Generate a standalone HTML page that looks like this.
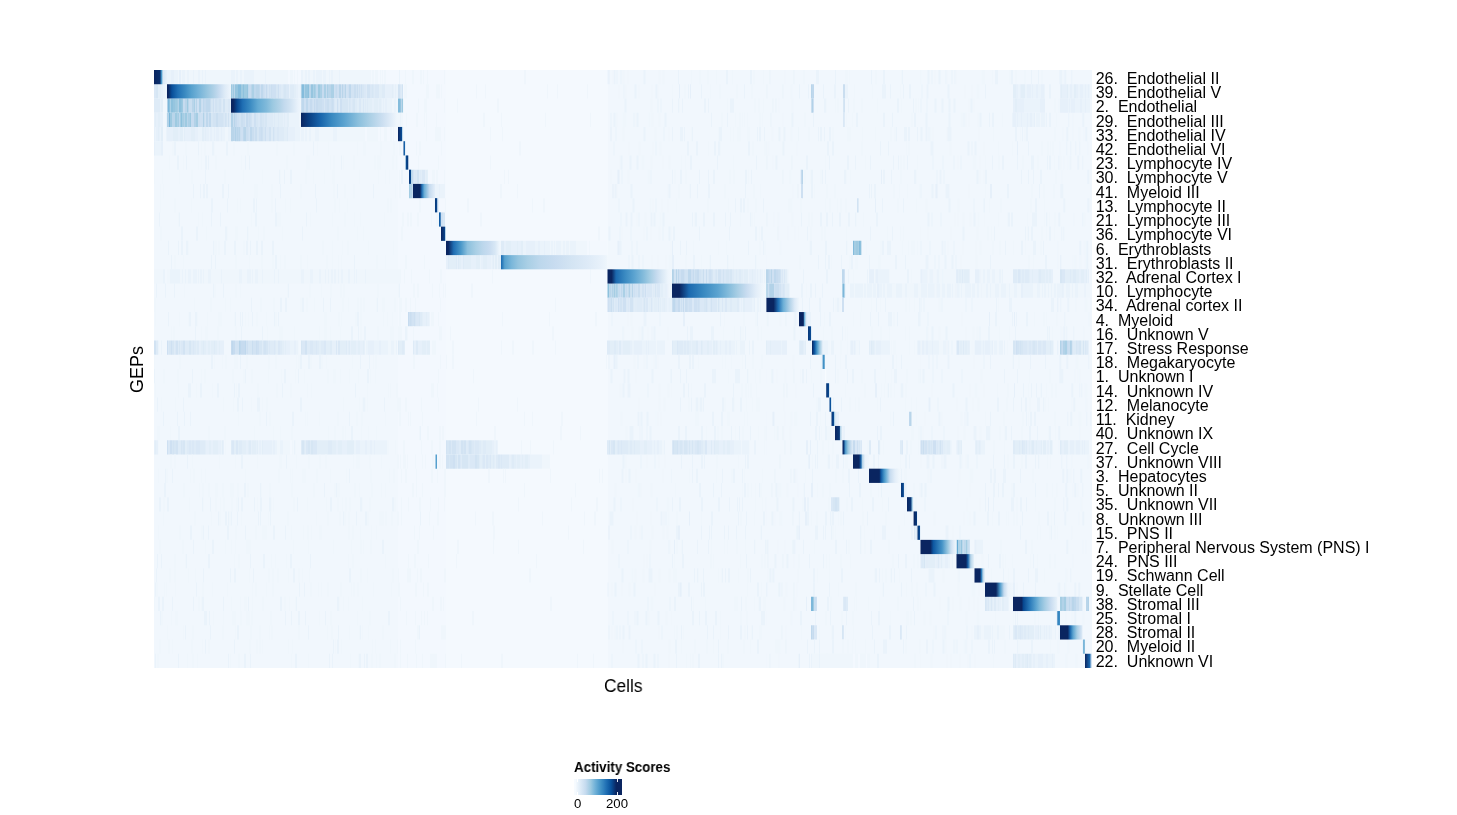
<!DOCTYPE html>
<html><head><meta charset="utf-8"><style>
html,body{margin:0;padding:0;background:#fff;width:1457px;height:815px;overflow:hidden;position:relative}
body{font-family:"Liberation Sans",sans-serif;color:#000}
.t,#labels{will-change:transform}
.l{position:absolute;left:1095.7px;margin-top:2px;white-space:pre;font-size:16px;line-height:14.238px;height:14.238px}
.t{position:absolute;white-space:pre}
</style></head><body>
<svg width="1457" height="815" style="position:absolute;left:0;top:0" shape-rendering="crispEdges"><defs><linearGradient id="g1" x1="0" x2="1" y1="0" y2="0"><stop offset="0.000" stop-color="#0a2560"/><stop offset="0.462" stop-color="#0a306e"/><stop offset="0.577" stop-color="#4a98c9"/><stop offset="0.692" stop-color="#d9e8f5"/><stop offset="1.000" stop-color="#e7f1fa"/></linearGradient><linearGradient id="g2" x1="0" x2="1" y1="0" y2="0"><stop offset="0.000" stop-color="#0a2560"/><stop offset="0.019" stop-color="#0a2560"/><stop offset="0.078" stop-color="#084f9a"/><stop offset="0.172" stop-color="#2171b5"/><stop offset="0.277" stop-color="#3989c1"/><stop offset="0.380" stop-color="#57a1ce"/><stop offset="0.491" stop-color="#73b2d8"/><stop offset="0.620" stop-color="#94c4df"/><stop offset="0.731" stop-color="#b0d1e7"/><stop offset="0.817" stop-color="#c8dcf0"/><stop offset="0.903" stop-color="#deebf7"/><stop offset="0.980" stop-color="#ebf3fb"/><stop offset="1.000" stop-color="#eff6fc"/></linearGradient><linearGradient id="g3" x1="0" x2="1" y1="0" y2="0"><stop offset="0.007" stop-color="#0a2560"/><stop offset="0.031" stop-color="#0a2560"/><stop offset="0.087" stop-color="#084890"/><stop offset="0.166" stop-color="#1f6eb3"/><stop offset="0.267" stop-color="#3989c1"/><stop offset="0.386" stop-color="#64aad3"/><stop offset="0.503" stop-color="#7fb9da"/><stop offset="0.597" stop-color="#9cc9e1"/><stop offset="0.699" stop-color="#b3d3e8"/><stop offset="0.761" stop-color="#c3daee"/><stop offset="0.856" stop-color="#d3e4f3"/><stop offset="0.957" stop-color="#e9f2fb"/><stop offset="1.000" stop-color="#eff6fc"/></linearGradient><linearGradient id="g4" x1="0" x2="1" y1="0" y2="0"><stop offset="0.000" stop-color="#0a2560"/><stop offset="0.079" stop-color="#093e82"/><stop offset="0.198" stop-color="#1764ab"/><stop offset="0.317" stop-color="#3989c1"/><stop offset="0.445" stop-color="#5ba3d0"/><stop offset="0.594" stop-color="#8cc0dd"/><stop offset="0.713" stop-color="#acd0e6"/><stop offset="0.841" stop-color="#ccdff1"/><stop offset="0.940" stop-color="#e3eef9"/><stop offset="0.990" stop-color="#eff6fc"/><stop offset="1.000" stop-color="#eff6fc"/></linearGradient><linearGradient id="g5" x1="0" x2="1" y1="0" y2="0"><stop offset="0.000" stop-color="#0a2560"/><stop offset="0.636" stop-color="#084890"/><stop offset="0.782" stop-color="#b6d4e9"/><stop offset="1.000" stop-color="#edf5fc"/></linearGradient><linearGradient id="g6" x1="0" x2="1" y1="0" y2="0"><stop offset="0.000" stop-color="#084890"/><stop offset="0.611" stop-color="#1764ab"/><stop offset="1.000" stop-color="#b6d4e9"/></linearGradient><linearGradient id="g7" x1="0" x2="1" y1="0" y2="0"><stop offset="0.000" stop-color="#a6cde4"/><stop offset="0.270" stop-color="#084890"/><stop offset="0.730" stop-color="#093778"/><stop offset="0.892" stop-color="#d0e1f2"/><stop offset="1.000" stop-color="#ebf3fb"/></linearGradient><linearGradient id="g8" x1="0" x2="1" y1="0" y2="0"><stop offset="0.000" stop-color="#093778"/><stop offset="0.720" stop-color="#084890"/><stop offset="1.000" stop-color="#94c4df"/></linearGradient><linearGradient id="g9" x1="0" x2="1" y1="0" y2="0"><stop offset="0.000" stop-color="#0a2560"/><stop offset="0.318" stop-color="#0a2560"/><stop offset="0.409" stop-color="#2171b5"/><stop offset="0.514" stop-color="#6baed6"/><stop offset="0.750" stop-color="#c6dbef"/><stop offset="1.000" stop-color="#e3eef9"/></linearGradient><linearGradient id="g10" x1="0" x2="1" y1="0" y2="0"><stop offset="0.000" stop-color="#093778"/><stop offset="0.500" stop-color="#084890"/><stop offset="0.650" stop-color="#d0e1f2"/><stop offset="1.000" stop-color="#edf5fc"/></linearGradient><linearGradient id="g11" x1="0" x2="1" y1="0" y2="0"><stop offset="0.000" stop-color="#0d57a1"/><stop offset="0.650" stop-color="#1764ab"/><stop offset="1.000" stop-color="#d0e1f2"/></linearGradient><linearGradient id="g12" x1="0" x2="1" y1="0" y2="0"><stop offset="0.000" stop-color="#0a2560"/><stop offset="0.700" stop-color="#094186"/><stop offset="0.900" stop-color="#b6d4e9"/><stop offset="1.000" stop-color="#e7f1fa"/></linearGradient><linearGradient id="g13" x1="0" x2="1" y1="0" y2="0"><stop offset="0.004" stop-color="#0a2560"/><stop offset="0.040" stop-color="#0a2560"/><stop offset="0.140" stop-color="#1f6eb3"/><stop offset="0.271" stop-color="#4a98c9"/><stop offset="0.391" stop-color="#8cc0dd"/><stop offset="0.540" stop-color="#a9cfe5"/><stop offset="0.669" stop-color="#bcd7ec"/><stop offset="0.789" stop-color="#c8dcf0"/><stop offset="0.889" stop-color="#d7e7f5"/><stop offset="0.969" stop-color="#edf5fc"/><stop offset="1.000" stop-color="#eff6fc"/></linearGradient><linearGradient id="g14" x1="0" x2="1" y1="0" y2="0"><stop offset="0.000" stop-color="#2171b5"/><stop offset="0.006" stop-color="#2171b5"/><stop offset="0.035" stop-color="#57a1ce"/><stop offset="0.101" stop-color="#7bb7da"/><stop offset="0.160" stop-color="#94c4df"/><stop offset="0.250" stop-color="#a9cfe5"/><stop offset="0.362" stop-color="#bcd7ec"/><stop offset="0.509" stop-color="#c8dcf0"/><stop offset="0.657" stop-color="#d3e4f3"/><stop offset="0.806" stop-color="#ddeaf7"/><stop offset="0.954" stop-color="#e9f2fb"/><stop offset="1.000" stop-color="#eff6fc"/></linearGradient><linearGradient id="g15" x1="0" x2="1" y1="0" y2="0"><stop offset="0.005" stop-color="#0a2560"/><stop offset="0.065" stop-color="#0a2560"/><stop offset="0.132" stop-color="#1b69af"/><stop offset="0.267" stop-color="#3989c1"/><stop offset="0.411" stop-color="#5ba3d0"/><stop offset="0.553" stop-color="#83bbdb"/><stop offset="0.650" stop-color="#a3cce3"/><stop offset="0.764" stop-color="#c6dbef"/><stop offset="0.842" stop-color="#d9e8f5"/><stop offset="0.938" stop-color="#edf5fc"/><stop offset="1.000" stop-color="#f1f7fd"/></linearGradient><linearGradient id="g16" x1="0" x2="1" y1="0" y2="0"><stop offset="0.002" stop-color="#0a2560"/><stop offset="0.078" stop-color="#0a2560"/><stop offset="0.180" stop-color="#1b69af"/><stop offset="0.333" stop-color="#3989c1"/><stop offset="0.485" stop-color="#5ba3d0"/><stop offset="0.587" stop-color="#7fb9da"/><stop offset="0.689" stop-color="#a6cde4"/><stop offset="0.791" stop-color="#c8dcf0"/><stop offset="0.893" stop-color="#e3eef9"/><stop offset="0.964" stop-color="#eff6fc"/><stop offset="1.000" stop-color="#f1f7fd"/></linearGradient><linearGradient id="g17" x1="0" x2="1" y1="0" y2="0"><stop offset="0.006" stop-color="#0a2560"/><stop offset="0.218" stop-color="#0a2560"/><stop offset="0.368" stop-color="#2171b5"/><stop offset="0.515" stop-color="#6baed6"/><stop offset="0.724" stop-color="#b6d4e9"/><stop offset="0.868" stop-color="#ddeaf7"/><stop offset="1.000" stop-color="#eff6fc"/></linearGradient><linearGradient id="g18" x1="0" x2="1" y1="0" y2="0"><stop offset="0.000" stop-color="#0a2560"/><stop offset="0.478" stop-color="#0a2560"/><stop offset="0.611" stop-color="#6baed6"/><stop offset="0.778" stop-color="#d9e8f5"/><stop offset="1.000" stop-color="#edf5fc"/></linearGradient><linearGradient id="g19" x1="0" x2="1" y1="0" y2="0"><stop offset="0.000" stop-color="#093778"/><stop offset="0.625" stop-color="#084890"/><stop offset="0.750" stop-color="#d0e1f2"/><stop offset="1.000" stop-color="#edf5fc"/></linearGradient><linearGradient id="g20" x1="0" x2="1" y1="0" y2="0"><stop offset="0.000" stop-color="#0a2560"/><stop offset="0.236" stop-color="#0d57a1"/><stop offset="0.472" stop-color="#4a98c9"/><stop offset="0.755" stop-color="#a6cde4"/><stop offset="1.000" stop-color="#dfecf7"/></linearGradient><linearGradient id="g21" x1="0" x2="1" y1="0" y2="0"><stop offset="0.000" stop-color="#3989c1"/><stop offset="0.708" stop-color="#4a98c9"/><stop offset="1.000" stop-color="#e3eef9"/></linearGradient><linearGradient id="g22" x1="0" x2="1" y1="0" y2="0"><stop offset="0.000" stop-color="#f7fbff"/><stop offset="1.000" stop-color="#f7fbff"/></linearGradient><linearGradient id="g23" x1="0" x2="1" y1="0" y2="0"><stop offset="0.000" stop-color="#093778"/><stop offset="0.848" stop-color="#084890"/><stop offset="1.000" stop-color="#b6d4e9"/></linearGradient><linearGradient id="g24" x1="0" x2="1" y1="0" y2="0"><stop offset="0.000" stop-color="#084890"/><stop offset="0.750" stop-color="#0d57a1"/><stop offset="1.000" stop-color="#b6d4e9"/></linearGradient><linearGradient id="g25" x1="0" x2="1" y1="0" y2="0"><stop offset="0.000" stop-color="#093778"/><stop offset="0.600" stop-color="#084890"/><stop offset="0.800" stop-color="#94c4df"/><stop offset="1.000" stop-color="#e7f1fa"/></linearGradient><linearGradient id="g26" x1="0" x2="1" y1="0" y2="0"><stop offset="0.000" stop-color="#0a2560"/><stop offset="0.587" stop-color="#093778"/><stop offset="0.733" stop-color="#b6d4e9"/><stop offset="1.000" stop-color="#edf5fc"/></linearGradient><linearGradient id="g27" x1="0" x2="1" y1="0" y2="0"><stop offset="0.000" stop-color="#0a2560"/><stop offset="0.143" stop-color="#093778"/><stop offset="0.238" stop-color="#4493c7"/><stop offset="0.524" stop-color="#9cc9e1"/><stop offset="0.810" stop-color="#ccdff1"/><stop offset="1.000" stop-color="#dfecf7"/></linearGradient><linearGradient id="g28" x1="0" x2="1" y1="0" y2="0"><stop offset="0.000" stop-color="#0a2560"/><stop offset="0.375" stop-color="#0a2560"/><stop offset="0.500" stop-color="#1764ab"/><stop offset="0.594" stop-color="#b6d4e9"/><stop offset="0.750" stop-color="#ebf3fb"/><stop offset="1.000" stop-color="#eff6fc"/></linearGradient><linearGradient id="g29" x1="0" x2="1" y1="0" y2="0"><stop offset="0.000" stop-color="#0a2560"/><stop offset="0.322" stop-color="#0a2560"/><stop offset="0.375" stop-color="#0d57a1"/><stop offset="0.469" stop-color="#4493c7"/><stop offset="0.531" stop-color="#6baed6"/><stop offset="0.656" stop-color="#c6dbef"/><stop offset="0.812" stop-color="#e3eef9"/><stop offset="0.938" stop-color="#eff6fc"/><stop offset="1.000" stop-color="#f1f7fd"/></linearGradient><linearGradient id="g30" x1="0" x2="1" y1="0" y2="0"><stop offset="0.000" stop-color="#093778"/><stop offset="0.400" stop-color="#084890"/><stop offset="0.583" stop-color="#e3eef9"/><stop offset="1.000" stop-color="#eff6fc"/></linearGradient><linearGradient id="g31" x1="0" x2="1" y1="0" y2="0"><stop offset="0.000" stop-color="#0a2560"/><stop offset="0.606" stop-color="#093778"/><stop offset="0.758" stop-color="#94c4df"/><stop offset="1.000" stop-color="#edf5fc"/></linearGradient><linearGradient id="g32" x1="0" x2="1" y1="0" y2="0"><stop offset="0.000" stop-color="#0a2560"/><stop offset="0.769" stop-color="#093778"/><stop offset="1.000" stop-color="#e3eef9"/></linearGradient><linearGradient id="g33" x1="0" x2="1" y1="0" y2="0"><stop offset="0.000" stop-color="#093778"/><stop offset="0.667" stop-color="#084890"/><stop offset="1.000" stop-color="#d9e8f5"/></linearGradient><linearGradient id="g34" x1="0" x2="1" y1="0" y2="0"><stop offset="0.000" stop-color="#0a2560"/><stop offset="0.272" stop-color="#0a2560"/><stop offset="0.356" stop-color="#0d57a1"/><stop offset="0.597" stop-color="#4493c7"/><stop offset="0.764" stop-color="#9cc9e1"/><stop offset="0.847" stop-color="#ccdff1"/><stop offset="0.931" stop-color="#e3eef9"/><stop offset="1.000" stop-color="#eff6fc"/></linearGradient><linearGradient id="g35" x1="0" x2="1" y1="0" y2="0"><stop offset="0.000" stop-color="#0a2560"/><stop offset="0.528" stop-color="#0a2560"/><stop offset="0.639" stop-color="#1764ab"/><stop offset="0.789" stop-color="#b6d4e9"/><stop offset="1.000" stop-color="#edf5fc"/></linearGradient><linearGradient id="g36" x1="0" x2="1" y1="0" y2="0"><stop offset="0.000" stop-color="#0a2560"/><stop offset="0.524" stop-color="#0a2560"/><stop offset="0.667" stop-color="#2e7ebc"/><stop offset="0.810" stop-color="#b6d4e9"/><stop offset="1.000" stop-color="#edf5fc"/></linearGradient><linearGradient id="g37" x1="0" x2="1" y1="0" y2="0"><stop offset="0.000" stop-color="#0a2560"/><stop offset="0.393" stop-color="#0a2560"/><stop offset="0.536" stop-color="#4a98c9"/><stop offset="0.679" stop-color="#c6dbef"/><stop offset="0.821" stop-color="#ebf3fb"/><stop offset="1.000" stop-color="#eff6fc"/></linearGradient><linearGradient id="g38" x1="0" x2="1" y1="0" y2="0"><stop offset="0.000" stop-color="#0a2560"/><stop offset="0.196" stop-color="#0a2560"/><stop offset="0.237" stop-color="#084890"/><stop offset="0.377" stop-color="#2979b9"/><stop offset="0.517" stop-color="#5ba3d0"/><stop offset="0.600" stop-color="#7fb9da"/><stop offset="0.722" stop-color="#a6cde4"/><stop offset="0.851" stop-color="#c8dcf0"/><stop offset="0.962" stop-color="#dfecf7"/><stop offset="1.000" stop-color="#e7f1fa"/></linearGradient><linearGradient id="g39" x1="0" x2="1" y1="0" y2="0"><stop offset="0.000" stop-color="#2e7ebc"/><stop offset="0.815" stop-color="#3b8bc3"/><stop offset="1.000" stop-color="#e3eef9"/></linearGradient><linearGradient id="g40" x1="0" x2="1" y1="0" y2="0"><stop offset="0.000" stop-color="#0a2560"/><stop offset="0.347" stop-color="#0a2560"/><stop offset="0.444" stop-color="#1764ab"/><stop offset="0.578" stop-color="#5ba3d0"/><stop offset="0.756" stop-color="#a6cde4"/><stop offset="0.889" stop-color="#c6dbef"/><stop offset="1.000" stop-color="#dfecf7"/></linearGradient><linearGradient id="g41" x1="0" x2="1" y1="0" y2="0"><stop offset="0.000" stop-color="#e3eef9"/><stop offset="0.200" stop-color="#73b2d8"/><stop offset="0.920" stop-color="#8cc0dd"/><stop offset="1.000" stop-color="#e3eef9"/></linearGradient><linearGradient id="g42" x1="0" x2="1" y1="0" y2="0"><stop offset="0.000" stop-color="#0a2560"/><stop offset="0.662" stop-color="#1764ab"/><stop offset="1.000" stop-color="#e3eef9"/></linearGradient></defs><rect x="154" y="70" width="937.8" height="598" fill="#f4f9fe"/><rect x="154" y="70" width="244" height="598" fill="#f1f7fd"/><rect x="398" y="70" width="48" height="598" fill="#f3f8fe"/><rect x="607.5" y="70" width="484.3" height="598" fill="#f1f7fd"/><g shape-rendering="auto"><g transform="translate(0 70.000) scale(1 14.2381)"><path fill="#eaf3fb" d="M159 0h1v1h-1zM176 0h1v1h-1zM191 0h1v1h-1zM248 0h1v1h-1zM283 0h1v1h-1zM296 0h1v1h-1zM313 0h1v1h-1zM344 0h1v1h-1zM383 0h2v1h-2zM399 0h1v1h-1zM607.5 0h1v1h-1zM613.5 0h2v1h-2zM616.5 0h1v1h-1zM620.5 0h1v1h-1zM643.5 0h2v1h-2zM678 0h1v1h-1zM726 0h2v1h-2zM750 0h2v1h-2zM769.4 0h1v1h-1zM793.4 0h1v1h-1zM816 0h1v1h-1zM817 0h2v1h-2zM835 0h1v1h-1zM871 0h1v1h-1zM883 0h2v1h-2zM902 0h1v1h-1zM927.5 0h2v1h-2zM931.5 0h1v1h-1zM938.5 0h2v1h-2zM945.5 0h1v1h-1zM951.5 0h1v1h-1zM954.5 0h1v1h-1zM995 0h1v1h-1zM996 0h2v1h-2zM1011 0h2v1h-2zM1031 0h1v1h-1zM1038 0h1v1h-1zM1059.3 0h1v1h-1zM1060.3 0h2v1h-2zM1064.3 0h2v1h-2zM1071.3 0h1v1h-1zM167 0h1v1h-1zM168 0h2v1h-2zM170 0h1v1h-1zM174 0h1v1h-1zM175 0h1v1h-1zM176 0h1v1h-1zM177 0h1v1h-1zM182 0h2v1h-2zM184 0h1v1h-1zM187 0h1v1h-1zM188 0h1v1h-1zM193 0h1v1h-1zM196 0h1v1h-1zM198 0h2v1h-2zM202 0h1v1h-1zM205 0h1v1h-1zM231 0h1v1h-1zM232 0h2v1h-2zM234 0h1v1h-1zM236 0h1v1h-1zM237 0h1v1h-1zM240 0h2v1h-2zM244 0h1v1h-1zM245 0h1v1h-1zM246 0h1v1h-1zM247 0h2v1h-2zM249 0h1v1h-1zM250 0h2v1h-2zM252 0h1v1h-1zM253 0h1v1h-1zM265 0h1v1h-1zM301 0h2v1h-2zM305 0h2v1h-2zM308 0h2v1h-2zM312 0h1v1h-1zM313 0h1v1h-1zM314 0h2v1h-2zM316 0h1v1h-1zM317 0h2v1h-2zM319 0h2v1h-2zM321 0h1v1h-1zM322 0h2v1h-2zM324 0h1v1h-1zM325 0h1v1h-1zM329 0h1v1h-1zM331 0h2v1h-2zM339 0h1v1h-1z"/><path fill="#eff6fc" d="M195 0h2v1h-2zM222 0h2v1h-2zM285 0h2v1h-2zM312 0h1v1h-1zM315 0h1v1h-1zM322 0h1v1h-1zM327 0h1v1h-1zM333 0h1v1h-1zM345 0h1v1h-1zM353 0h2v1h-2zM360 0h1v1h-1zM376 0h1v1h-1zM382 0h1v1h-1zM387 0h2v1h-2zM391 0h2v1h-2zM396 0h1v1h-1zM405 0h1v1h-1zM412 0h2v1h-2zM420 0h1v1h-1zM421 0h1v1h-1zM423 0h1v1h-1zM427 0h1v1h-1zM444 0h1v1h-1zM524 0h2v1h-2zM612.5 0h1v1h-1zM622.5 0h2v1h-2zM627.5 0h1v1h-1zM658.5 0h2v1h-2zM662.5 0h2v1h-2zM691 0h1v1h-1zM699 0h2v1h-2zM707 0h2v1h-2zM716 0h1v1h-1zM732 0h1v1h-1zM753 0h1v1h-1zM754 0h1v1h-1zM763 0h1v1h-1zM784.4 0h1v1h-1zM803 0h2v1h-2zM845 0h2v1h-2zM847 0h1v1h-1zM849 0h1v1h-1zM875 0h2v1h-2zM901 0h1v1h-1zM920 0h0.5v1h-0.5zM920.5 0h1v1h-1zM934.5 0h1v1h-1zM946.5 0h1v1h-1zM955.5 0h1v1h-1zM981.5 0h2v1h-2zM983.5 0h1v1h-1zM984.5 0h0.5v1h-0.5zM992 0h1v1h-1zM1009 0h2v1h-2zM1015 0h2v1h-2zM1024 0h2v1h-2zM1041 0h2v1h-2zM1063.3 0h1v1h-1zM178 0h1v1h-1zM181 0h1v1h-1zM185 0h2v1h-2zM189 0h1v1h-1zM190 0h2v1h-2zM192 0h1v1h-1zM194 0h2v1h-2zM197 0h1v1h-1zM200 0h1v1h-1zM201 0h1v1h-1zM203 0h2v1h-2zM206 0h1v1h-1zM207 0h2v1h-2zM209 0h2v1h-2zM211 0h1v1h-1zM212 0h1v1h-1zM213 0h1v1h-1zM214 0h1v1h-1zM215 0h1v1h-1zM216 0h2v1h-2zM218 0h2v1h-2zM220 0h1v1h-1zM221 0h1v1h-1zM222 0h1v1h-1zM223 0h1v1h-1zM224 0h1v1h-1zM225 0h2v1h-2zM227 0h1v1h-1zM228 0h1v1h-1zM229 0h2v1h-2zM235 0h1v1h-1zM238 0h2v1h-2zM242 0h1v1h-1zM243 0h1v1h-1zM254 0h2v1h-2zM256 0h1v1h-1zM257 0h2v1h-2zM259 0h1v1h-1zM260 0h1v1h-1zM261 0h2v1h-2zM263 0h1v1h-1zM264 0h1v1h-1zM266 0h1v1h-1zM267 0h1v1h-1zM268 0h1v1h-1zM269 0h1v1h-1zM270 0h1v1h-1zM271 0h1v1h-1zM272 0h1v1h-1zM273 0h1v1h-1zM274 0h1v1h-1zM275 0h1v1h-1zM276 0h1v1h-1zM277 0h1v1h-1zM278 0h2v1h-2zM280 0h1v1h-1zM281 0h1v1h-1zM282 0h1v1h-1zM283 0h1v1h-1zM284 0h1v1h-1zM285 0h1v1h-1zM286 0h1v1h-1zM287 0h1v1h-1zM290 0h1v1h-1zM291 0h2v1h-2zM294 0h1v1h-1zM297 0h1v1h-1zM303 0h2v1h-2zM307 0h1v1h-1zM310 0h2v1h-2zM326 0h1v1h-1zM327 0h2v1h-2zM330 0h1v1h-1zM333 0h1v1h-1zM334 0h1v1h-1zM335 0h1v1h-1zM336 0h2v1h-2zM338 0h1v1h-1zM340 0h1v1h-1zM341 0h2v1h-2zM343 0h2v1h-2zM345 0h1v1h-1zM346 0h1v1h-1zM347 0h1v1h-1zM348 0h2v1h-2zM350 0h1v1h-1zM351 0h1v1h-1zM352 0h1v1h-1zM353 0h1v1h-1zM354 0h1v1h-1zM355 0h1v1h-1zM356 0h1v1h-1zM357 0h2v1h-2zM359 0h1v1h-1zM360 0h1v1h-1zM361 0h1v1h-1zM362 0h2v1h-2zM364 0h1v1h-1zM365 0h1v1h-1zM366 0h1v1h-1zM367 0h1v1h-1zM368 0h1v1h-1zM369 0h1v1h-1zM370 0h1v1h-1zM372 0h2v1h-2zM375 0h1v1h-1zM376 0h1v1h-1zM377 0h1v1h-1zM380 0h1v1h-1zM382 0h1v1h-1zM384 0h2v1h-2z"/><path fill="#e6f0fa" d="M608.5 0h1v1h-1zM171 0h2v1h-2zM173 0h1v1h-1zM179 0h2v1h-2z"/><path fill="#f3f8fe" d="M288 0h1v1h-1zM289 0h1v1h-1zM293 0h1v1h-1zM295 0h2v1h-2zM298 0h2v1h-2zM300 0h1v1h-1zM371 0h1v1h-1zM374 0h1v1h-1zM378 0h2v1h-2zM381 0h1v1h-1zM383 0h1v1h-1zM386 0h2v1h-2zM388 0h1v1h-1zM389 0h2v1h-2zM391 0h2v1h-2zM393 0h2v1h-2zM395 0h1v1h-1zM396 0h1v1h-1zM397 0h1v1h-1z"/></g><g transform="translate(0 84.238) scale(1 14.2381)"><path fill="#eaf3fb" d="M160 0h2v1h-2zM166 0h2v1h-2zM196 0h2v1h-2zM209 0h2v1h-2zM216 0h2v1h-2zM321 0h2v1h-2zM338 0h2v1h-2zM390 0h1v1h-1zM623.5 0h1v1h-1zM634.5 0h2v1h-2zM655.5 0h2v1h-2zM688 0h1v1h-1zM701 0h1v1h-1zM744 0h1v1h-1zM766.4 0h1v1h-1zM782.4 0h1v1h-1zM799 0h1v1h-1zM808 0h1v1h-1zM823 0h1v1h-1zM834 0h2v1h-2zM845 0h2v1h-2zM847 0h1v1h-1zM882 0h2v1h-2zM884 0h2v1h-2zM890 0h1v1h-1zM903 0h1v1h-1zM909 0h2v1h-2zM921.5 0h1v1h-1zM926.5 0h1v1h-1zM927.5 0h1v1h-1zM947.5 0h2v1h-2zM985 0h1v1h-1zM1041 0h1v1h-1zM1049 0h2v1h-2zM1069.3 0h2v1h-2zM163 0h2v1h-2zM166 0h1v1h-1zM298 0h2v1h-2zM394 0h1v1h-1zM396 0h1v1h-1zM397 0h1v1h-1zM1018 0h2v1h-2zM1025 0h2v1h-2zM1031 0h1v1h-1zM1033 0h1v1h-1zM1034 0h1v1h-1zM1035 0h1v1h-1zM1038 0h1v1h-1zM1039 0h1v1h-1zM1040 0h1v1h-1zM1044 0h1v1h-1zM1068 0h2v1h-2zM1072 0h2v1h-2zM1078 0h1v1h-1zM1079 0h1v1h-1zM1083 0h2v1h-2zM1086 0h2v1h-2zM1089 0h1v1h-1z"/><path fill="#eff6fc" d="M180 0h1v1h-1zM212 0h2v1h-2zM238 0h1v1h-1zM252 0h1v1h-1zM307 0h1v1h-1zM316 0h1v1h-1zM328 0h2v1h-2zM356 0h1v1h-1zM371 0h1v1h-1zM387 0h1v1h-1zM392 0h1v1h-1zM404 0h2v1h-2zM406 0h1v1h-1zM426 0h2v1h-2zM428 0h1v1h-1zM436 0h2v1h-2zM438 0h1v1h-1zM439 0h1v1h-1zM441 0h1v1h-1zM476 0h1v1h-1zM485 0h1v1h-1zM547 0h1v1h-1zM557 0h1v1h-1zM587 0h1v1h-1zM618.5 0h1v1h-1zM624.5 0h2v1h-2zM638.5 0h1v1h-1zM651.5 0h1v1h-1zM657.5 0h1v1h-1zM672 0h1v1h-1zM684 0h2v1h-2zM710 0h1v1h-1zM719 0h2v1h-2zM736 0h2v1h-2zM751 0h2v1h-2zM790.4 0h2v1h-2zM854 0h1v1h-1zM872 0h1v1h-1zM900 0h1v1h-1zM964.5 0h1v1h-1zM971.5 0h1v1h-1zM976.5 0h2v1h-2zM978.5 0h1v1h-1zM1060.3 0h2v1h-2zM1090.3 0h1.5v1h-1.5zM165 0h1v1h-1z"/><path fill="#e6f0fa" d="M679 0h1v1h-1zM690 0h1v1h-1zM161 0h2v1h-2zM289 0h1v1h-1zM296 0h2v1h-2zM300 0h1v1h-1zM385 0h2v1h-2zM387 0h2v1h-2zM389 0h1v1h-1zM390 0h1v1h-1zM391 0h1v1h-1zM393 0h1v1h-1zM395 0h1v1h-1zM1016 0h2v1h-2zM1020 0h1v1h-1zM1027 0h1v1h-1zM1028 0h1v1h-1zM1029 0h1v1h-1zM1030 0h1v1h-1zM1032 0h1v1h-1zM1036 0h2v1h-2zM1041 0h2v1h-2zM1043 0h1v1h-1zM1060 0h1v1h-1zM1062 0h2v1h-2zM1064 0h1v1h-1zM1065 0h1v1h-1zM1066 0h1v1h-1zM1070 0h2v1h-2zM1076 0h1v1h-1zM1077 0h1v1h-1zM1080 0h1v1h-1zM1081 0h2v1h-2zM1085 0h1v1h-1zM1088 0h1v1h-1z"/><path fill="#dae8f6" d="M154 0h2v1h-2zM279 0h1v1h-1zM280 0h1v1h-1zM283 0h1v1h-1zM286 0h1v1h-1zM287 0h2v1h-2zM364 0h2v1h-2zM370 0h2v1h-2zM373 0h1v1h-1zM375 0h1v1h-1zM376 0h1v1h-1zM377 0h1v1h-1zM378 0h1v1h-1zM400 0h1v1h-1z"/><path fill="#d6e6f4" d="M156 0h2v1h-2zM268 0h1v1h-1zM276 0h2v1h-2zM284 0h1v1h-1zM285 0h1v1h-1zM358 0h1v1h-1zM360 0h1v1h-1zM362 0h2v1h-2zM372 0h1v1h-1z"/><path fill="#e2eef8" d="M158 0h1v1h-1zM159 0h1v1h-1zM160 0h1v1h-1zM294 0h1v1h-1zM295 0h1v1h-1zM379 0h1v1h-1zM380 0h2v1h-2zM392 0h1v1h-1zM1013 0h1v1h-1zM1014 0h2v1h-2zM1021 0h1v1h-1zM1022 0h2v1h-2zM1024 0h1v1h-1zM1061 0h1v1h-1zM1067 0h1v1h-1zM1074 0h2v1h-2z"/><path fill="#9ecae1" d="M231 0h1v1h-1zM233 0h1v1h-1zM241 0h2v1h-2zM244 0h2v1h-2zM246 0h1v1h-1zM314 0h1v1h-1zM318 0h2v1h-2z"/><path fill="#b2d2e8" d="M232 0h1v1h-1z"/><path fill="#b9d5ea" d="M234 0h1v1h-1zM251 0h1v1h-1zM256 0h2v1h-2zM258 0h1v1h-1zM309 0h2v1h-2zM328 0h2v1h-2zM330 0h1v1h-1zM339 0h2v1h-2zM342 0h1v1h-1zM345 0h1v1h-1zM811 0h1v1h-1z"/><path fill="#96c5df" d="M235 0h1v1h-1zM236 0h2v1h-2zM247 0h1v1h-1zM305 0h2v1h-2zM307 0h1v1h-1zM311 0h2v1h-2z"/><path fill="#84bcdc" d="M238 0h1v1h-1zM239 0h2v1h-2zM302 0h2v1h-2z"/><path fill="#8dc1dd" d="M243 0h1v1h-1zM308 0h1v1h-1z"/><path fill="#bfd8ed" d="M248 0h1v1h-1zM254 0h2v1h-2zM259 0h1v1h-1zM261 0h1v1h-1zM262 0h1v1h-1zM316 0h2v1h-2zM349 0h2v1h-2zM812 0h2v1h-2z"/><path fill="#c6dbef" d="M249 0h1v1h-1zM250 0h1v1h-1zM266 0h1v1h-1zM322 0h2v1h-2zM326 0h1v1h-1zM336 0h1v1h-1z"/><path fill="#abd0e6" d="M252 0h2v1h-2zM301 0h1v1h-1zM304 0h1v1h-1zM313 0h1v1h-1zM315 0h1v1h-1zM320 0h2v1h-2zM324 0h2v1h-2zM327 0h1v1h-1zM331 0h2v1h-2zM333 0h1v1h-1z"/><path fill="#cee0f2" d="M260 0h1v1h-1zM264 0h1v1h-1zM269 0h1v1h-1zM272 0h2v1h-2zM274 0h2v1h-2zM278 0h1v1h-1zM334 0h1v1h-1zM337 0h2v1h-2zM341 0h1v1h-1zM348 0h1v1h-1zM359 0h1v1h-1zM361 0h1v1h-1z"/><path fill="#cadef0" d="M263 0h1v1h-1zM271 0h1v1h-1zM335 0h1v1h-1zM343 0h2v1h-2zM354 0h2v1h-2zM357 0h1v1h-1zM843 0h2v1h-2z"/><path fill="#d2e3f3" d="M265 0h1v1h-1zM267 0h1v1h-1zM270 0h1v1h-1zM346 0h2v1h-2zM351 0h2v1h-2zM353 0h1v1h-1zM356 0h1v1h-1zM367 0h2v1h-2zM369 0h1v1h-1zM398 0h2v1h-2zM402 0h1v1h-1z"/><path fill="#deebf7" d="M281 0h2v1h-2zM290 0h1v1h-1zM291 0h1v1h-1zM292 0h2v1h-2zM366 0h1v1h-1zM374 0h1v1h-1zM382 0h2v1h-2zM384 0h1v1h-1zM401 0h1v1h-1z"/></g><g transform="translate(0 98.476) scale(1 14.2381)"><path fill="#eff6fc" d="M158 0h1v1h-1zM174 0h1v1h-1zM175 0h2v1h-2zM177 0h1v1h-1zM178 0h2v1h-2zM184 0h1v1h-1zM193 0h2v1h-2zM195 0h2v1h-2zM213 0h1v1h-1zM218 0h2v1h-2zM232 0h1v1h-1zM239 0h1v1h-1zM256 0h2v1h-2zM260 0h1v1h-1zM273 0h2v1h-2zM281 0h2v1h-2zM293 0h1v1h-1zM295 0h2v1h-2zM299 0h2v1h-2zM308 0h1v1h-1zM309 0h2v1h-2zM311 0h2v1h-2zM314 0h1v1h-1zM327 0h2v1h-2zM329 0h2v1h-2zM333 0h1v1h-1zM337 0h2v1h-2zM363 0h1v1h-1zM372 0h1v1h-1zM394 0h1v1h-1zM403 0h1v1h-1zM418 0h1v1h-1zM424 0h2v1h-2zM426 0h1v1h-1zM444 0h1v1h-1zM457 0h1v1h-1zM497 0h2v1h-2zM650.5 0h2v1h-2zM679 0h1v1h-1zM727 0h1v1h-1zM754 0h2v1h-2zM758 0h2v1h-2zM763 0h1v1h-1zM778.4 0h1v1h-1zM791.4 0h2v1h-2zM826 0h1v1h-1zM835 0h1v1h-1zM837 0h2v1h-2zM853 0h2v1h-2zM861 0h2v1h-2zM877 0h1v1h-1zM901 0h1v1h-1zM915 0h2v1h-2zM918 0h1v1h-1zM968.5 0h1v1h-1zM973.5 0h1v1h-1zM1021 0h1v1h-1zM1034 0h1v1h-1zM1054 0h2v1h-2zM1058.3 0h2v1h-2zM1078.3 0h1v1h-1zM1079.3 0h2v1h-2zM1088.3 0h1v1h-1zM392 0h1v1h-1zM393 0h1v1h-1zM396 0h2v1h-2z"/><path fill="#eaf3fb" d="M201 0h1v1h-1zM203 0h1v1h-1zM207 0h2v1h-2zM226 0h1v1h-1zM240 0h2v1h-2zM271 0h1v1h-1zM286 0h1v1h-1zM289 0h1v1h-1zM343 0h2v1h-2zM370 0h1v1h-1zM371 0h1v1h-1zM398 0h1v1h-1zM624.5 0h2v1h-2zM657.5 0h1v1h-1zM660.5 0h1v1h-1zM672 0h1v1h-1zM678 0h1v1h-1zM682 0h1v1h-1zM704 0h2v1h-2zM708 0h1v1h-1zM730 0h2v1h-2zM732 0h2v1h-2zM772.4 0h1v1h-1zM775.4 0h1v1h-1zM824 0h2v1h-2zM848 0h1v1h-1zM897 0h2v1h-2zM913 0h1v1h-1zM920.5 0h1v1h-1zM926.5 0h1v1h-1zM934.5 0h2v1h-2zM941.5 0h2v1h-2zM948.5 0h2v1h-2zM953.5 0h2v1h-2zM970.5 0h2v1h-2zM1064.3 0h2v1h-2zM1072.3 0h1v1h-1zM1073.3 0h1v1h-1zM382 0h1v1h-1zM384 0h1v1h-1zM387 0h2v1h-2zM389 0h2v1h-2zM391 0h1v1h-1zM394 0h2v1h-2zM1024 0h1v1h-1zM1025 0h1v1h-1zM1026 0h1v1h-1zM1027 0h1v1h-1zM1028 0h2v1h-2zM1030 0h1v1h-1zM1031 0h1v1h-1zM1032 0h2v1h-2zM1034 0h1v1h-1zM1035 0h1v1h-1zM1036 0h2v1h-2zM1038 0h2v1h-2zM1068 0h1v1h-1zM1070 0h1v1h-1zM1075 0h1v1h-1zM1076 0h2v1h-2zM1078 0h2v1h-2zM1082 0h1v1h-1zM1083 0h1v1h-1zM1084 0h1v1h-1zM1086 0h1v1h-1zM1087 0h1v1h-1zM1088 0h1v1h-1zM1089 0h1v1h-1z"/><path fill="#e6f0fa" d="M1013 0h1v1h-1zM160 0h1v1h-1zM372 0h1v1h-1zM373 0h1v1h-1zM378 0h1v1h-1zM381 0h1v1h-1zM383 0h1v1h-1zM385 0h1v1h-1zM386 0h1v1h-1zM1013 0h2v1h-2zM1017 0h2v1h-2zM1019 0h1v1h-1zM1020 0h1v1h-1zM1021 0h1v1h-1zM1022 0h1v1h-1zM1023 0h1v1h-1zM1040 0h2v1h-2zM1042 0h2v1h-2zM1044 0h1v1h-1zM1060 0h1v1h-1zM1061 0h1v1h-1zM1062 0h1v1h-1zM1063 0h1v1h-1zM1064 0h1v1h-1zM1065 0h1v1h-1zM1066 0h2v1h-2zM1069 0h1v1h-1zM1071 0h1v1h-1zM1072 0h1v1h-1zM1073 0h1v1h-1zM1074 0h1v1h-1zM1080 0h2v1h-2zM1085 0h1v1h-1z"/><path fill="#deebf7" d="M154 0h2v1h-2zM156 0h2v1h-2zM158 0h2v1h-2zM222 0h1v1h-1zM225 0h2v1h-2zM227 0h1v1h-1zM335 0h2v1h-2zM339 0h1v1h-1zM348 0h1v1h-1zM351 0h1v1h-1zM355 0h2v1h-2zM365 0h1v1h-1zM367 0h1v1h-1z"/><path fill="#e2eef8" d="M161 0h1v1h-1zM162 0h1v1h-1zM230 0h1v1h-1zM357 0h2v1h-2zM361 0h2v1h-2zM364 0h1v1h-1zM366 0h1v1h-1zM368 0h2v1h-2zM370 0h2v1h-2zM374 0h1v1h-1zM375 0h2v1h-2zM377 0h1v1h-1zM379 0h2v1h-2zM1015 0h2v1h-2z"/><path fill="#b2d2e8" d="M167 0h1v1h-1zM178 0h1v1h-1zM199 0h2v1h-2zM812 0h1v1h-1z"/><path fill="#7cb7da" d="M168 0h1v1h-1z"/><path fill="#8dc1dd" d="M169 0h1v1h-1zM171 0h2v1h-2zM179 0h2v1h-2z"/><path fill="#abd0e6" d="M170 0h1v1h-1zM194 0h1v1h-1z"/><path fill="#96c5df" d="M173 0h2v1h-2zM181 0h1v1h-1zM400 0h1v1h-1z"/><path fill="#9ecae1" d="M175 0h1v1h-1zM176 0h1v1h-1zM182 0h1v1h-1zM187 0h1v1h-1zM402 0h1v1h-1z"/><path fill="#a5cde3" d="M177 0h1v1h-1z"/><path fill="#c6dbef" d="M183 0h2v1h-2zM204 0h1v1h-1zM205 0h1v1h-1zM310 0h2v1h-2zM314 0h1v1h-1zM316 0h2v1h-2z"/><path fill="#b9d5ea" d="M185 0h2v1h-2zM188 0h1v1h-1zM192 0h2v1h-2zM196 0h1v1h-1zM401 0h1v1h-1z"/><path fill="#cadef0" d="M189 0h2v1h-2zM191 0h1v1h-1zM195 0h1v1h-1zM201 0h1v1h-1zM210 0h1v1h-1zM301 0h1v1h-1zM318 0h1v1h-1zM319 0h2v1h-2zM321 0h1v1h-1zM327 0h2v1h-2zM332 0h1v1h-1zM811 0h1v1h-1z"/><path fill="#cee0f2" d="M197 0h2v1h-2zM202 0h1v1h-1zM213 0h1v1h-1zM304 0h1v1h-1zM305 0h1v1h-1zM308 0h2v1h-2zM312 0h1v1h-1zM315 0h1v1h-1zM322 0h2v1h-2zM325 0h1v1h-1zM326 0h1v1h-1zM331 0h1v1h-1zM333 0h1v1h-1zM337 0h1v1h-1zM340 0h2v1h-2zM813 0h1v1h-1z"/><path fill="#bfd8ed" d="M203 0h1v1h-1zM206 0h1v1h-1zM207 0h1v1h-1zM208 0h2v1h-2zM302 0h2v1h-2zM306 0h2v1h-2z"/><path fill="#d6e6f4" d="M211 0h2v1h-2zM217 0h2v1h-2zM324 0h1v1h-1zM342 0h2v1h-2zM344 0h1v1h-1zM345 0h1v1h-1zM346 0h1v1h-1zM347 0h1v1h-1zM349 0h1v1h-1zM353 0h2v1h-2zM843 0h1v1h-1z"/><path fill="#dae8f6" d="M214 0h1v1h-1zM221 0h1v1h-1zM228 0h2v1h-2zM334 0h1v1h-1zM338 0h1v1h-1zM350 0h1v1h-1zM352 0h1v1h-1zM359 0h2v1h-2zM363 0h1v1h-1z"/><path fill="#d2e3f3" d="M215 0h2v1h-2zM219 0h2v1h-2zM223 0h2v1h-2zM313 0h1v1h-1zM329 0h2v1h-2zM844 0h1v1h-1z"/><path fill="#84bcdc" d="M398 0h2v1h-2z"/></g><g transform="translate(0 112.714) scale(1 14.2381)"><path fill="#eff6fc" d="M161 0h2v1h-2zM178 0h1v1h-1zM201 0h1v1h-1zM208 0h2v1h-2zM210 0h2v1h-2zM254 0h1v1h-1zM276 0h2v1h-2zM280 0h1v1h-1zM293 0h2v1h-2zM299 0h2v1h-2zM301 0h2v1h-2zM305 0h2v1h-2zM317 0h2v1h-2zM333 0h2v1h-2zM342 0h2v1h-2zM371 0h1v1h-1zM375 0h1v1h-1zM378 0h1v1h-1zM382 0h1v1h-1zM393 0h1v1h-1zM395 0h2v1h-2zM406 0h1v1h-1zM416 0h2v1h-2zM424 0h1v1h-1zM426 0h1v1h-1zM436 0h1v1h-1zM483 0h2v1h-2zM501 0h1v1h-1zM545 0h1v1h-1zM590 0h1v1h-1zM615.5 0h2v1h-2zM622.5 0h1v1h-1zM623.5 0h1v1h-1zM624.5 0h2v1h-2zM634.5 0h1v1h-1zM648.5 0h2v1h-2zM651.5 0h2v1h-2zM658.5 0h2v1h-2zM721 0h2v1h-2zM735 0h1v1h-1zM739 0h2v1h-2zM742 0h1v1h-1zM744 0h1v1h-1zM747 0h1v1h-1zM759 0h2v1h-2zM762 0h1v1h-1zM782.4 0h1v1h-1zM804 0h2v1h-2zM846 0h1v1h-1zM852 0h1v1h-1zM911 0h2v1h-2zM960.5 0h2v1h-2zM962.5 0h1v1h-1zM964.5 0h2v1h-2zM968.5 0h1v1h-1zM977.5 0h2v1h-2zM1002 0h1v1h-1zM1015 0h1v1h-1zM1019 0h1v1h-1zM1038 0h2v1h-2zM1045 0h1v1h-1zM1056 0h1v1h-1zM1072.3 0h1v1h-1zM299 0h1v1h-1zM300 0h1v1h-1zM398 0h2v1h-2zM401 0h1v1h-1zM402 0h1v1h-1zM1035 0h2v1h-2zM1040 0h1v1h-1z"/><path fill="#eaf3fb" d="M166 0h2v1h-2zM175 0h1v1h-1zM216 0h1v1h-1zM271 0h2v1h-2zM307 0h1v1h-1zM370 0h1v1h-1zM386 0h1v1h-1zM610.5 0h1v1h-1zM613.5 0h2v1h-2zM633.5 0h1v1h-1zM636.5 0h2v1h-2zM664.5 0h2v1h-2zM711 0h1v1h-1zM727 0h1v1h-1zM770.4 0h1v1h-1zM791.4 0h2v1h-2zM813 0h1v1h-1zM856 0h2v1h-2zM883 0h2v1h-2zM892 0h1v1h-1zM914 0h2v1h-2zM925.5 0h2v1h-2zM948.5 0h2v1h-2zM963.5 0h1v1h-1zM979.5 0h2v1h-2zM989 0h1v1h-1zM992 0h2v1h-2zM1012 0h1v1h-1zM1017 0h1v1h-1zM1036 0h2v1h-2zM1046 0h1v1h-1zM1049 0h2v1h-2zM1068.3 0h1v1h-1zM1082.3 0h2v1h-2zM289 0h2v1h-2zM291 0h1v1h-1zM292 0h2v1h-2zM294 0h1v1h-1zM295 0h1v1h-1zM296 0h1v1h-1zM297 0h2v1h-2zM400 0h1v1h-1zM1016 0h1v1h-1zM1018 0h1v1h-1zM1019 0h1v1h-1zM1020 0h1v1h-1zM1022 0h2v1h-2zM1024 0h2v1h-2zM1026 0h1v1h-1zM1028 0h2v1h-2zM1032 0h2v1h-2zM1037 0h2v1h-2zM1039 0h1v1h-1zM1041 0h2v1h-2zM1043 0h2v1h-2z"/><path fill="#e6f0fa" d="M154 0h1v1h-1zM156 0h1v1h-1zM157 0h1v1h-1zM160 0h2v1h-2zM162 0h1v1h-1zM283 0h1v1h-1zM285 0h2v1h-2zM1013 0h1v1h-1zM1014 0h2v1h-2zM1017 0h1v1h-1zM1021 0h1v1h-1zM1027 0h1v1h-1zM1030 0h2v1h-2zM1034 0h1v1h-1z"/><path fill="#e2eef8" d="M155 0h1v1h-1zM158 0h2v1h-2zM273 0h1v1h-1zM275 0h1v1h-1zM276 0h2v1h-2zM279 0h2v1h-2zM281 0h1v1h-1zM282 0h1v1h-1zM284 0h1v1h-1zM287 0h2v1h-2z"/><path fill="#b2d2e8" d="M167 0h2v1h-2zM184 0h1v1h-1zM194 0h2v1h-2zM203 0h1v1h-1zM231 0h2v1h-2z"/><path fill="#7cb7da" d="M169 0h1v1h-1z"/><path fill="#9ecae1" d="M170 0h1v1h-1zM171 0h1v1h-1zM175 0h2v1h-2zM185 0h2v1h-2zM190 0h1v1h-1z"/><path fill="#b9d5ea" d="M172 0h2v1h-2zM174 0h1v1h-1zM187 0h1v1h-1zM234 0h1v1h-1z"/><path fill="#abd0e6" d="M177 0h1v1h-1zM188 0h2v1h-2z"/><path fill="#a5cde3" d="M178 0h1v1h-1zM180 0h1v1h-1zM182 0h2v1h-2zM196 0h2v1h-2z"/><path fill="#bfd8ed" d="M179 0h1v1h-1zM206 0h2v1h-2zM209 0h2v1h-2z"/><path fill="#8dc1dd" d="M181 0h1v1h-1z"/><path fill="#c6dbef" d="M191 0h1v1h-1zM192 0h2v1h-2zM235 0h2v1h-2zM246 0h2v1h-2z"/><path fill="#cadef0" d="M198 0h2v1h-2zM204 0h1v1h-1zM216 0h2v1h-2zM233 0h1v1h-1zM241 0h2v1h-2zM249 0h1v1h-1z"/><path fill="#cee0f2" d="M200 0h2v1h-2zM202 0h1v1h-1zM208 0h1v1h-1zM237 0h1v1h-1zM238 0h1v1h-1zM243 0h2v1h-2zM248 0h1v1h-1zM250 0h1v1h-1zM254 0h2v1h-2z"/><path fill="#d2e3f3" d="M205 0h1v1h-1zM213 0h1v1h-1zM214 0h1v1h-1zM215 0h1v1h-1zM218 0h2v1h-2zM220 0h2v1h-2zM222 0h1v1h-1zM225 0h1v1h-1zM228 0h1v1h-1zM239 0h2v1h-2zM251 0h1v1h-1zM260 0h2v1h-2z"/><path fill="#d6e6f4" d="M211 0h2v1h-2zM223 0h1v1h-1zM226 0h1v1h-1zM245 0h1v1h-1zM256 0h1v1h-1zM257 0h1v1h-1zM262 0h2v1h-2zM265 0h2v1h-2z"/><path fill="#dae8f6" d="M224 0h1v1h-1zM252 0h2v1h-2zM258 0h2v1h-2zM264 0h1v1h-1zM843 0h1v1h-1z"/><path fill="#deebf7" d="M227 0h1v1h-1zM229 0h1v1h-1zM230 0h1v1h-1zM267 0h1v1h-1zM268 0h2v1h-2zM270 0h1v1h-1zM271 0h2v1h-2zM274 0h1v1h-1zM278 0h1v1h-1zM844 0h1v1h-1z"/></g><g transform="translate(0 126.952) scale(1 14.2381)"><path fill="#eff6fc" d="M158 0h2v1h-2zM162 0h1v1h-1zM180 0h1v1h-1zM189 0h1v1h-1zM213 0h1v1h-1zM227 0h1v1h-1zM230 0h1v1h-1zM233 0h1v1h-1zM270 0h1v1h-1zM275 0h2v1h-2zM313 0h2v1h-2zM328 0h2v1h-2zM336 0h2v1h-2zM347 0h1v1h-1zM361 0h2v1h-2zM367 0h1v1h-1zM378 0h2v1h-2zM394 0h2v1h-2zM398 0h2v1h-2zM403 0h1v1h-1zM426 0h1v1h-1zM435 0h2v1h-2zM437 0h2v1h-2zM439 0h2v1h-2zM444 0h1v1h-1zM490 0h1v1h-1zM502 0h1v1h-1zM622.5 0h2v1h-2zM654.5 0h2v1h-2zM668.5 0h1v1h-1zM691 0h1v1h-1zM718 0h1v1h-1zM730 0h1v1h-1zM733 0h1v1h-1zM737 0h2v1h-2zM739 0h2v1h-2zM747 0h1v1h-1zM748 0h2v1h-2zM771.4 0h2v1h-2zM790.4 0h2v1h-2zM808 0h2v1h-2zM832 0h2v1h-2zM847 0h2v1h-2zM849 0h1v1h-1zM850 0h1v1h-1zM862 0h1v1h-1zM875 0h1v1h-1zM890 0h2v1h-2zM894 0h2v1h-2zM920 0h0.5v1h-0.5zM929.5 0h2v1h-2zM932.5 0h1v1h-1zM946.5 0h1v1h-1zM978.5 0h1v1h-1zM993 0h1v1h-1zM1020 0h1v1h-1zM1024 0h2v1h-2zM1054 0h2v1h-2zM1062.3 0h1v1h-1zM1072.3 0h1v1h-1zM1078.3 0h2v1h-2zM1083.3 0h1v1h-1zM225 0h2v1h-2zM227 0h1v1h-1zM299 0h2v1h-2zM304 0h1v1h-1zM307 0h1v1h-1zM308 0h1v1h-1zM311 0h1v1h-1zM312 0h1v1h-1zM313 0h1v1h-1zM314 0h1v1h-1zM319 0h1v1h-1zM320 0h1v1h-1zM321 0h2v1h-2zM323 0h1v1h-1zM324 0h1v1h-1zM325 0h2v1h-2zM327 0h2v1h-2zM329 0h2v1h-2zM331 0h2v1h-2zM337 0h1v1h-1zM338 0h1v1h-1zM339 0h1v1h-1zM340 0h2v1h-2zM342 0h2v1h-2zM344 0h1v1h-1zM345 0h2v1h-2zM347 0h1v1h-1zM348 0h1v1h-1zM349 0h1v1h-1zM350 0h1v1h-1zM351 0h1v1h-1zM352 0h1v1h-1zM353 0h2v1h-2zM355 0h2v1h-2zM357 0h1v1h-1zM358 0h2v1h-2zM360 0h1v1h-1zM361 0h1v1h-1zM362 0h1v1h-1zM363 0h1v1h-1zM364 0h1v1h-1zM367 0h2v1h-2zM369 0h1v1h-1zM370 0h1v1h-1zM371 0h1v1h-1zM372 0h2v1h-2zM374 0h1v1h-1zM375 0h1v1h-1zM376 0h2v1h-2zM380 0h1v1h-1zM384 0h2v1h-2zM386 0h1v1h-1zM390 0h2v1h-2zM393 0h1v1h-1z"/><path fill="#eaf3fb" d="M161 0h1v1h-1zM166 0h1v1h-1zM169 0h2v1h-2zM171 0h1v1h-1zM175 0h1v1h-1zM181 0h1v1h-1zM193 0h2v1h-2zM203 0h1v1h-1zM245 0h2v1h-2zM299 0h1v1h-1zM401 0h2v1h-2zM615.5 0h1v1h-1zM643.5 0h2v1h-2zM663.5 0h1v1h-1zM672 0h1v1h-1zM680 0h1v1h-1zM681 0h2v1h-2zM684 0h1v1h-1zM692 0h1v1h-1zM719 0h1v1h-1zM720 0h2v1h-2zM757 0h1v1h-1zM759 0h2v1h-2zM764 0h1v1h-1zM778.4 0h2v1h-2zM783.4 0h2v1h-2zM798.4 0h0.6v1h-0.6zM818 0h1v1h-1zM820 0h2v1h-2zM824 0h1v1h-1zM829 0h2v1h-2zM896 0h1v1h-1zM904 0h1v1h-1zM905 0h2v1h-2zM908 0h2v1h-2zM917 0h1v1h-1zM920.5 0h2v1h-2zM925.5 0h1v1h-1zM926.5 0h1v1h-1zM928.5 0h1v1h-1zM947.5 0h2v1h-2zM949.5 0h1v1h-1zM950.5 0h1v1h-1zM1015 0h2v1h-2zM1022 0h1v1h-1zM1026 0h2v1h-2zM1066.3 0h2v1h-2zM1085.3 0h2v1h-2zM155 0h1v1h-1zM160 0h1v1h-1zM183 0h1v1h-1zM198 0h2v1h-2zM200 0h1v1h-1zM201 0h1v1h-1zM209 0h1v1h-1zM212 0h2v1h-2zM215 0h1v1h-1zM219 0h1v1h-1zM220 0h1v1h-1zM222 0h1v1h-1zM223 0h2v1h-2zM228 0h2v1h-2zM230 0h1v1h-1zM295 0h1v1h-1zM296 0h1v1h-1zM297 0h1v1h-1zM298 0h1v1h-1zM301 0h2v1h-2zM303 0h1v1h-1zM305 0h2v1h-2zM309 0h2v1h-2zM315 0h2v1h-2zM317 0h2v1h-2zM333 0h2v1h-2zM335 0h2v1h-2z"/><path fill="#e6f0fa" d="M610.5 0h1v1h-1zM154 0h1v1h-1zM156 0h2v1h-2zM159 0h1v1h-1zM167 0h1v1h-1zM168 0h1v1h-1zM169 0h2v1h-2zM171 0h1v1h-1zM172 0h1v1h-1zM178 0h2v1h-2zM185 0h2v1h-2zM187 0h2v1h-2zM189 0h2v1h-2zM195 0h1v1h-1zM196 0h1v1h-1zM197 0h1v1h-1zM204 0h1v1h-1zM206 0h1v1h-1zM207 0h2v1h-2zM210 0h2v1h-2zM214 0h1v1h-1zM216 0h1v1h-1zM217 0h2v1h-2zM221 0h1v1h-1zM288 0h2v1h-2zM290 0h2v1h-2zM292 0h1v1h-1zM293 0h2v1h-2z"/><path fill="#e2eef8" d="M158 0h1v1h-1zM161 0h1v1h-1zM162 0h1v1h-1zM173 0h2v1h-2zM175 0h1v1h-1zM176 0h2v1h-2zM180 0h1v1h-1zM181 0h2v1h-2zM184 0h1v1h-1zM191 0h1v1h-1zM192 0h2v1h-2zM194 0h1v1h-1zM202 0h2v1h-2zM205 0h1v1h-1zM284 0h2v1h-2zM286 0h1v1h-1z"/><path fill="#b9d5ea" d="M231 0h1v1h-1zM232 0h2v1h-2zM237 0h1v1h-1zM239 0h1v1h-1zM244 0h2v1h-2z"/><path fill="#bfd8ed" d="M234 0h1v1h-1zM236 0h1v1h-1zM238 0h1v1h-1zM243 0h1v1h-1zM250 0h2v1h-2z"/><path fill="#b2d2e8" d="M235 0h1v1h-1z"/><path fill="#cadef0" d="M240 0h1v1h-1zM246 0h1v1h-1zM247 0h1v1h-1zM252 0h2v1h-2zM255 0h1v1h-1zM256 0h1v1h-1zM261 0h1v1h-1z"/><path fill="#cee0f2" d="M241 0h1v1h-1zM242 0h1v1h-1zM248 0h1v1h-1zM259 0h2v1h-2zM262 0h1v1h-1zM265 0h1v1h-1z"/><path fill="#d2e3f3" d="M249 0h1v1h-1zM254 0h1v1h-1zM269 0h2v1h-2zM273 0h1v1h-1z"/><path fill="#d6e6f4" d="M257 0h2v1h-2zM263 0h2v1h-2z"/><path fill="#dae8f6" d="M266 0h2v1h-2zM268 0h1v1h-1zM274 0h1v1h-1zM277 0h2v1h-2z"/><path fill="#deebf7" d="M271 0h1v1h-1zM272 0h1v1h-1zM275 0h2v1h-2zM279 0h1v1h-1zM280 0h1v1h-1zM281 0h2v1h-2zM283 0h1v1h-1zM287 0h1v1h-1z"/><path fill="#f3f8fe" d="M365 0h1v1h-1zM366 0h1v1h-1zM378 0h2v1h-2zM381 0h1v1h-1zM382 0h2v1h-2zM387 0h1v1h-1zM388 0h1v1h-1zM389 0h1v1h-1zM392 0h1v1h-1zM394 0h1v1h-1zM395 0h1v1h-1zM396 0h1v1h-1zM397 0h1v1h-1z"/></g><g transform="translate(0 141.190) scale(1 14.2381)"><path fill="#eff6fc" d="M157 0h2v1h-2zM159 0h1v1h-1zM172 0h2v1h-2zM185 0h2v1h-2zM201 0h1v1h-1zM204 0h2v1h-2zM214 0h1v1h-1zM233 0h2v1h-2zM247 0h2v1h-2zM276 0h2v1h-2zM293 0h2v1h-2zM317 0h1v1h-1zM328 0h1v1h-1zM357 0h1v1h-1zM363 0h2v1h-2zM365 0h1v1h-1zM380 0h2v1h-2zM393 0h2v1h-2zM399 0h2v1h-2zM416 0h1v1h-1zM419 0h2v1h-2zM441 0h1v1h-1zM519 0h2v1h-2zM628.5 0h1v1h-1zM638.5 0h2v1h-2zM652.5 0h1v1h-1zM659.5 0h2v1h-2zM708 0h1v1h-1zM720 0h1v1h-1zM752 0h2v1h-2zM764 0h2v1h-2zM767.4 0h2v1h-2zM796.4 0h1v1h-1zM861 0h2v1h-2zM906 0h1v1h-1zM908 0h2v1h-2zM949.5 0h2v1h-2zM983.5 0h1v1h-1zM998 0h1v1h-1zM1012 0h1v1h-1zM1041 0h2v1h-2zM1047 0h2v1h-2zM1050 0h1v1h-1zM1052 0h2v1h-2zM1059.3 0h1v1h-1zM1087.3 0h1v1h-1z"/><path fill="#eaf3fb" d="M174 0h2v1h-2zM198 0h1v1h-1zM212 0h2v1h-2zM226 0h2v1h-2zM313 0h1v1h-1zM613.5 0h1v1h-1zM655.5 0h1v1h-1zM687 0h2v1h-2zM696 0h2v1h-2zM714 0h2v1h-2zM718 0h2v1h-2zM748 0h2v1h-2zM766 0h0.4v1h-0.4zM782.4 0h2v1h-2zM827 0h2v1h-2zM832 0h2v1h-2zM880 0h1v1h-1zM888 0h1v1h-1zM930.5 0h1v1h-1zM931.5 0h2v1h-2zM967.5 0h2v1h-2zM971.5 0h1v1h-1zM974.5 0h2v1h-2zM1028 0h1v1h-1zM1066.3 0h1v1h-1zM1070.3 0h1v1h-1zM1075.3 0h1v1h-1zM1079.3 0h1v1h-1zM155 0h2v1h-2zM157 0h2v1h-2zM159 0h1v1h-1zM160 0h1v1h-1z"/><path fill="#e6f0fa" d="M1017 0h1v1h-1zM154 0h1v1h-1zM161 0h2v1h-2z"/></g><g transform="translate(0 155.429) scale(1 14.2381)"><path fill="#eff6fc" d="M169 0h1v1h-1zM183 0h1v1h-1zM198 0h1v1h-1zM201 0h1v1h-1zM215 0h2v1h-2zM241 0h1v1h-1zM286 0h2v1h-2zM306 0h2v1h-2zM308 0h2v1h-2zM330 0h1v1h-1zM333 0h2v1h-2zM343 0h1v1h-1zM353 0h2v1h-2zM374 0h2v1h-2zM377 0h2v1h-2zM379 0h2v1h-2zM392 0h2v1h-2zM396 0h1v1h-1zM418 0h1v1h-1zM438 0h1v1h-1zM490 0h1v1h-1zM619.5 0h1v1h-1zM641.5 0h1v1h-1zM642.5 0h2v1h-2zM650.5 0h2v1h-2zM662.5 0h1v1h-1zM668.5 0h2v1h-2zM681 0h1v1h-1zM685 0h1v1h-1zM733 0h1v1h-1zM772.4 0h1v1h-1zM825 0h1v1h-1zM865 0h1v1h-1zM900 0h2v1h-2zM903 0h2v1h-2zM917 0h1v1h-1zM957.5 0h1v1h-1zM972.5 0h2v1h-2zM974.5 0h2v1h-2zM979.5 0h1v1h-1zM985 0h1v1h-1zM998 0h2v1h-2zM1022 0h2v1h-2zM1037 0h2v1h-2zM1054 0h1v1h-1zM1059.3 0h2v1h-2zM1063.3 0h1v1h-1zM1067.3 0h1v1h-1zM1069.3 0h1v1h-1z"/><path fill="#eaf3fb" d="M177 0h2v1h-2zM186 0h1v1h-1zM205 0h2v1h-2zM208 0h1v1h-1zM245 0h1v1h-1zM249 0h1v1h-1zM341 0h1v1h-1zM620.5 0h2v1h-2zM629.5 0h2v1h-2zM636.5 0h2v1h-2zM690 0h2v1h-2zM717 0h1v1h-1zM756 0h1v1h-1zM766.4 0h1v1h-1zM775.4 0h2v1h-2zM791.4 0h1v1h-1zM806 0h2v1h-2zM829 0h1v1h-1zM847 0h2v1h-2zM855 0h1v1h-1zM870 0h1v1h-1zM893 0h1v1h-1zM898 0h1v1h-1zM907 0h1v1h-1zM932.5 0h1v1h-1zM942.5 0h1v1h-1zM953.5 0h1v1h-1zM960.5 0h1v1h-1zM992 0h1v1h-1zM1002 0h2v1h-2zM1017 0h1v1h-1zM1031 0h2v1h-2zM1033 0h1v1h-1zM1047 0h1v1h-1zM1049 0h2v1h-2zM1058.3 0h1v1h-1zM1070.3 0h1v1h-1zM1077.3 0h2v1h-2zM1082.3 0h1v1h-1z"/></g><g transform="translate(0 169.667) scale(1 14.2381)"><path fill="#eff6fc" d="M154 0h1v1h-1zM162 0h1v1h-1zM179 0h1v1h-1zM191 0h2v1h-2zM224 0h2v1h-2zM243 0h1v1h-1zM262 0h1v1h-1zM280 0h1v1h-1zM305 0h2v1h-2zM313 0h1v1h-1zM324 0h1v1h-1zM332 0h2v1h-2zM334 0h1v1h-1zM359 0h1v1h-1zM378 0h1v1h-1zM385 0h1v1h-1zM389 0h1v1h-1zM399 0h1v1h-1zM413 0h1v1h-1zM414 0h1v1h-1zM420 0h1v1h-1zM421 0h2v1h-2zM427 0h1v1h-1zM432 0h2v1h-2zM434 0h1v1h-1zM436 0h1v1h-1zM437 0h1v1h-1zM444 0h1v1h-1zM504 0h1v1h-1zM508 0h1v1h-1zM610.5 0h1v1h-1zM627.5 0h2v1h-2zM647.5 0h2v1h-2zM649.5 0h1v1h-1zM674 0h2v1h-2zM685 0h2v1h-2zM729 0h2v1h-2zM733 0h2v1h-2zM748 0h1v1h-1zM789.4 0h1v1h-1zM790.4 0h1v1h-1zM804 0h2v1h-2zM810 0h1v1h-1zM820 0h2v1h-2zM846 0h1v1h-1zM850 0h1v1h-1zM900 0h2v1h-2zM916 0h1v1h-1zM979.5 0h1v1h-1zM983.5 0h1v1h-1zM1055 0h2v1h-2zM1061.3 0h1v1h-1z"/><path fill="#eaf3fb" d="M205 0h1v1h-1zM279 0h1v1h-1zM284 0h1v1h-1zM290 0h2v1h-2zM401 0h2v1h-2zM621.5 0h1v1h-1zM650.5 0h1v1h-1zM672 0h1v1h-1zM680 0h2v1h-2zM699 0h1v1h-1zM708 0h1v1h-1zM713 0h2v1h-2zM745 0h2v1h-2zM751 0h1v1h-1zM782.4 0h1v1h-1zM811 0h1v1h-1zM812 0h1v1h-1zM822 0h1v1h-1zM825 0h1v1h-1zM844 0h2v1h-2zM883 0h2v1h-2zM891 0h1v1h-1zM914 0h2v1h-2zM936.5 0h1v1h-1zM939.5 0h1v1h-1zM940.5 0h1v1h-1zM943.5 0h1v1h-1zM976.5 0h2v1h-2zM985 0h2v1h-2zM1021 0h1v1h-1zM1028 0h1v1h-1zM1033 0h1v1h-1zM1040 0h2v1h-2zM1087.3 0h2v1h-2z"/><path fill="#e6f0fa" d="M617.5 0h2v1h-2zM800 0h2v1h-2zM881 0h1v1h-1z"/><path fill="#c6dbef" d="M411.5 0h2v1h-2zM801 0h1v1h-1z"/><path fill="#cee0f2" d="M413.5 0h1v1h-1z"/><path fill="#dae8f6" d="M414.5 0h2v1h-2zM421.5 0h1v1h-1zM422.5 0h1v1h-1zM423.5 0h2v1h-2z"/><path fill="#d2e3f3" d="M416.5 0h2v1h-2zM418.5 0h1v1h-1z"/><path fill="#deebf7" d="M419.5 0h2v1h-2zM427.5 0h0.5v1h-0.5z"/><path fill="#e2eef8" d="M425.5 0h1v1h-1zM426.5 0h1v1h-1z"/><path fill="#b9d5ea" d="M802 0h1v1h-1z"/></g><g transform="translate(0 183.905) scale(1 14.2381)"><path fill="#eff6fc" d="M160 0h1v1h-1zM163 0h1v1h-1zM254 0h2v1h-2zM256 0h2v1h-2zM271 0h2v1h-2zM300 0h2v1h-2zM333 0h2v1h-2zM344 0h2v1h-2zM353 0h2v1h-2zM395 0h1v1h-1zM399 0h1v1h-1zM400 0h1v1h-1zM414 0h1v1h-1zM420 0h1v1h-1zM423 0h1v1h-1zM437 0h1v1h-1zM500 0h2v1h-2zM517 0h1v1h-1zM616.5 0h1v1h-1zM667.5 0h1v1h-1zM678 0h2v1h-2zM689 0h1v1h-1zM724 0h2v1h-2zM753 0h2v1h-2zM760 0h1v1h-1zM792.4 0h1v1h-1zM798.4 0h0.6v1h-0.6zM814 0h1v1h-1zM826 0h2v1h-2zM834 0h2v1h-2zM893 0h2v1h-2zM899 0h1v1h-1zM907 0h1v1h-1zM919 0h1v1h-1zM968.5 0h1v1h-1zM985 0h1v1h-1zM1031 0h2v1h-2zM1043 0h2v1h-2zM1053 0h2v1h-2zM1090.3 0h1v1h-1z"/><path fill="#eaf3fb" d="M193 0h1v1h-1zM200 0h1v1h-1zM203 0h2v1h-2zM206 0h2v1h-2zM222 0h2v1h-2zM228 0h1v1h-1zM280 0h1v1h-1zM315 0h1v1h-1zM337 0h1v1h-1zM373 0h1v1h-1zM614.5 0h1v1h-1zM615.5 0h1v1h-1zM630.5 0h2v1h-2zM668.5 0h2v1h-2zM690 0h1v1h-1zM697 0h1v1h-1zM708 0h2v1h-2zM745 0h1v1h-1zM797.4 0h1v1h-1zM811 0h2v1h-2zM869 0h1v1h-1zM871 0h1v1h-1zM874 0h2v1h-2zM920.5 0h1v1h-1zM931.5 0h2v1h-2zM945.5 0h2v1h-2zM947.5 0h2v1h-2zM1007 0h2v1h-2zM1039 0h1v1h-1zM1060.3 0h2v1h-2zM1062.3 0h1v1h-1zM435 0h2v1h-2zM437 0h2v1h-2zM440 0h2v1h-2zM442 0h2v1h-2zM444 0h1v1h-1z"/><path fill="#e6f0fa" d="M612.5 0h1v1h-1zM935.5 0h2v1h-2zM990 0h2v1h-2zM439 0h1v1h-1z"/><path fill="#a5cde3" d="M409 0h1v1h-1z"/><path fill="#b2d2e8" d="M410 0h2v1h-2z"/><path fill="#c6dbef" d="M412 0h1v1h-1z"/><path fill="#cee0f2" d="M801 0h2v1h-2z"/></g><g transform="translate(0 198.143) scale(1 14.2381)"><path fill="#eff6fc" d="M160 0h1v1h-1zM174 0h2v1h-2zM191 0h1v1h-1zM237 0h1v1h-1zM240 0h1v1h-1zM271 0h2v1h-2zM285 0h1v1h-1zM290 0h1v1h-1zM334 0h2v1h-2zM339 0h1v1h-1zM347 0h1v1h-1zM387 0h1v1h-1zM388 0h1v1h-1zM390 0h2v1h-2zM419 0h2v1h-2zM434 0h2v1h-2zM445 0h1v1h-1zM467 0h2v1h-2zM532 0h1v1h-1zM543 0h2v1h-2zM649.5 0h2v1h-2zM652.5 0h1v1h-1zM661.5 0h1v1h-1zM667.5 0h1v1h-1zM676 0h1v1h-1zM707 0h2v1h-2zM728 0h1v1h-1zM747 0h2v1h-2zM755 0h2v1h-2zM788.4 0h2v1h-2zM790.4 0h2v1h-2zM800 0h2v1h-2zM825 0h1v1h-1zM829 0h2v1h-2zM837 0h1v1h-1zM840 0h2v1h-2zM845 0h2v1h-2zM897 0h2v1h-2zM916 0h1v1h-1zM925.5 0h2v1h-2zM957.5 0h2v1h-2zM989 0h1v1h-1zM1000 0h2v1h-2zM1030 0h2v1h-2zM1044 0h1v1h-1zM1089.3 0h1v1h-1z"/><path fill="#eaf3fb" d="M211 0h2v1h-2zM227 0h1v1h-1zM253 0h2v1h-2zM256 0h1v1h-1zM275 0h1v1h-1zM316 0h1v1h-1zM618.5 0h1v1h-1zM632.5 0h2v1h-2zM655.5 0h1v1h-1zM735 0h1v1h-1zM740 0h2v1h-2zM743 0h2v1h-2zM763 0h1v1h-1zM882 0h1v1h-1zM903 0h1v1h-1zM948.5 0h2v1h-2zM973.5 0h1v1h-1zM983.5 0h1.5v1h-1.5zM1035 0h1v1h-1zM1036 0h1v1h-1zM1063.3 0h2v1h-2zM1087.3 0h2v1h-2z"/><path fill="#e6f0fa" d="M875 0h1v1h-1z"/><path fill="#d2e3f3" d="M857 0h1v1h-1z"/><path fill="#deebf7" d="M858 0h1v1h-1z"/></g><g transform="translate(0 212.381) scale(1 14.2381)"><path fill="#eaf3fb" d="M159 0h1v1h-1zM179 0h1v1h-1zM211 0h1v1h-1zM220 0h1v1h-1zM255 0h2v1h-2zM275 0h2v1h-2zM306 0h1v1h-1zM620.5 0h1v1h-1zM625.5 0h1v1h-1zM626.5 0h1v1h-1zM630.5 0h1v1h-1zM631.5 0h1v1h-1zM638.5 0h1v1h-1zM650.5 0h2v1h-2zM653.5 0h2v1h-2zM662.5 0h2v1h-2zM692 0h1v1h-1zM695 0h2v1h-2zM703 0h2v1h-2zM713 0h2v1h-2zM725 0h1v1h-1zM730 0h1v1h-1zM750 0h1v1h-1zM766.4 0h1v1h-1zM801 0h1v1h-1zM820 0h2v1h-2zM826 0h2v1h-2zM832 0h1v1h-1zM839 0h2v1h-2zM848 0h2v1h-2zM855 0h1v1h-1zM876 0h2v1h-2zM927.5 0h2v1h-2zM931.5 0h1v1h-1zM940.5 0h1v1h-1zM973.5 0h2v1h-2zM1008 0h1v1h-1zM1009 0h1v1h-1zM1011 0h2v1h-2zM1032 0h1v1h-1zM1033 0h2v1h-2zM1035 0h2v1h-2zM1046 0h1v1h-1zM1058.3 0h2v1h-2zM1082.3 0h1v1h-1z"/><path fill="#eff6fc" d="M178 0h1v1h-1zM198 0h1v1h-1zM202 0h1v1h-1zM251 0h1v1h-1zM277 0h2v1h-2zM279 0h2v1h-2zM310 0h1v1h-1zM332 0h1v1h-1zM344 0h2v1h-2zM354 0h1v1h-1zM360 0h1v1h-1zM384 0h1v1h-1zM402 0h2v1h-2zM407 0h2v1h-2zM410 0h2v1h-2zM417 0h2v1h-2zM431 0h1v1h-1zM436 0h2v1h-2zM438 0h2v1h-2zM480 0h2v1h-2zM636.5 0h1v1h-1zM644.5 0h2v1h-2zM659.5 0h1v1h-1zM660.5 0h1v1h-1zM694 0h1v1h-1zM740 0h1v1h-1zM751 0h2v1h-2zM754 0h1v1h-1zM773.4 0h1v1h-1zM777.4 0h2v1h-2zM791.4 0h2v1h-2zM808 0h2v1h-2zM811 0h2v1h-2zM856 0h1v1h-1zM863 0h1v1h-1zM954.5 0h1v1h-1zM957.5 0h1v1h-1zM962.5 0h2v1h-2zM969.5 0h2v1h-2zM977.5 0h1v1h-1zM978.5 0h1v1h-1zM984.5 0h0.5v1h-0.5zM998 0h1v1h-1zM1007 0h1v1h-1zM1027 0h1v1h-1zM1044 0h1v1h-1zM1047 0h1v1h-1zM1049 0h1v1h-1zM1054 0h2v1h-2zM1073.3 0h1v1h-1zM1083.3 0h2v1h-2z"/><path fill="#cee0f2" d="M440.5 0h2v1h-2z"/><path fill="#bfd8ed" d="M442.5 0h1v1h-1z"/><path fill="#d6e6f4" d="M443.5 0h1.5v1h-1.5z"/></g><g transform="translate(0 226.619) scale(1 14.2381)"><path fill="#eff6fc" d="M160 0h2v1h-2zM206 0h1v1h-1zM227 0h1v1h-1zM235 0h2v1h-2zM237 0h1v1h-1zM248 0h1v1h-1zM258 0h1v1h-1zM263 0h2v1h-2zM282 0h1v1h-1zM337 0h2v1h-2zM357 0h1v1h-1zM363 0h1v1h-1zM401 0h2v1h-2zM598 0h2v1h-2zM621.5 0h1v1h-1zM643.5 0h1v1h-1zM650.5 0h1v1h-1zM658.5 0h2v1h-2zM671.5 0h0.5v1h-0.5zM759 0h1v1h-1zM778.4 0h1v1h-1zM787.4 0h1v1h-1zM794.4 0h1v1h-1zM798.4 0h0.6v1h-0.6zM810 0h2v1h-2zM821 0h2v1h-2zM824 0h2v1h-2zM846 0h1v1h-1zM887 0h1v1h-1zM900 0h1v1h-1zM903 0h1v1h-1zM920 0h0.5v1h-0.5zM927.5 0h1v1h-1zM950.5 0h1v1h-1zM976.5 0h2v1h-2zM987 0h2v1h-2zM991 0h1v1h-1zM1027 0h1v1h-1zM1041 0h2v1h-2zM1046 0h1v1h-1zM1054 0h1v1h-1z"/><path fill="#eaf3fb" d="M181 0h2v1h-2zM196 0h2v1h-2zM225 0h2v1h-2zM247 0h1v1h-1zM302 0h1v1h-1zM608.5 0h2v1h-2zM619.5 0h1v1h-1zM630.5 0h1v1h-1zM646.5 0h1v1h-1zM662.5 0h1v1h-1zM668.5 0h2v1h-2zM673 0h2v1h-2zM699 0h1v1h-1zM729 0h1v1h-1zM755 0h2v1h-2zM761 0h2v1h-2zM777.4 0h1v1h-1zM807 0h1v1h-1zM870 0h1v1h-1zM892 0h1v1h-1zM962.5 0h2v1h-2zM994 0h1v1h-1zM1025 0h1v1h-1zM1028 0h1v1h-1zM1031 0h2v1h-2zM1049 0h2v1h-2zM1061.3 0h1v1h-1zM1063.3 0h1v1h-1z"/></g><g transform="translate(0 240.857) scale(1 14.2381)"><path fill="#eaf3fb" d="M168 0h1v1h-1zM178 0h1v1h-1zM181 0h2v1h-2zM186 0h2v1h-2zM213 0h1v1h-1zM224 0h2v1h-2zM234 0h2v1h-2zM246 0h1v1h-1zM247 0h1v1h-1zM250 0h1v1h-1zM256 0h2v1h-2zM261 0h2v1h-2zM272 0h2v1h-2zM619.5 0h2v1h-2zM631.5 0h1v1h-1zM636.5 0h1v1h-1zM680 0h1v1h-1zM686 0h1v1h-1zM748 0h1v1h-1zM763 0h1v1h-1zM810 0h2v1h-2zM825 0h2v1h-2zM846 0h1v1h-1zM857 0h1v1h-1zM882 0h2v1h-2zM887 0h1v1h-1zM888 0h2v1h-2zM890 0h1v1h-1zM920.5 0h1v1h-1zM929.5 0h1v1h-1zM941.5 0h2v1h-2zM944.5 0h1v1h-1zM953.5 0h1v1h-1zM1005 0h1v1h-1zM1021 0h2v1h-2zM1033 0h1v1h-1zM1034 0h2v1h-2zM1043 0h1v1h-1zM1079.3 0h2v1h-2zM1086.3 0h2v1h-2zM523 0h1v1h-1zM524 0h2v1h-2zM535 0h1v1h-1zM536 0h2v1h-2zM540 0h2v1h-2zM542 0h2v1h-2zM545 0h1v1h-1zM546 0h2v1h-2zM548 0h2v1h-2zM551 0h1v1h-1zM552 0h1v1h-1zM554 0h1v1h-1zM556 0h1v1h-1zM557 0h2v1h-2zM559 0h2v1h-2zM563 0h2v1h-2zM566 0h1v1h-1zM567 0h2v1h-2zM570 0h2v1h-2zM572 0h2v1h-2zM574 0h1v1h-1zM575 0h1v1h-1z"/><path fill="#eff6fc" d="M188 0h1v1h-1zM214 0h2v1h-2zM216 0h1v1h-1zM218 0h1v1h-1zM219 0h1v1h-1zM243 0h2v1h-2zM322 0h2v1h-2zM332 0h1v1h-1zM342 0h1v1h-1zM347 0h2v1h-2zM368 0h1v1h-1zM393 0h1v1h-1zM451 0h1v1h-1zM478 0h1v1h-1zM670.5 0h1v1h-1zM693 0h1v1h-1zM718 0h1v1h-1zM726 0h1v1h-1zM759 0h2v1h-2zM764 0h2v1h-2zM779.4 0h2v1h-2zM809 0h1v1h-1zM847 0h1v1h-1zM866 0h1v1h-1zM880 0h1v1h-1zM881 0h1v1h-1zM902 0h1v1h-1zM908 0h1v1h-1zM911 0h2v1h-2zM913 0h2v1h-2zM917 0h1v1h-1zM947.5 0h1v1h-1zM962.5 0h1v1h-1zM975.5 0h1v1h-1zM979.5 0h2v1h-2zM992 0h2v1h-2zM999 0h2v1h-2zM1013 0h1v1h-1zM1025 0h1v1h-1zM1040 0h2v1h-2zM1057.3 0h1v1h-1zM1083.3 0h1v1h-1zM1084.3 0h2v1h-2zM1091.3 0h0.5v1h-0.5zM550 0h1v1h-1zM553 0h1v1h-1zM555 0h1v1h-1zM561 0h2v1h-2zM565 0h1v1h-1zM569 0h1v1h-1zM576 0h1v1h-1zM577 0h1v1h-1zM578 0h2v1h-2zM580 0h2v1h-2zM582 0h2v1h-2zM584 0h1v1h-1zM585 0h2v1h-2zM589 0h1v1h-1z"/><path fill="#e6f0fa" d="M617.5 0h2v1h-2zM672 0h1v1h-1zM504 0h2v1h-2zM511 0h1v1h-1zM512 0h2v1h-2zM514 0h1v1h-1zM515 0h1v1h-1zM516 0h1v1h-1zM518 0h1v1h-1zM519 0h1v1h-1zM520 0h1v1h-1zM526 0h2v1h-2zM528 0h2v1h-2zM530 0h2v1h-2zM532 0h2v1h-2zM534 0h1v1h-1zM538 0h2v1h-2zM544 0h1v1h-1z"/><path fill="#deebf7" d="M501 0h1v1h-1zM502 0h2v1h-2z"/><path fill="#e2eef8" d="M506 0h2v1h-2zM508 0h2v1h-2zM510 0h1v1h-1zM517 0h1v1h-1zM521 0h2v1h-2z"/><path fill="#f3f8fe" d="M587 0h2v1h-2zM590 0h2v1h-2zM592 0h1v1h-1zM593 0h1v1h-1zM594 0h1v1h-1zM595 0h1v1h-1zM596 0h2v1h-2zM598 0h2v1h-2zM600 0h2v1h-2zM602 0h1v1h-1zM603 0h2v1h-2zM605 0h2v1h-2z"/><path fill="#84bcdc" d="M853 0h1v1h-1zM859 0h1v1h-1z"/><path fill="#a5cde3" d="M854 0h2v1h-2zM858 0h1v1h-1z"/><path fill="#9ecae1" d="M856 0h1v1h-1zM857 0h1v1h-1z"/><path fill="#8dc1dd" d="M860 0h1v1h-1z"/><path fill="#b9d5ea" d="M861 0h0.6v1h-0.6z"/></g><g transform="translate(0 255.095) scale(1 14.2381)"><path fill="#eaf3fb" d="M171 0h1v1h-1zM211 0h1v1h-1zM215 0h1v1h-1zM275 0h2v1h-2zM354 0h1v1h-1zM628.5 0h1v1h-1zM631.5 0h2v1h-2zM638.5 0h1v1h-1zM642.5 0h1v1h-1zM693 0h2v1h-2zM710 0h1v1h-1zM727 0h1v1h-1zM755 0h1v1h-1zM818 0h1v1h-1zM825 0h1v1h-1zM828 0h2v1h-2zM841 0h1v1h-1zM851 0h2v1h-2zM869 0h1v1h-1zM895 0h2v1h-2zM905 0h1v1h-1zM925.5 0h1v1h-1zM926.5 0h2v1h-2zM934.5 0h1v1h-1zM938.5 0h1v1h-1zM944.5 0h2v1h-2zM951.5 0h2v1h-2zM955.5 0h1v1h-1zM990 0h1v1h-1zM1045 0h2v1h-2zM1086.3 0h2v1h-2zM480 0h1v1h-1zM491 0h1v1h-1zM494 0h1v1h-1zM497 0h1v1h-1z"/><path fill="#eff6fc" d="M174 0h2v1h-2zM183 0h1v1h-1zM235 0h2v1h-2zM249 0h1v1h-1zM261 0h2v1h-2zM272 0h2v1h-2zM280 0h1v1h-1zM284 0h2v1h-2zM300 0h2v1h-2zM307 0h1v1h-1zM326 0h2v1h-2zM332 0h1v1h-1zM338 0h1v1h-1zM341 0h1v1h-1zM376 0h1v1h-1zM377 0h1v1h-1zM385 0h1v1h-1zM405 0h2v1h-2zM424 0h1v1h-1zM478 0h1v1h-1zM544 0h1v1h-1zM550 0h2v1h-2zM572 0h2v1h-2zM651.5 0h1v1h-1zM657.5 0h1v1h-1zM665.5 0h1v1h-1zM668.5 0h2v1h-2zM670.5 0h1.5v1h-1.5zM685 0h2v1h-2zM701 0h1v1h-1zM709 0h1v1h-1zM728 0h1v1h-1zM733 0h1v1h-1zM756 0h1v1h-1zM766 0h0.4v1h-0.4zM799 0h2v1h-2zM831 0h1v1h-1zM849 0h2v1h-2zM855 0h1v1h-1zM856 0h2v1h-2zM878 0h1v1h-1zM879 0h2v1h-2zM960.5 0h1v1h-1zM975.5 0h2v1h-2zM1028 0h1v1h-1zM1029 0h1v1h-1zM1033 0h1v1h-1zM1057.3 0h1v1h-1zM1072.3 0h1v1h-1zM1074.3 0h2v1h-2zM1079.3 0h2v1h-2zM1084.3 0h1v1h-1zM1085.3 0h1v1h-1z"/><path fill="#e6f0fa" d="M672 0h2v1h-2zM1060.3 0h1v1h-1zM446 0h2v1h-2zM457 0h1v1h-1zM461 0h2v1h-2zM471 0h2v1h-2zM473 0h1v1h-1zM474 0h2v1h-2zM481 0h1v1h-1zM482 0h1v1h-1zM487 0h2v1h-2zM489 0h2v1h-2zM492 0h1v1h-1z"/><path fill="#deebf7" d="M448 0h1v1h-1zM456 0h1v1h-1zM458 0h1v1h-1zM463 0h1v1h-1z"/><path fill="#e2eef8" d="M449 0h1v1h-1zM450 0h1v1h-1zM451 0h1v1h-1zM452 0h2v1h-2zM454 0h1v1h-1zM455 0h1v1h-1zM459 0h2v1h-2zM464 0h2v1h-2zM466 0h1v1h-1zM467 0h2v1h-2zM469 0h2v1h-2zM476 0h2v1h-2zM478 0h2v1h-2zM483 0h2v1h-2zM485 0h2v1h-2zM493 0h1v1h-1zM495 0h1v1h-1zM496 0h1v1h-1zM498 0h2v1h-2zM500 0h1v1h-1z"/></g><g transform="translate(0 269.333) scale(1 14.2381)"><path fill="#eaf3fb" d="M163 0h2v1h-2zM185 0h1v1h-1zM196 0h1v1h-1zM223 0h1v1h-1zM609.5 0h1v1h-1zM624.5 0h1v1h-1zM640.5 0h1v1h-1zM664.5 0h1v1h-1zM676 0h1v1h-1zM685 0h1v1h-1zM686 0h1v1h-1zM691 0h2v1h-2zM695 0h2v1h-2zM703 0h1v1h-1zM724 0h1v1h-1zM731 0h1v1h-1zM738 0h2v1h-2zM768.4 0h1v1h-1zM782.4 0h1v1h-1zM786.4 0h2v1h-2zM803 0h1v1h-1zM826 0h2v1h-2zM848 0h1v1h-1zM867 0h1v1h-1zM907 0h2v1h-2zM941.5 0h1v1h-1zM942.5 0h1v1h-1zM954.5 0h2v1h-2zM1038 0h1v1h-1zM1064.3 0h1v1h-1zM1070.3 0h1v1h-1zM1080.3 0h2v1h-2zM170 0h2v1h-2zM172 0h1v1h-1zM173 0h1v1h-1zM174 0h1v1h-1zM175 0h1v1h-1zM176 0h1v1h-1zM177 0h2v1h-2zM179 0h2v1h-2zM181 0h2v1h-2zM185 0h1v1h-1zM188 0h1v1h-1zM189 0h2v1h-2zM193 0h1v1h-1zM194 0h2v1h-2zM196 0h1v1h-1zM198 0h1v1h-1zM200 0h2v1h-2zM203 0h1v1h-1zM208 0h2v1h-2zM210 0h1v1h-1zM221 0h1v1h-1zM239 0h1v1h-1zM240 0h2v1h-2zM247 0h1v1h-1zM248 0h1v1h-1zM249 0h2v1h-2zM252 0h1v1h-1zM255 0h1v1h-1zM256 0h2v1h-2zM262 0h1v1h-1zM274 0h1v1h-1zM278 0h1v1h-1zM301 0h1v1h-1zM302 0h2v1h-2zM310 0h2v1h-2zM312 0h1v1h-1zM319 0h2v1h-2zM325 0h1v1h-1zM328 0h1v1h-1zM331 0h2v1h-2zM334 0h2v1h-2zM338 0h1v1h-1zM341 0h2v1h-2zM348 0h2v1h-2zM353 0h1v1h-1zM354 0h1v1h-1zM356 0h1v1h-1zM365 0h1v1h-1zM748 0h1v1h-1zM756 0h1v1h-1zM758 0h2v1h-2zM761 0h1v1h-1zM762 0h1v1h-1zM764 0h1v1h-1zM874 0h1v1h-1zM875 0h1v1h-1zM878 0h1v1h-1zM879 0h2v1h-2zM881 0h2v1h-2zM883 0h1v1h-1zM884 0h1v1h-1zM885 0h2v1h-2zM887 0h1v1h-1zM888 0h2v1h-2zM922.5 0h2v1h-2zM924.5 0h2v1h-2zM926.5 0h1v1h-1zM927.5 0h2v1h-2zM929.5 0h1v1h-1zM930.5 0h2v1h-2zM932.5 0h1v1h-1zM936.5 0h1v1h-1zM937.5 0h2v1h-2zM942.5 0h1v1h-1zM979 0h2v1h-2zM981 0h1v1h-1zM983 0h1v1h-1zM984 0h1v1h-1zM987 0h1v1h-1zM988 0h1v1h-1zM989 0h1v1h-1zM990 0h1v1h-1zM991 0h2v1h-2zM993 0h1v1h-1zM994 0h1v1h-1zM999 0h2v1h-2zM1002 0h1v1h-1zM1087 0h1v1h-1z"/><path fill="#eff6fc" d="M180 0h2v1h-2zM219 0h1v1h-1zM230 0h2v1h-2zM266 0h2v1h-2zM315 0h2v1h-2zM326 0h2v1h-2zM352 0h2v1h-2zM360 0h1v1h-1zM398 0h2v1h-2zM400 0h1v1h-1zM404 0h1v1h-1zM411 0h1v1h-1zM429 0h1v1h-1zM440 0h2v1h-2zM492 0h1v1h-1zM590 0h1v1h-1zM627.5 0h1v1h-1zM660.5 0h2v1h-2zM667.5 0h2v1h-2zM714 0h1v1h-1zM735 0h1v1h-1zM745 0h1v1h-1zM766 0h0.4v1h-0.4zM774.4 0h2v1h-2zM776.4 0h2v1h-2zM853 0h1v1h-1zM873 0h2v1h-2zM889 0h1v1h-1zM911 0h1v1h-1zM927.5 0h2v1h-2zM953.5 0h1v1h-1zM965.5 0h1v1h-1zM980.5 0h2v1h-2zM990 0h2v1h-2zM1016 0h2v1h-2zM1036 0h2v1h-2zM1077.3 0h1v1h-1zM1084.3 0h1v1h-1zM154 0h2v1h-2zM156 0h2v1h-2zM158 0h1v1h-1zM159 0h1v1h-1zM160 0h1v1h-1zM161 0h2v1h-2zM167 0h1v1h-1zM168 0h2v1h-2zM183 0h1v1h-1zM184 0h1v1h-1zM186 0h2v1h-2zM191 0h1v1h-1zM192 0h1v1h-1zM197 0h1v1h-1zM199 0h1v1h-1zM202 0h1v1h-1zM204 0h1v1h-1zM205 0h1v1h-1zM206 0h1v1h-1zM207 0h1v1h-1zM211 0h2v1h-2zM213 0h1v1h-1zM214 0h2v1h-2zM216 0h2v1h-2zM218 0h1v1h-1zM219 0h1v1h-1zM220 0h1v1h-1zM222 0h1v1h-1zM223 0h2v1h-2zM225 0h2v1h-2zM227 0h2v1h-2zM229 0h1v1h-1zM230 0h1v1h-1zM231 0h2v1h-2zM233 0h1v1h-1zM234 0h2v1h-2zM236 0h1v1h-1zM237 0h1v1h-1zM238 0h1v1h-1zM242 0h1v1h-1zM243 0h1v1h-1zM244 0h1v1h-1zM245 0h1v1h-1zM246 0h1v1h-1zM251 0h1v1h-1zM253 0h1v1h-1zM254 0h1v1h-1zM258 0h1v1h-1zM259 0h2v1h-2zM261 0h1v1h-1zM263 0h2v1h-2zM265 0h2v1h-2zM267 0h2v1h-2zM269 0h2v1h-2zM271 0h1v1h-1zM272 0h2v1h-2zM275 0h1v1h-1zM276 0h2v1h-2zM279 0h1v1h-1zM280 0h2v1h-2zM282 0h1v1h-1zM283 0h1v1h-1zM284 0h1v1h-1zM285 0h1v1h-1zM286 0h1v1h-1zM287 0h2v1h-2zM289 0h1v1h-1zM290 0h1v1h-1zM291 0h1v1h-1zM292 0h1v1h-1zM293 0h1v1h-1zM294 0h1v1h-1zM295 0h1v1h-1zM296 0h1v1h-1zM297 0h2v1h-2zM299 0h2v1h-2zM304 0h2v1h-2zM306 0h1v1h-1zM307 0h1v1h-1zM308 0h2v1h-2zM313 0h2v1h-2zM315 0h2v1h-2zM317 0h1v1h-1zM318 0h1v1h-1zM321 0h1v1h-1zM322 0h2v1h-2zM324 0h1v1h-1zM326 0h2v1h-2zM329 0h1v1h-1zM330 0h1v1h-1zM333 0h1v1h-1zM336 0h1v1h-1zM337 0h1v1h-1zM339 0h2v1h-2zM343 0h1v1h-1zM344 0h1v1h-1zM345 0h1v1h-1zM346 0h2v1h-2zM350 0h1v1h-1zM351 0h2v1h-2zM355 0h1v1h-1zM357 0h1v1h-1zM358 0h2v1h-2zM360 0h2v1h-2zM362 0h1v1h-1zM363 0h2v1h-2zM366 0h2v1h-2zM368 0h1v1h-1zM369 0h2v1h-2zM371 0h2v1h-2zM373 0h1v1h-1zM374 0h1v1h-1zM375 0h1v1h-1zM376 0h2v1h-2zM378 0h1v1h-1zM379 0h1v1h-1zM380 0h1v1h-1zM381 0h1v1h-1zM382 0h1v1h-1zM383 0h2v1h-2zM385 0h1v1h-1zM386 0h2v1h-2zM388 0h2v1h-2zM390 0h2v1h-2zM392 0h2v1h-2zM394 0h2v1h-2zM396 0h1v1h-1zM397 0h1v1h-1zM763 0h1v1h-1zM765 0h1v1h-1zM933.5 0h1v1h-1zM934.5 0h2v1h-2zM939.5 0h1v1h-1zM940.5 0h2v1h-2zM943.5 0h2v1h-2zM945.5 0h1v1h-1zM946.5 0h2v1h-2zM948.5 0h1v1h-1zM949.5 0h2v1h-2zM951.5 0h2v1h-2zM953.5 0h2v1h-2zM955.5 0h0.5v1h-0.5zM982 0h1v1h-1zM985 0h2v1h-2zM995 0h2v1h-2zM997 0h1v1h-1zM998 0h1v1h-1zM1001 0h1v1h-1z"/><path fill="#b2d2e8" d="M672 0h1v1h-1z"/><path fill="#b9d5ea" d="M673 0h1v1h-1zM676 0h1v1h-1zM766 0h2v1h-2zM771 0h1v1h-1z"/><path fill="#d2e3f3" d="M674 0h2v1h-2zM677 0h1v1h-1zM685 0h1v1h-1zM686 0h2v1h-2zM694 0h1v1h-1zM699 0h2v1h-2zM711 0h1v1h-1zM718 0h2v1h-2zM720 0h1v1h-1zM723 0h1v1h-1zM780 0h1v1h-1z"/><path fill="#bfd8ed" d="M678 0h1v1h-1zM688 0h1v1h-1zM689 0h2v1h-2zM768 0h1v1h-1zM774 0h2v1h-2zM842 0h2v1h-2z"/><path fill="#cee0f2" d="M679 0h1v1h-1zM680 0h1v1h-1zM684 0h1v1h-1zM691 0h1v1h-1zM692 0h1v1h-1zM709 0h2v1h-2zM772 0h2v1h-2zM844 0h1v1h-1z"/><path fill="#c6dbef" d="M681 0h1v1h-1zM682 0h2v1h-2zM693 0h1v1h-1zM697 0h2v1h-2zM769 0h1v1h-1zM776 0h2v1h-2z"/><path fill="#cadef0" d="M695 0h2v1h-2zM703 0h1v1h-1zM706 0h1v1h-1zM770 0h1v1h-1zM778 0h2v1h-2z"/><path fill="#d6e6f4" d="M701 0h2v1h-2zM708 0h1v1h-1zM712 0h1v1h-1zM716 0h1v1h-1zM726 0h1v1h-1zM727 0h2v1h-2zM730 0h2v1h-2zM1060 0h2v1h-2z"/><path fill="#dae8f6" d="M704 0h2v1h-2zM707 0h1v1h-1zM715 0h1v1h-1zM721 0h1v1h-1zM722 0h1v1h-1zM724 0h2v1h-2zM729 0h1v1h-1zM782 0h1v1h-1zM784 0h1v1h-1zM956.5 0h1v1h-1zM1018 0h2v1h-2zM1062 0h2v1h-2zM1064 0h1v1h-1z"/><path fill="#deebf7" d="M713 0h2v1h-2zM717 0h1v1h-1zM732 0h2v1h-2zM736 0h1v1h-1zM739 0h1v1h-1zM740 0h1v1h-1zM781 0h1v1h-1zM957.5 0h1v1h-1zM961.5 0h2v1h-2zM1013 0h2v1h-2zM1015 0h2v1h-2zM1020 0h1v1h-1zM1022 0h1v1h-1zM1023 0h1v1h-1zM1025 0h1v1h-1zM1026 0h2v1h-2zM1028 0h1v1h-1zM1039 0h2v1h-2zM1070 0h1v1h-1zM1073 0h2v1h-2zM1075 0h1v1h-1z"/><path fill="#e2eef8" d="M734 0h1v1h-1zM735 0h1v1h-1zM737 0h1v1h-1zM738 0h1v1h-1zM741 0h2v1h-2zM744 0h1v1h-1zM745 0h2v1h-2zM747 0h1v1h-1zM752 0h1v1h-1zM783 0h1v1h-1zM785 0h1v1h-1zM786 0h1v1h-1zM958.5 0h2v1h-2zM960.5 0h1v1h-1zM963.5 0h1v1h-1zM964.5 0h2v1h-2zM966.5 0h1v1h-1zM967.5 0h1v1h-1zM968.5 0h1v1h-1zM1017 0h1v1h-1zM1021 0h1v1h-1zM1024 0h1v1h-1zM1029 0h1v1h-1zM1032 0h1v1h-1zM1038 0h1v1h-1zM1041 0h2v1h-2zM1043 0h1v1h-1zM1044 0h1v1h-1zM1046 0h2v1h-2zM1049 0h2v1h-2zM1065 0h2v1h-2zM1067 0h1v1h-1zM1068 0h2v1h-2zM1071 0h2v1h-2zM1076 0h1v1h-1zM1077 0h2v1h-2zM1081 0h2v1h-2zM1083 0h1v1h-1zM1086 0h1v1h-1z"/><path fill="#e6f0fa" d="M743 0h1v1h-1zM749 0h2v1h-2zM751 0h1v1h-1zM753 0h2v1h-2zM755 0h1v1h-1zM757 0h1v1h-1zM760 0h1v1h-1zM869 0h2v1h-2zM871 0h2v1h-2zM873 0h1v1h-1zM876 0h2v1h-2zM920.5 0h2v1h-2zM969.5 0h0.5v1h-0.5zM975 0h1v1h-1zM976 0h1v1h-1zM977 0h2v1h-2zM1030 0h1v1h-1zM1031 0h1v1h-1zM1033 0h2v1h-2zM1035 0h2v1h-2zM1037 0h1v1h-1zM1045 0h1v1h-1zM1048 0h1v1h-1zM1051 0h1v1h-1zM1052 0h1v1h-1zM1079 0h2v1h-2zM1084 0h2v1h-2zM1088 0h1v1h-1z"/></g><g transform="translate(0 283.571) scale(1 14.2381)"><path fill="#eaf3fb" d="M156 0h1v1h-1zM165 0h1v1h-1zM174 0h1v1h-1zM213 0h1v1h-1zM223 0h1v1h-1zM288 0h1v1h-1zM399 0h1v1h-1zM616.5 0h2v1h-2zM625.5 0h1v1h-1zM637.5 0h2v1h-2zM657.5 0h1v1h-1zM686 0h1v1h-1zM736 0h1v1h-1zM738 0h1v1h-1zM779.4 0h1v1h-1zM801 0h2v1h-2zM810 0h2v1h-2zM815 0h1v1h-1zM822 0h1v1h-1zM844 0h2v1h-2zM883 0h2v1h-2zM885 0h2v1h-2zM892 0h1v1h-1zM893 0h2v1h-2zM923.5 0h1v1h-1zM937.5 0h1v1h-1zM993 0h2v1h-2zM1004 0h1v1h-1zM1048 0h1v1h-1zM1060.3 0h1v1h-1zM1067.3 0h1v1h-1zM1069.3 0h2v1h-2zM1073.3 0h2v1h-2zM1084.3 0h2v1h-2zM667.5 0h2v1h-2zM669.5 0h2v1h-2zM671.5 0h0.5v1h-0.5zM789 0h1v1h-1zM850 0h2v1h-2zM852 0h1v1h-1zM853 0h1v1h-1zM854 0h1v1h-1zM855 0h1v1h-1zM856 0h2v1h-2zM858 0h2v1h-2zM860 0h2v1h-2zM862 0h1v1h-1zM864 0h2v1h-2zM867 0h2v1h-2zM869 0h1v1h-1zM870 0h1v1h-1zM871 0h1v1h-1zM873 0h1v1h-1zM874 0h2v1h-2zM879 0h1v1h-1zM880 0h1v1h-1zM881 0h2v1h-2zM883 0h2v1h-2zM887 0h1v1h-1zM888 0h1v1h-1zM889 0h1v1h-1zM890 0h2v1h-2zM896 0h2v1h-2zM898 0h2v1h-2zM900 0h1v1h-1zM901 0h1v1h-1zM905 0h2v1h-2zM913 0h2v1h-2zM915 0h1v1h-1zM916 0h2v1h-2zM921 0h1v1h-1zM922 0h2v1h-2zM924 0h1v1h-1zM925 0h2v1h-2zM928 0h2v1h-2zM930 0h1v1h-1zM931 0h2v1h-2zM933 0h2v1h-2zM935 0h2v1h-2zM937 0h1v1h-1zM938 0h2v1h-2zM942 0h2v1h-2zM944 0h1v1h-1zM947 0h2v1h-2zM949 0h1v1h-1zM950 0h1v1h-1zM952 0h1v1h-1zM955 0h2v1h-2zM957 0h1v1h-1zM958 0h2v1h-2zM961 0h1v1h-1zM965 0h2v1h-2zM967 0h1v1h-1zM968 0h1v1h-1zM969 0h2v1h-2zM972 0h2v1h-2zM974 0h1v1h-1zM977 0h1v1h-1zM978 0h1v1h-1zM981 0h1v1h-1zM982 0h1v1h-1zM983 0h1v1h-1zM986 0h1v1h-1zM987 0h1v1h-1zM990 0h2v1h-2zM995 0h1v1h-1zM996 0h1v1h-1zM997 0h2v1h-2zM1001 0h2v1h-2zM1003 0h1v1h-1zM1004 0h2v1h-2zM1009 0h1v1h-1zM1014 0h1v1h-1zM1015 0h1v1h-1zM1016 0h1v1h-1zM1021 0h2v1h-2zM1023 0h1v1h-1zM1024 0h1v1h-1zM1025 0h2v1h-2zM1027 0h1v1h-1zM1028 0h1v1h-1zM1029 0h2v1h-2zM1031 0h2v1h-2zM1035 0h1v1h-1zM1036 0h1v1h-1zM1037 0h2v1h-2zM1039 0h1v1h-1zM1042 0h1v1h-1zM1044 0h2v1h-2zM1048 0h1v1h-1zM1051 0h1v1h-1zM1054 0h1v1h-1zM1055 0h1v1h-1zM1057 0h2v1h-2zM1059 0h2v1h-2zM1061 0h2v1h-2zM1063 0h1v1h-1zM1066 0h1v1h-1zM1067 0h1v1h-1zM1068 0h2v1h-2zM1072 0h1v1h-1zM1075 0h1v1h-1zM1076 0h2v1h-2zM1084 0h2v1h-2z"/><path fill="#eff6fc" d="M184 0h1v1h-1zM214 0h2v1h-2zM235 0h2v1h-2zM240 0h1v1h-1zM287 0h1v1h-1zM309 0h2v1h-2zM321 0h1v1h-1zM330 0h1v1h-1zM331 0h1v1h-1zM340 0h2v1h-2zM343 0h2v1h-2zM377 0h1v1h-1zM378 0h1v1h-1zM398 0h1v1h-1zM413 0h2v1h-2zM417 0h2v1h-2zM432 0h1v1h-1zM439 0h1v1h-1zM443 0h1v1h-1zM445 0h1v1h-1zM471 0h2v1h-2zM614.5 0h2v1h-2zM668.5 0h2v1h-2zM684 0h1v1h-1zM687 0h2v1h-2zM713 0h2v1h-2zM715 0h1v1h-1zM716 0h2v1h-2zM774.4 0h1v1h-1zM806 0h1v1h-1zM854 0h1v1h-1zM882 0h1v1h-1zM913 0h1v1h-1zM918 0h1v1h-1zM934.5 0h2v1h-2zM955.5 0h1v1h-1zM959.5 0h1v1h-1zM981.5 0h2v1h-2zM983.5 0h1v1h-1zM991 0h1v1h-1zM1035 0h2v1h-2zM1083.3 0h1v1h-1zM863 0h1v1h-1zM866 0h1v1h-1zM872 0h1v1h-1zM876 0h1v1h-1zM885 0h1v1h-1zM886 0h1v1h-1zM892 0h2v1h-2zM894 0h2v1h-2zM902 0h2v1h-2zM904 0h1v1h-1zM907 0h2v1h-2zM909 0h1v1h-1zM910 0h1v1h-1zM911 0h1v1h-1zM912 0h1v1h-1zM918 0h1v1h-1zM919 0h2v1h-2zM927 0h1v1h-1zM940 0h2v1h-2zM945 0h2v1h-2zM951 0h1v1h-1zM953 0h2v1h-2zM960 0h1v1h-1zM962 0h2v1h-2zM964 0h1v1h-1zM971 0h1v1h-1zM975 0h2v1h-2zM979 0h2v1h-2zM984 0h2v1h-2zM988 0h1v1h-1zM989 0h1v1h-1zM992 0h2v1h-2zM994 0h1v1h-1zM999 0h1v1h-1zM1000 0h1v1h-1zM1006 0h1v1h-1zM1007 0h1v1h-1zM1008 0h1v1h-1zM1010 0h1v1h-1zM1011 0h2v1h-2zM1013 0h1v1h-1zM1017 0h1v1h-1zM1018 0h2v1h-2zM1020 0h1v1h-1zM1033 0h2v1h-2zM1040 0h2v1h-2zM1043 0h1v1h-1zM1046 0h2v1h-2zM1049 0h2v1h-2zM1052 0h1v1h-1zM1053 0h1v1h-1zM1056 0h1v1h-1zM1064 0h2v1h-2zM1070 0h2v1h-2zM1073 0h2v1h-2zM1078 0h2v1h-2zM1080 0h2v1h-2zM1082 0h2v1h-2zM1086 0h1v1h-1zM1087 0h2v1h-2zM1089 0h1v1h-1z"/><path fill="#e6f0fa" d="M1021 0h2v1h-2zM1062.3 0h1v1h-1zM663.5 0h1v1h-1zM665.5 0h2v1h-2zM877 0h2v1h-2z"/><path fill="#8dc1dd" d="M607.5 0h2v1h-2z"/><path fill="#b9d5ea" d="M609.5 0h2v1h-2zM627.5 0h1v1h-1zM631.5 0h2v1h-2zM767 0h1v1h-1zM769 0h1v1h-1z"/><path fill="#b2d2e8" d="M611.5 0h2v1h-2zM628.5 0h2v1h-2zM770 0h1v1h-1zM771 0h1v1h-1zM772 0h2v1h-2z"/><path fill="#a5cde3" d="M613.5 0h2v1h-2z"/><path fill="#abd0e6" d="M615.5 0h2v1h-2zM622.5 0h1v1h-1zM623.5 0h2v1h-2zM842 0h1v1h-1z"/><path fill="#9ecae1" d="M617.5 0h1v1h-1z"/><path fill="#c6dbef" d="M618.5 0h2v1h-2zM625.5 0h2v1h-2z"/><path fill="#bfd8ed" d="M620.5 0h2v1h-2zM635.5 0h1v1h-1z"/><path fill="#cadef0" d="M630.5 0h1v1h-1zM637.5 0h2v1h-2zM639.5 0h1v1h-1zM768 0h1v1h-1zM775 0h2v1h-2zM777 0h1v1h-1zM778 0h1v1h-1z"/><path fill="#cee0f2" d="M633.5 0h2v1h-2zM636.5 0h1v1h-1zM644.5 0h2v1h-2zM774 0h1v1h-1z"/><path fill="#d6e6f4" d="M640.5 0h1v1h-1zM654.5 0h2v1h-2zM783 0h1v1h-1z"/><path fill="#d2e3f3" d="M641.5 0h2v1h-2zM643.5 0h1v1h-1zM779 0h2v1h-2z"/><path fill="#dae8f6" d="M646.5 0h2v1h-2zM648.5 0h1v1h-1zM649.5 0h1v1h-1zM650.5 0h2v1h-2zM656.5 0h1v1h-1zM657.5 0h1v1h-1zM658.5 0h2v1h-2zM781 0h2v1h-2zM784 0h1v1h-1z"/><path fill="#deebf7" d="M652.5 0h2v1h-2z"/><path fill="#e2eef8" d="M660.5 0h1v1h-1zM661.5 0h1v1h-1zM662.5 0h1v1h-1zM664.5 0h1v1h-1zM785 0h2v1h-2zM787 0h2v1h-2z"/><path fill="#96c5df" d="M766 0h1v1h-1z"/><path fill="#7cb7da" d="M843 0h1.5v1h-1.5z"/></g><g transform="translate(0 297.810) scale(1 14.2381)"><path fill="#eff6fc" d="M154 0h2v1h-2zM194 0h1v1h-1zM210 0h2v1h-2zM225 0h1v1h-1zM230 0h1v1h-1zM260 0h2v1h-2zM273 0h2v1h-2zM300 0h2v1h-2zM306 0h1v1h-1zM307 0h1v1h-1zM314 0h1v1h-1zM342 0h2v1h-2zM348 0h1v1h-1zM357 0h2v1h-2zM360 0h2v1h-2zM363 0h2v1h-2zM376 0h1v1h-1zM382 0h2v1h-2zM384 0h1v1h-1zM394 0h1v1h-1zM395 0h1v1h-1zM399 0h2v1h-2zM401 0h1v1h-1zM405 0h1v1h-1zM406 0h1v1h-1zM410 0h1v1h-1zM415 0h1v1h-1zM440 0h1v1h-1zM555 0h1v1h-1zM621.5 0h1v1h-1zM662.5 0h2v1h-2zM664.5 0h2v1h-2zM669.5 0h2v1h-2zM730 0h2v1h-2zM737 0h1v1h-1zM756 0h2v1h-2zM789.4 0h1v1h-1zM798.4 0h0.6v1h-0.6zM835 0h2v1h-2zM839 0h2v1h-2zM842 0h1v1h-1zM861 0h1v1h-1zM871 0h1v1h-1zM880 0h1v1h-1zM905 0h2v1h-2zM909 0h1v1h-1zM914 0h1v1h-1zM938.5 0h2v1h-2zM940.5 0h1v1h-1zM998 0h1v1h-1zM1075.3 0h1v1h-1zM1084.3 0h1v1h-1zM1085.3 0h2v1h-2zM1090.3 0h1v1h-1zM755 0h2v1h-2zM759 0h1v1h-1zM761 0h2v1h-2zM763 0h1v1h-1zM764 0h2v1h-2z"/><path fill="#eaf3fb" d="M251 0h1v1h-1zM280 0h2v1h-2zM285 0h2v1h-2zM302 0h2v1h-2zM323 0h1v1h-1zM330 0h1v1h-1zM377 0h1v1h-1zM618.5 0h1v1h-1zM635.5 0h1v1h-1zM656.5 0h1v1h-1zM677 0h2v1h-2zM683 0h1v1h-1zM716 0h2v1h-2zM734 0h1v1h-1zM749 0h1v1h-1zM779.4 0h2v1h-2zM797.4 0h1v1h-1zM802 0h1v1h-1zM809 0h1v1h-1zM819 0h2v1h-2zM833 0h1v1h-1zM837 0h2v1h-2zM876 0h1v1h-1zM885 0h1v1h-1zM919 0h1v1h-1zM920.5 0h1v1h-1zM923.5 0h1v1h-1zM941.5 0h1v1h-1zM965.5 0h1v1h-1zM971.5 0h1v1h-1zM996 0h1v1h-1zM1009 0h2v1h-2zM1011 0h1v1h-1zM1051 0h2v1h-2zM1053 0h1v1h-1zM1060.3 0h1v1h-1zM1067.3 0h2v1h-2zM667.5 0h1v1h-1zM670.5 0h1v1h-1zM740 0h1v1h-1zM742 0h1v1h-1zM752 0h1v1h-1zM753 0h1v1h-1zM757 0h2v1h-2zM760 0h1v1h-1z"/><path fill="#e6f0fa" d="M674 0h1v1h-1zM1057.3 0h1v1h-1zM661.5 0h1v1h-1zM665.5 0h2v1h-2zM668.5 0h1v1h-1zM739 0h1v1h-1zM741 0h1v1h-1zM745 0h1v1h-1zM746 0h1v1h-1zM747 0h2v1h-2zM749 0h1v1h-1zM750 0h2v1h-2zM754 0h1v1h-1z"/><path fill="#cee0f2" d="M607.5 0h2v1h-2zM617.5 0h2v1h-2zM622.5 0h2v1h-2zM624.5 0h2v1h-2zM676 0h1v1h-1zM677 0h1v1h-1zM681 0h1v1h-1zM687 0h1v1h-1zM689 0h1v1h-1zM690 0h2v1h-2zM694 0h1v1h-1zM695 0h2v1h-2zM698 0h1v1h-1zM842 0h2v1h-2z"/><path fill="#c6dbef" d="M609.5 0h1v1h-1zM678 0h2v1h-2zM683 0h1v1h-1z"/><path fill="#cadef0" d="M610.5 0h2v1h-2zM672 0h1v1h-1zM675 0h1v1h-1zM685 0h2v1h-2z"/><path fill="#d2e3f3" d="M612.5 0h2v1h-2zM619.5 0h1v1h-1zM620.5 0h2v1h-2zM629.5 0h1v1h-1zM630.5 0h1v1h-1zM631.5 0h2v1h-2zM688 0h1v1h-1zM697 0h1v1h-1zM699 0h1v1h-1zM706 0h1v1h-1zM711 0h1v1h-1z"/><path fill="#dae8f6" d="M614.5 0h1v1h-1zM615.5 0h2v1h-2zM627.5 0h2v1h-2zM642.5 0h1v1h-1zM645.5 0h1v1h-1zM646.5 0h2v1h-2zM650.5 0h2v1h-2zM684 0h1v1h-1zM692 0h2v1h-2zM700 0h1v1h-1zM701 0h2v1h-2zM703 0h1v1h-1zM707 0h1v1h-1zM710 0h1v1h-1zM712 0h1v1h-1zM713 0h2v1h-2zM715 0h2v1h-2zM722 0h1v1h-1zM725 0h2v1h-2z"/><path fill="#d6e6f4" d="M626.5 0h1v1h-1zM633.5 0h1v1h-1zM635.5 0h1v1h-1zM643.5 0h2v1h-2zM680 0h1v1h-1zM682 0h1v1h-1zM704 0h1v1h-1zM705 0h1v1h-1zM718 0h1v1h-1z"/><path fill="#deebf7" d="M634.5 0h1v1h-1zM636.5 0h2v1h-2zM638.5 0h2v1h-2zM640.5 0h1v1h-1zM641.5 0h1v1h-1zM652.5 0h1v1h-1zM657.5 0h2v1h-2zM662.5 0h1v1h-1zM708 0h2v1h-2zM719 0h1v1h-1zM730 0h2v1h-2zM737 0h2v1h-2z"/><path fill="#e2eef8" d="M648.5 0h2v1h-2zM653.5 0h1v1h-1zM654.5 0h1v1h-1zM655.5 0h1v1h-1zM656.5 0h1v1h-1zM659.5 0h1v1h-1zM660.5 0h1v1h-1zM663.5 0h2v1h-2zM669.5 0h1v1h-1zM671.5 0h0.5v1h-0.5zM717 0h1v1h-1zM720 0h2v1h-2zM723 0h2v1h-2zM727 0h1v1h-1zM728 0h2v1h-2zM732 0h2v1h-2zM734 0h2v1h-2zM736 0h1v1h-1zM743 0h2v1h-2z"/><path fill="#bfd8ed" d="M673 0h2v1h-2z"/></g><g transform="translate(0 312.048) scale(1 14.2381)"><path fill="#eff6fc" d="M155 0h1v1h-1zM179 0h1v1h-1zM188 0h1v1h-1zM197 0h1v1h-1zM207 0h1v1h-1zM218 0h2v1h-2zM220 0h2v1h-2zM234 0h1v1h-1zM245 0h1v1h-1zM248 0h1v1h-1zM256 0h2v1h-2zM266 0h1v1h-1zM275 0h2v1h-2zM324 0h1v1h-1zM325 0h2v1h-2zM338 0h2v1h-2zM341 0h1v1h-1zM355 0h2v1h-2zM360 0h2v1h-2zM383 0h1v1h-1zM387 0h1v1h-1zM392 0h1v1h-1zM399 0h2v1h-2zM431 0h2v1h-2zM433 0h1v1h-1zM438 0h1v1h-1zM502 0h1v1h-1zM549 0h1v1h-1zM595 0h2v1h-2zM627.5 0h1v1h-1zM630.5 0h2v1h-2zM724 0h1v1h-1zM743 0h2v1h-2zM755 0h2v1h-2zM766.4 0h1v1h-1zM779.4 0h2v1h-2zM793.4 0h1v1h-1zM824 0h1v1h-1zM853 0h1v1h-1zM860 0h1v1h-1zM893 0h2v1h-2zM961.5 0h1v1h-1zM1034 0h1v1h-1zM1043 0h2v1h-2zM1046 0h1v1h-1zM1056 0h1.3v1h-1.3zM1088.3 0h2v1h-2z"/><path fill="#eaf3fb" d="M168 0h1v1h-1zM189 0h2v1h-2zM195 0h2v1h-2zM235 0h1v1h-1zM240 0h1v1h-1zM242 0h1v1h-1zM252 0h1v1h-1zM274 0h1v1h-1zM278 0h1v1h-1zM357 0h2v1h-2zM611.5 0h1v1h-1zM643.5 0h2v1h-2zM645.5 0h1v1h-1zM659.5 0h1v1h-1zM720 0h1v1h-1zM757 0h1v1h-1zM767.4 0h1v1h-1zM785.4 0h1v1h-1zM794.4 0h1v1h-1zM795.4 0h1v1h-1zM808 0h1v1h-1zM809 0h2v1h-2zM820 0h1v1h-1zM829 0h1v1h-1zM830 0h1v1h-1zM870 0h1v1h-1zM878 0h1v1h-1zM888 0h2v1h-2zM890 0h2v1h-2zM897 0h1v1h-1zM918 0h2v1h-2zM920 0h0.5v1h-0.5zM927.5 0h1v1h-1zM995 0h2v1h-2zM1012 0h1v1h-1zM1016 0h1v1h-1zM1026 0h2v1h-2zM1064.3 0h1v1h-1zM429 0h1v1h-1z"/><path fill="#e6f0fa" d="M683 0h2v1h-2zM989 0h1v1h-1zM1014 0h1v1h-1zM423 0h1v1h-1zM424 0h2v1h-2zM427 0h2v1h-2z"/><path fill="#c6dbef" d="M408 0h1v1h-1z"/><path fill="#cee0f2" d="M409 0h1v1h-1zM411 0h1v1h-1zM414 0h1v1h-1z"/><path fill="#cadef0" d="M410 0h1v1h-1z"/><path fill="#d2e3f3" d="M412 0h2v1h-2z"/><path fill="#d6e6f4" d="M415 0h1v1h-1zM419 0h1v1h-1z"/><path fill="#dae8f6" d="M416 0h1v1h-1zM417 0h2v1h-2z"/><path fill="#deebf7" d="M420 0h2v1h-2z"/><path fill="#e2eef8" d="M422 0h1v1h-1zM426 0h1v1h-1z"/></g><g transform="translate(0 326.286) scale(1 14.2381)"><path fill="#eff6fc" d="M171 0h1v1h-1zM173 0h2v1h-2zM201 0h1v1h-1zM205 0h2v1h-2zM207 0h1v1h-1zM217 0h2v1h-2zM235 0h2v1h-2zM267 0h1v1h-1zM279 0h2v1h-2zM281 0h2v1h-2zM294 0h1v1h-1zM319 0h1v1h-1zM324 0h2v1h-2zM326 0h1v1h-1zM330 0h1v1h-1zM340 0h1v1h-1zM360 0h2v1h-2zM377 0h2v1h-2zM390 0h2v1h-2zM392 0h2v1h-2zM398 0h2v1h-2zM400 0h2v1h-2zM407 0h1v1h-1zM413 0h1v1h-1zM439 0h1v1h-1zM440 0h2v1h-2zM450 0h1v1h-1zM552 0h2v1h-2zM623.5 0h1v1h-1zM631.5 0h2v1h-2zM638.5 0h2v1h-2zM647.5 0h1v1h-1zM667.5 0h1v1h-1zM723 0h1v1h-1zM734 0h1v1h-1zM741 0h2v1h-2zM743 0h1v1h-1zM757 0h2v1h-2zM761 0h1v1h-1zM800 0h2v1h-2zM805 0h1v1h-1zM823 0h1v1h-1zM831 0h2v1h-2zM845 0h1v1h-1zM847 0h1v1h-1zM871 0h2v1h-2zM880 0h2v1h-2zM889 0h1v1h-1zM905 0h1v1h-1zM909 0h1v1h-1zM927.5 0h1v1h-1zM938.5 0h2v1h-2zM965.5 0h1v1h-1zM972.5 0h2v1h-2zM976.5 0h2v1h-2zM999 0h1v1h-1zM1009 0h1v1h-1zM1048 0h1v1h-1zM1052 0h1v1h-1zM1060.3 0h2v1h-2zM1083.3 0h1v1h-1z"/><path fill="#eaf3fb" d="M195 0h1v1h-1zM241 0h1v1h-1zM262 0h1v1h-1zM351 0h2v1h-2zM358 0h1v1h-1zM364 0h2v1h-2zM405 0h2v1h-2zM622.5 0h1v1h-1zM641.5 0h2v1h-2zM651.5 0h1v1h-1zM653.5 0h2v1h-2zM687 0h1v1h-1zM690 0h2v1h-2zM692 0h1v1h-1zM711 0h2v1h-2zM713 0h1v1h-1zM740 0h1v1h-1zM745 0h1v1h-1zM793.4 0h2v1h-2zM811 0h1v1h-1zM842 0h1v1h-1zM926.5 0h1v1h-1zM931.5 0h2v1h-2zM945.5 0h2v1h-2zM979.5 0h1v1h-1zM988 0h2v1h-2zM1015 0h1v1h-1zM1047 0h1v1h-1zM1049 0h1v1h-1zM1063.3 0h2v1h-2zM1066.3 0h1v1h-1zM1073.3 0h1v1h-1z"/></g><g transform="translate(0 340.524) scale(1 14.2381)"><path fill="#eaf3fb" d="M157 0h2v1h-2zM161 0h1v1h-1zM173 0h2v1h-2zM192 0h1v1h-1zM247 0h1v1h-1zM256 0h2v1h-2zM261 0h1v1h-1zM274 0h2v1h-2zM614.5 0h2v1h-2zM621.5 0h1v1h-1zM675 0h2v1h-2zM705 0h2v1h-2zM724 0h1v1h-1zM739 0h2v1h-2zM749 0h1v1h-1zM752 0h2v1h-2zM773.4 0h2v1h-2zM799 0h2v1h-2zM818 0h2v1h-2zM831 0h2v1h-2zM833 0h1v1h-1zM850 0h1v1h-1zM875 0h1v1h-1zM924.5 0h1v1h-1zM928.5 0h2v1h-2zM951.5 0h1v1h-1zM974.5 0h2v1h-2zM1004 0h1v1h-1zM1027 0h2v1h-2zM1053 0h1v1h-1zM1064.3 0h1v1h-1zM1068.3 0h1v1h-1zM290 0h1v1h-1zM291 0h2v1h-2zM293 0h1v1h-1zM296 0h2v1h-2zM365 0h2v1h-2zM367 0h1v1h-1zM374 0h1v1h-1zM375 0h2v1h-2zM377 0h2v1h-2zM381 0h2v1h-2zM383 0h2v1h-2zM385 0h2v1h-2zM387 0h1v1h-1zM391 0h1v1h-1zM392 0h2v1h-2zM396 0h1v1h-1zM632 0h2v1h-2zM642 0h2v1h-2zM644 0h2v1h-2zM647 0h1v1h-1zM649 0h2v1h-2zM651 0h1v1h-1zM652 0h1v1h-1zM653 0h2v1h-2zM655 0h1v1h-1zM657 0h2v1h-2zM659 0h2v1h-2zM661 0h2v1h-2zM663 0h1v1h-1zM664 0h1v1h-1zM712 0h1v1h-1zM718 0h2v1h-2zM721 0h2v1h-2zM723 0h2v1h-2zM727 0h1v1h-1zM728 0h1v1h-1zM731 0h1v1h-1zM732 0h2v1h-2zM734 0h2v1h-2zM736 0h2v1h-2zM738 0h1v1h-1zM740 0h2v1h-2zM742 0h2v1h-2zM744 0h1v1h-1zM781 0h1v1h-1zM817 0h2v1h-2zM823 0h2v1h-2zM825 0h2v1h-2zM827 0h1v1h-1zM850 0h1v1h-1zM853 0h1v1h-1zM855 0h1v1h-1zM856 0h1v1h-1zM857 0h2v1h-2zM859 0h1v1h-1zM875 0h1v1h-1zM881 0h2v1h-2zM883 0h2v1h-2zM885 0h2v1h-2zM887 0h2v1h-2zM889 0h1v1h-1zM917 0h1v1h-1zM920 0h2v1h-2zM924 0h2v1h-2zM928 0h2v1h-2zM930 0h1v1h-1zM931 0h1v1h-1zM933 0h2v1h-2zM935 0h2v1h-2zM937 0h1v1h-1zM938 0h1v1h-1zM943 0h2v1h-2zM945 0h2v1h-2zM947 0h2v1h-2zM981 0h1v1h-1zM982 0h1v1h-1zM984 0h1v1h-1zM988 0h1v1h-1zM989 0h2v1h-2zM991 0h1v1h-1zM993 0h2v1h-2zM995 0h1v1h-1zM996 0h1v1h-1zM999 0h2v1h-2zM1001 0h2v1h-2z"/><path fill="#eff6fc" d="M159 0h1v1h-1zM177 0h2v1h-2zM184 0h1v1h-1zM214 0h2v1h-2zM221 0h2v1h-2zM253 0h1v1h-1zM268 0h2v1h-2zM277 0h2v1h-2zM309 0h1v1h-1zM313 0h2v1h-2zM315 0h1v1h-1zM317 0h2v1h-2zM363 0h1v1h-1zM365 0h1v1h-1zM415 0h2v1h-2zM432 0h2v1h-2zM434 0h1v1h-1zM435 0h1v1h-1zM452 0h2v1h-2zM501 0h1v1h-1zM512 0h2v1h-2zM532 0h2v1h-2zM555 0h1v1h-1zM635.5 0h1v1h-1zM708 0h2v1h-2zM735 0h1v1h-1zM737 0h2v1h-2zM810 0h1v1h-1zM840 0h2v1h-2zM847 0h1v1h-1zM856 0h2v1h-2zM858 0h1v1h-1zM869 0h1v1h-1zM879 0h2v1h-2zM891 0h1v1h-1zM893 0h1v1h-1zM894 0h2v1h-2zM909 0h1v1h-1zM914 0h1v1h-1zM921.5 0h1v1h-1zM946.5 0h1v1h-1zM969.5 0h1v1h-1zM971.5 0h2v1h-2zM993 0h1v1h-1zM997 0h1v1h-1zM1007 0h1v1h-1zM1044 0h1v1h-1zM1051 0h2v1h-2zM1070.3 0h2v1h-2zM1078.3 0h1v1h-1zM1080.3 0h1v1h-1zM1086.3 0h1v1h-1zM298 0h1v1h-1zM388 0h2v1h-2zM390 0h1v1h-1zM394 0h2v1h-2zM656 0h1v1h-1zM739 0h1v1h-1zM828 0h2v1h-2zM939 0h2v1h-2zM941 0h2v1h-2zM949 0h1v1h-1zM997 0h2v1h-2z"/><path fill="#e6f0fa" d="M988 0h2v1h-2zM1057.3 0h1v1h-1zM199 0h2v1h-2zM206 0h1v1h-1zM207 0h1v1h-1zM210 0h1v1h-1zM217 0h2v1h-2zM220 0h2v1h-2zM222 0h2v1h-2zM284 0h1v1h-1zM286 0h2v1h-2zM288 0h1v1h-1zM289 0h1v1h-1zM294 0h1v1h-1zM295 0h1v1h-1zM332 0h2v1h-2zM334 0h2v1h-2zM337 0h1v1h-1zM347 0h1v1h-1zM350 0h1v1h-1zM356 0h1v1h-1zM357 0h1v1h-1zM360 0h2v1h-2zM362 0h1v1h-1zM364 0h1v1h-1zM368 0h2v1h-2zM370 0h1v1h-1zM371 0h2v1h-2zM373 0h1v1h-1zM379 0h2v1h-2zM414 0h2v1h-2zM418 0h1v1h-1zM419 0h1v1h-1zM420 0h2v1h-2zM426 0h1v1h-1zM618 0h1v1h-1zM621 0h2v1h-2zM630 0h1v1h-1zM631 0h1v1h-1zM634 0h2v1h-2zM636 0h2v1h-2zM638 0h2v1h-2zM640 0h1v1h-1zM641 0h1v1h-1zM646 0h1v1h-1zM648 0h1v1h-1zM691 0h1v1h-1zM698 0h1v1h-1zM699 0h2v1h-2zM703 0h1v1h-1zM704 0h1v1h-1zM705 0h2v1h-2zM709 0h2v1h-2zM711 0h1v1h-1zM715 0h1v1h-1zM717 0h1v1h-1zM720 0h1v1h-1zM725 0h2v1h-2zM729 0h1v1h-1zM730 0h1v1h-1zM767 0h2v1h-2zM769 0h1v1h-1zM771 0h1v1h-1zM772 0h1v1h-1zM773 0h1v1h-1zM774 0h1v1h-1zM775 0h1v1h-1zM776 0h1v1h-1zM777 0h2v1h-2zM779 0h1v1h-1zM780 0h1v1h-1zM782 0h1v1h-1zM783 0h2v1h-2zM785 0h1v1h-1zM786 0h1v1h-1zM804 0h1v1h-1zM819 0h2v1h-2zM821 0h2v1h-2zM851 0h2v1h-2zM854 0h1v1h-1zM870 0h1v1h-1zM874 0h1v1h-1zM876 0h1v1h-1zM877 0h1v1h-1zM878 0h1v1h-1zM879 0h2v1h-2zM918 0h1v1h-1zM919 0h1v1h-1zM922 0h2v1h-2zM926 0h1v1h-1zM927 0h1v1h-1zM932 0h1v1h-1zM969.5 0h0.5v1h-0.5zM975 0h2v1h-2zM977 0h1v1h-1zM978 0h2v1h-2zM980 0h1v1h-1zM983 0h1v1h-1zM985 0h2v1h-2zM987 0h1v1h-1zM992 0h1v1h-1zM1088 0h1v1h-1z"/><path fill="#d2e3f3" d="M154 0h2v1h-2zM176 0h1v1h-1zM177 0h1v1h-1zM183 0h2v1h-2zM235 0h2v1h-2zM237 0h2v1h-2zM246 0h1v1h-1zM253 0h2v1h-2zM255 0h1v1h-1zM264 0h2v1h-2zM305 0h1v1h-1zM306 0h1v1h-1zM1017 0h2v1h-2zM1020 0h1v1h-1z"/><path fill="#deebf7" d="M156 0h2v1h-2zM174 0h1v1h-1zM178 0h1v1h-1zM180 0h1v1h-1zM185 0h2v1h-2zM187 0h2v1h-2zM191 0h2v1h-2zM194 0h2v1h-2zM197 0h2v1h-2zM203 0h1v1h-1zM214 0h1v1h-1zM262 0h1v1h-1zM268 0h1v1h-1zM270 0h2v1h-2zM272 0h2v1h-2zM275 0h1v1h-1zM280 0h2v1h-2zM307 0h2v1h-2zM309 0h1v1h-1zM313 0h1v1h-1zM314 0h1v1h-1zM315 0h1v1h-1zM317 0h1v1h-1zM318 0h1v1h-1zM321 0h1v1h-1zM322 0h2v1h-2zM330 0h1v1h-1zM331 0h1v1h-1zM346 0h1v1h-1zM349 0h1v1h-1zM398 0h1v1h-1zM402 0h2v1h-2zM413 0h1v1h-1zM416 0h2v1h-2zM607 0h1v1h-1zM608 0h1v1h-1zM609 0h1v1h-1zM614 0h2v1h-2zM619 0h1v1h-1zM620 0h1v1h-1zM672 0h1v1h-1zM678 0h2v1h-2zM680 0h1v1h-1zM681 0h2v1h-2zM684 0h1v1h-1zM685 0h1v1h-1zM687 0h2v1h-2zM696 0h2v1h-2zM701 0h1v1h-1zM800 0h2v1h-2zM802 0h1v1h-1zM871 0h1v1h-1zM962.5 0h2v1h-2zM967.5 0h1v1h-1zM1027 0h2v1h-2zM1031 0h1v1h-1zM1041 0h1v1h-1zM1042 0h1v1h-1zM1050 0h1v1h-1zM1073 0h1v1h-1zM1074 0h1v1h-1zM1075 0h1v1h-1zM1086 0h2v1h-2z"/><path fill="#cee0f2" d="M167 0h1v1h-1zM171 0h1v1h-1zM247 0h1v1h-1zM257 0h2v1h-2zM1016 0h1v1h-1z"/><path fill="#dae8f6" d="M168 0h1v1h-1zM175 0h1v1h-1zM181 0h2v1h-2zM193 0h1v1h-1zM269 0h1v1h-1zM274 0h1v1h-1zM278 0h2v1h-2zM302 0h2v1h-2zM304 0h1v1h-1zM310 0h1v1h-1zM311 0h1v1h-1zM312 0h1v1h-1zM316 0h1v1h-1zM324 0h1v1h-1zM325 0h1v1h-1zM336 0h1v1h-1zM338 0h2v1h-2zM677 0h1v1h-1zM956.5 0h2v1h-2zM958.5 0h1v1h-1zM1015 0h1v1h-1zM1023 0h2v1h-2zM1025 0h2v1h-2zM1029 0h1v1h-1zM1030 0h1v1h-1zM1032 0h1v1h-1zM1035 0h2v1h-2zM1038 0h1v1h-1zM1039 0h2v1h-2zM1043 0h1v1h-1zM1044 0h2v1h-2zM1077 0h2v1h-2zM1085 0h1v1h-1z"/><path fill="#d6e6f4" d="M169 0h2v1h-2zM172 0h1v1h-1zM173 0h1v1h-1zM179 0h1v1h-1zM189 0h2v1h-2zM248 0h2v1h-2zM250 0h2v1h-2zM259 0h2v1h-2zM261 0h1v1h-1zM263 0h1v1h-1zM266 0h1v1h-1zM267 0h1v1h-1zM301 0h1v1h-1zM1013 0h1v1h-1zM1014 0h1v1h-1zM1019 0h1v1h-1zM1021 0h1v1h-1zM1022 0h1v1h-1zM1033 0h2v1h-2zM1072 0h1v1h-1zM1076 0h1v1h-1zM1079 0h1v1h-1zM1080 0h1v1h-1zM1083 0h1v1h-1z"/><path fill="#e2eef8" d="M196 0h1v1h-1zM201 0h2v1h-2zM204 0h2v1h-2zM208 0h1v1h-1zM209 0h1v1h-1zM211 0h1v1h-1zM212 0h1v1h-1zM213 0h1v1h-1zM215 0h2v1h-2zM219 0h1v1h-1zM276 0h2v1h-2zM282 0h2v1h-2zM285 0h1v1h-1zM319 0h2v1h-2zM326 0h1v1h-1zM327 0h1v1h-1zM328 0h2v1h-2zM340 0h2v1h-2zM342 0h2v1h-2zM344 0h2v1h-2zM348 0h1v1h-1zM351 0h1v1h-1zM352 0h1v1h-1zM353 0h1v1h-1zM354 0h2v1h-2zM358 0h2v1h-2zM363 0h1v1h-1zM399 0h2v1h-2zM401 0h1v1h-1zM404 0h1v1h-1zM422 0h1v1h-1zM423 0h2v1h-2zM425 0h1v1h-1zM427 0h1v1h-1zM428 0h2v1h-2zM610 0h1v1h-1zM611 0h2v1h-2zM613 0h1v1h-1zM616 0h2v1h-2zM623 0h2v1h-2zM625 0h2v1h-2zM627 0h1v1h-1zM628 0h2v1h-2zM673 0h2v1h-2zM675 0h2v1h-2zM683 0h1v1h-1zM686 0h1v1h-1zM689 0h2v1h-2zM692 0h1v1h-1zM693 0h1v1h-1zM694 0h2v1h-2zM702 0h1v1h-1zM707 0h1v1h-1zM708 0h1v1h-1zM713 0h1v1h-1zM714 0h1v1h-1zM716 0h1v1h-1zM766 0h1v1h-1zM770 0h1v1h-1zM799 0h1v1h-1zM803 0h1v1h-1zM805 0h1v1h-1zM869 0h1v1h-1zM872 0h2v1h-2zM959.5 0h1v1h-1zM960.5 0h2v1h-2zM964.5 0h1v1h-1zM965.5 0h2v1h-2zM968.5 0h1v1h-1zM1037 0h1v1h-1zM1046 0h2v1h-2zM1048 0h2v1h-2zM1051 0h2v1h-2zM1081 0h1v1h-1zM1082 0h1v1h-1zM1084 0h1v1h-1z"/><path fill="#c6dbef" d="M231 0h1v1h-1zM233 0h2v1h-2zM241 0h2v1h-2zM243 0h2v1h-2zM1062 0h1v1h-1zM1067 0h1v1h-1z"/><path fill="#bfd8ed" d="M232 0h1v1h-1zM240 0h1v1h-1zM245 0h1v1h-1zM1061 0h1v1h-1z"/><path fill="#b9d5ea" d="M239 0h1v1h-1zM1071 0h1v1h-1z"/><path fill="#cadef0" d="M252 0h1v1h-1zM256 0h1v1h-1zM1068 0h2v1h-2z"/><path fill="#b2d2e8" d="M1060 0h1v1h-1zM1063 0h2v1h-2zM1070 0h1v1h-1z"/><path fill="#abd0e6" d="M1065 0h2v1h-2z"/></g><g transform="translate(0 354.762) scale(1 14.2381)"><path fill="#eff6fc" d="M154 0h1v1h-1zM179 0h2v1h-2zM214 0h1v1h-1zM222 0h1v1h-1zM225 0h2v1h-2zM234 0h1v1h-1zM235 0h2v1h-2zM237 0h1v1h-1zM246 0h2v1h-2zM268 0h2v1h-2zM275 0h2v1h-2zM296 0h1v1h-1zM298 0h2v1h-2zM310 0h1v1h-1zM311 0h1v1h-1zM321 0h1v1h-1zM322 0h1v1h-1zM326 0h1v1h-1zM352 0h1v1h-1zM373 0h1v1h-1zM375 0h1v1h-1zM376 0h1v1h-1zM413 0h2v1h-2zM440 0h1v1h-1zM446 0h1v1h-1zM452 0h2v1h-2zM606 0h1v1h-1zM633.5 0h2v1h-2zM643.5 0h2v1h-2zM651.5 0h1v1h-1zM653.5 0h2v1h-2zM657.5 0h1v1h-1zM698 0h1v1h-1zM722 0h1v1h-1zM725 0h1v1h-1zM731 0h1v1h-1zM742 0h1v1h-1zM752 0h2v1h-2zM761 0h2v1h-2zM792.4 0h2v1h-2zM820 0h1v1h-1zM840 0h1v1h-1zM880 0h1v1h-1zM896 0h1v1h-1zM920 0h0.5v1h-0.5zM973.5 0h1v1h-1zM1012 0h1v1h-1zM1018 0h2v1h-2zM1075.3 0h1v1h-1zM1076.3 0h2v1h-2z"/><path fill="#eaf3fb" d="M211 0h2v1h-2zM240 0h1v1h-1zM300 0h2v1h-2zM308 0h2v1h-2zM319 0h2v1h-2zM360 0h1v1h-1zM369 0h1v1h-1zM608.5 0h1v1h-1zM615.5 0h2v1h-2zM637.5 0h1v1h-1zM646.5 0h1v1h-1zM655.5 0h1v1h-1zM678 0h1v1h-1zM679 0h1v1h-1zM689 0h2v1h-2zM692 0h2v1h-2zM745 0h1v1h-1zM810 0h1v1h-1zM821 0h1v1h-1zM835 0h1v1h-1zM845 0h1v1h-1zM846 0h1v1h-1zM892 0h2v1h-2zM901 0h1v1h-1zM928.5 0h1v1h-1zM932.5 0h1v1h-1zM936.5 0h1v1h-1zM947.5 0h1v1h-1zM948.5 0h1v1h-1zM983.5 0h1v1h-1zM990 0h1v1h-1zM1013 0h1v1h-1zM1030 0h1v1h-1zM1045 0h1v1h-1zM1059.3 0h2v1h-2zM1066.3 0h2v1h-2zM1088.3 0h1v1h-1z"/><path fill="#e6f0fa" d="M613.5 0h2v1h-2z"/></g><g transform="translate(0 369.000) scale(1 14.2381)"><path fill="#eaf3fb" d="M154 0h1v1h-1zM192 0h1v1h-1zM245 0h1v1h-1zM284 0h2v1h-2zM298 0h1v1h-1zM367 0h2v1h-2zM610.5 0h2v1h-2zM623.5 0h1v1h-1zM624.5 0h1v1h-1zM627.5 0h2v1h-2zM651.5 0h2v1h-2zM670.5 0h1.5v1h-1.5zM680 0h1v1h-1zM686 0h1v1h-1zM712 0h2v1h-2zM714 0h2v1h-2zM735 0h2v1h-2zM737 0h1v1h-1zM738 0h2v1h-2zM747 0h1v1h-1zM771.4 0h1v1h-1zM772.4 0h1v1h-1zM793.4 0h1v1h-1zM802 0h2v1h-2zM806 0h1v1h-1zM835 0h1v1h-1zM847 0h1v1h-1zM852 0h2v1h-2zM874 0h2v1h-2zM894 0h2v1h-2zM896 0h1v1h-1zM920 0h0.5v1h-0.5zM922.5 0h2v1h-2zM932.5 0h1v1h-1zM941.5 0h1v1h-1zM961.5 0h1v1h-1zM1004 0h1v1h-1zM1017 0h1v1h-1zM1059.3 0h2v1h-2zM1061.3 0h2v1h-2z"/><path fill="#eff6fc" d="M163 0h2v1h-2zM177 0h2v1h-2zM201 0h1v1h-1zM204 0h2v1h-2zM232 0h1v1h-1zM233 0h1v1h-1zM243 0h2v1h-2zM251 0h2v1h-2zM268 0h1v1h-1zM281 0h1v1h-1zM295 0h1v1h-1zM304 0h1v1h-1zM327 0h2v1h-2zM333 0h1v1h-1zM334 0h2v1h-2zM340 0h1v1h-1zM349 0h1v1h-1zM358 0h1v1h-1zM370 0h1v1h-1zM375 0h1v1h-1zM438 0h1v1h-1zM473 0h1v1h-1zM635.5 0h1v1h-1zM728 0h1v1h-1zM748 0h1v1h-1zM755 0h1v1h-1zM759 0h2v1h-2zM766 0h0.4v1h-0.4zM776.4 0h1v1h-1zM784.4 0h2v1h-2zM800 0h1v1h-1zM811 0h1v1h-1zM820 0h2v1h-2zM837 0h2v1h-2zM861 0h2v1h-2zM885 0h1v1h-1zM891 0h1v1h-1zM906 0h2v1h-2zM918 0h2v1h-2zM980.5 0h2v1h-2zM1029 0h1v1h-1zM1049 0h2v1h-2zM1074.3 0h1v1h-1zM1077.3 0h1v1h-1zM1079.3 0h1v1h-1z"/></g><g transform="translate(0 383.238) scale(1 14.2381)"><path fill="#eff6fc" d="M155 0h1v1h-1zM178 0h1v1h-1zM196 0h1v1h-1zM212 0h1v1h-1zM236 0h1v1h-1zM257 0h2v1h-2zM276 0h2v1h-2zM290 0h2v1h-2zM307 0h1v1h-1zM311 0h1v1h-1zM367 0h1v1h-1zM388 0h1v1h-1zM390 0h1v1h-1zM396 0h2v1h-2zM431 0h1v1h-1zM432 0h2v1h-2zM437 0h1v1h-1zM619.5 0h2v1h-2zM658.5 0h2v1h-2zM667.5 0h2v1h-2zM671.5 0h0.5v1h-0.5zM691 0h1v1h-1zM741 0h2v1h-2zM745 0h1v1h-1zM746 0h1v1h-1zM748 0h1v1h-1zM750 0h2v1h-2zM756 0h1v1h-1zM795.4 0h1v1h-1zM845 0h1v1h-1zM864 0h2v1h-2zM881 0h1v1h-1zM884 0h1v1h-1zM887 0h1v1h-1zM890 0h2v1h-2zM894 0h1v1h-1zM900 0h1v1h-1zM903 0h1v1h-1zM905 0h2v1h-2zM931.5 0h1v1h-1zM969.5 0h1v1h-1zM974.5 0h1v1h-1zM975.5 0h2v1h-2zM983.5 0h1v1h-1zM997 0h1v1h-1zM1007 0h2v1h-2zM1028 0h1v1h-1zM1040 0h1v1h-1zM1046 0h1v1h-1zM1051 0h2v1h-2zM1055 0h2v1h-2zM1084.3 0h1v1h-1zM1085.3 0h2v1h-2z"/><path fill="#eaf3fb" d="M188 0h1v1h-1zM189 0h2v1h-2zM200 0h2v1h-2zM217 0h2v1h-2zM234 0h1v1h-1zM238 0h1v1h-1zM239 0h1v1h-1zM282 0h1v1h-1zM355 0h1v1h-1zM622.5 0h2v1h-2zM627.5 0h2v1h-2zM629.5 0h1v1h-1zM647.5 0h1v1h-1zM683 0h2v1h-2zM688 0h1v1h-1zM704 0h2v1h-2zM733 0h1v1h-1zM783.4 0h1v1h-1zM786.4 0h1v1h-1zM813 0h1v1h-1zM888 0h1v1h-1zM901 0h2v1h-2zM952.5 0h2v1h-2zM1023 0h1v1h-1zM1031 0h1v1h-1zM1036 0h1v1h-1zM1041 0h1v1h-1zM1071.3 0h2v1h-2zM1079.3 0h1v1h-1zM1081.3 0h1v1h-1z"/><path fill="#e6f0fa" d="M875 0h2v1h-2zM1014 0h1v1h-1z"/></g><g transform="translate(0 397.476) scale(1 14.2381)"><path fill="#eaf3fb" d="M157 0h1v1h-1zM183 0h1v1h-1zM237 0h2v1h-2zM242 0h1v1h-1zM257 0h1v1h-1zM258 0h2v1h-2zM300 0h2v1h-2zM363 0h2v1h-2zM384 0h1v1h-1zM680 0h1v1h-1zM691 0h1v1h-1zM696 0h2v1h-2zM700 0h2v1h-2zM703 0h1v1h-1zM722 0h2v1h-2zM732 0h1v1h-1zM733 0h1v1h-1zM740 0h2v1h-2zM818 0h1v1h-1zM819 0h2v1h-2zM829 0h2v1h-2zM833 0h1v1h-1zM841 0h1v1h-1zM880 0h1v1h-1zM937.5 0h1v1h-1zM965.5 0h2v1h-2zM997 0h2v1h-2zM1013 0h1v1h-1zM1021 0h1v1h-1zM1025 0h2v1h-2zM1037 0h1v1h-1zM1038 0h2v1h-2zM1043 0h1v1h-1zM1073.3 0h2v1h-2z"/><path fill="#eff6fc" d="M161 0h1v1h-1zM175 0h1v1h-1zM223 0h1v1h-1zM233 0h1v1h-1zM251 0h1v1h-1zM262 0h1v1h-1zM266 0h2v1h-2zM343 0h1v1h-1zM359 0h1v1h-1zM362 0h1v1h-1zM365 0h1v1h-1zM367 0h1v1h-1zM397 0h2v1h-2zM399 0h2v1h-2zM405 0h2v1h-2zM421 0h1v1h-1zM438 0h1v1h-1zM478 0h1v1h-1zM517 0h1v1h-1zM638.5 0h1v1h-1zM658.5 0h2v1h-2zM663.5 0h2v1h-2zM688 0h2v1h-2zM695 0h1v1h-1zM698 0h2v1h-2zM702 0h1v1h-1zM724 0h2v1h-2zM734 0h1v1h-1zM746 0h1v1h-1zM752 0h1v1h-1zM756 0h2v1h-2zM758 0h1v1h-1zM759 0h1v1h-1zM783.4 0h1v1h-1zM816 0h2v1h-2zM849 0h2v1h-2zM855 0h1v1h-1zM858 0h2v1h-2zM877 0h1v1h-1zM905 0h1v1h-1zM911 0h1v1h-1zM916 0h1v1h-1zM956.5 0h1v1h-1zM972.5 0h1v1h-1zM977.5 0h2v1h-2zM1006 0h2v1h-2zM1029 0h2v1h-2zM1044 0h2v1h-2zM1048 0h1v1h-1zM1071.3 0h1v1h-1zM1085.3 0h2v1h-2z"/><path fill="#e6f0fa" d="M928.5 0h2v1h-2z"/></g><g transform="translate(0 411.714) scale(1 14.2381)"><path fill="#eaf3fb" d="M163 0h1v1h-1zM177 0h1v1h-1zM184 0h1v1h-1zM190 0h1v1h-1zM266 0h1v1h-1zM292 0h2v1h-2zM349 0h1v1h-1zM637.5 0h2v1h-2zM640.5 0h2v1h-2zM646.5 0h2v1h-2zM712 0h2v1h-2zM721 0h1v1h-1zM722 0h1v1h-1zM810 0h1v1h-1zM816 0h2v1h-2zM825 0h1v1h-1zM893 0h1v1h-1zM909 0h1v1h-1zM938.5 0h2v1h-2zM964.5 0h1v1h-1zM966.5 0h2v1h-2zM990 0h1v1h-1zM1026 0h1v1h-1zM1030 0h2v1h-2zM1034 0h2v1h-2zM1067.3 0h1v1h-1zM1070.3 0h2v1h-2zM1086.3 0h1v1h-1zM1090.3 0h1v1h-1z"/><path fill="#eff6fc" d="M238 0h1v1h-1zM259 0h2v1h-2zM269 0h2v1h-2zM305 0h1v1h-1zM307 0h1v1h-1zM319 0h1v1h-1zM337 0h2v1h-2zM356 0h2v1h-2zM361 0h2v1h-2zM385 0h1v1h-1zM399 0h2v1h-2zM408 0h1v1h-1zM410 0h1v1h-1zM422 0h1v1h-1zM476 0h1v1h-1zM524 0h1v1h-1zM532 0h1v1h-1zM561 0h2v1h-2zM620.5 0h2v1h-2zM655.5 0h1v1h-1zM657.5 0h1v1h-1zM660.5 0h1v1h-1zM695 0h2v1h-2zM697 0h2v1h-2zM727 0h1v1h-1zM728 0h2v1h-2zM744 0h1v1h-1zM747 0h1v1h-1zM766 0h0.4v1h-0.4zM784.4 0h1v1h-1zM790.4 0h2v1h-2zM794.4 0h1v1h-1zM795.4 0h2v1h-2zM820 0h1v1h-1zM830 0h1v1h-1zM838 0h1v1h-1zM890 0h1v1h-1zM916 0h1v1h-1zM924.5 0h1v1h-1zM940.5 0h2v1h-2zM960.5 0h2v1h-2zM985 0h1v1h-1zM1003 0h2v1h-2zM1022 0h2v1h-2zM1028 0h1v1h-1zM1054 0h2v1h-2zM1078.3 0h1v1h-1zM1079.3 0h2v1h-2z"/><path fill="#e6f0fa" d="M772.4 0h2v1h-2zM837 0h1v1h-1zM838 0h1v1h-1z"/><path fill="#bfd8ed" d="M909 0h1v1h-1z"/><path fill="#b9d5ea" d="M910 0h1v1h-1zM911 0h0.5v1h-0.5z"/><path fill="#dae8f6" d="M834 0h2v1h-2z"/><path fill="#e2eef8" d="M836 0h1v1h-1z"/></g><g transform="translate(0 425.952) scale(1 14.2381)"><path fill="#eff6fc" d="M157 0h2v1h-2zM159 0h1v1h-1zM170 0h1v1h-1zM208 0h2v1h-2zM224 0h1v1h-1zM225 0h1v1h-1zM254 0h1v1h-1zM273 0h1v1h-1zM280 0h1v1h-1zM291 0h2v1h-2zM328 0h1v1h-1zM334 0h2v1h-2zM342 0h2v1h-2zM345 0h1v1h-1zM361 0h1v1h-1zM368 0h1v1h-1zM376 0h1v1h-1zM419 0h1v1h-1zM427 0h1v1h-1zM428 0h1v1h-1zM439 0h2v1h-2zM442 0h2v1h-2zM494 0h2v1h-2zM560 0h2v1h-2zM580 0h1v1h-1zM625.5 0h2v1h-2zM706 0h1v1h-1zM717 0h2v1h-2zM721 0h2v1h-2zM735 0h1v1h-1zM742 0h2v1h-2zM758 0h1v1h-1zM764 0h2v1h-2zM774.4 0h1v1h-1zM776.4 0h1v1h-1zM783.4 0h1v1h-1zM789.4 0h2v1h-2zM821 0h1v1h-1zM827 0h2v1h-2zM829 0h2v1h-2zM837 0h2v1h-2zM911 0h1v1h-1zM912 0h2v1h-2zM918 0h2v1h-2zM922.5 0h1v1h-1zM957.5 0h1v1h-1zM963.5 0h2v1h-2zM979.5 0h2v1h-2zM990 0h1v1h-1zM999 0h2v1h-2zM1004 0h1v1h-1zM1021 0h2v1h-2zM1048 0h1v1h-1zM1055 0h1v1h-1zM1079.3 0h1v1h-1z"/><path fill="#eaf3fb" d="M178 0h2v1h-2zM351 0h2v1h-2zM420 0h1v1h-1zM629.5 0h1v1h-1zM630.5 0h1v1h-1zM631.5 0h2v1h-2zM639.5 0h1v1h-1zM641.5 0h1v1h-1zM646.5 0h1v1h-1zM649.5 0h2v1h-2zM678 0h2v1h-2zM685 0h2v1h-2zM701 0h2v1h-2zM714 0h1v1h-1zM715 0h1v1h-1zM731 0h1v1h-1zM739 0h1v1h-1zM750 0h1v1h-1zM766 0h0.4v1h-0.4zM777.4 0h1v1h-1zM782.4 0h1v1h-1zM815 0h2v1h-2zM819 0h1v1h-1zM825 0h2v1h-2zM835 0h2v1h-2zM877 0h1v1h-1zM880 0h2v1h-2zM920.5 0h1v1h-1zM931.5 0h1v1h-1zM943.5 0h1v1h-1zM973.5 0h2v1h-2zM975.5 0h1v1h-1zM986 0h2v1h-2zM988 0h2v1h-2zM1005 0h2v1h-2zM1011 0h1v1h-1zM1029 0h2v1h-2zM1037 0h1v1h-1zM1049 0h2v1h-2zM1058.3 0h2v1h-2zM841.5 0h2v1h-2zM844.5 0h0.5v1h-0.5z"/><path fill="#e6f0fa" d="M839.5 0h2v1h-2zM843.5 0h1v1h-1z"/></g><g transform="translate(0 440.190) scale(1 14.2381)"><path fill="#eff6fc" d="M158 0h1v1h-1zM175 0h1v1h-1zM183 0h2v1h-2zM186 0h2v1h-2zM208 0h2v1h-2zM211 0h1v1h-1zM215 0h1v1h-1zM225 0h1v1h-1zM259 0h1v1h-1zM264 0h1v1h-1zM267 0h2v1h-2zM279 0h2v1h-2zM295 0h1v1h-1zM308 0h1v1h-1zM315 0h1v1h-1zM316 0h1v1h-1zM336 0h2v1h-2zM350 0h2v1h-2zM355 0h1v1h-1zM356 0h1v1h-1zM357 0h1v1h-1zM361 0h1v1h-1zM374 0h1v1h-1zM395 0h1v1h-1zM403 0h2v1h-2zM421 0h1v1h-1zM431 0h2v1h-2zM439 0h2v1h-2zM474 0h2v1h-2zM521 0h1v1h-1zM530 0h1v1h-1zM553 0h1v1h-1zM636.5 0h2v1h-2zM651.5 0h2v1h-2zM677 0h1v1h-1zM681 0h2v1h-2zM709 0h2v1h-2zM712 0h2v1h-2zM724 0h1v1h-1zM732 0h1v1h-1zM764 0h1v1h-1zM766 0h0.4v1h-0.4zM822 0h2v1h-2zM828 0h1v1h-1zM832 0h2v1h-2zM849 0h1v1h-1zM854 0h1v1h-1zM867 0h2v1h-2zM880 0h1v1h-1zM883 0h1v1h-1zM910 0h2v1h-2zM918 0h1v1h-1zM978.5 0h1v1h-1zM984.5 0h0.5v1h-0.5zM993 0h2v1h-2zM1004 0h1v1h-1zM1014 0h2v1h-2zM1040 0h2v1h-2zM1047 0h1v1h-1zM1050 0h2v1h-2zM1058.3 0h1v1h-1zM1067.3 0h2v1h-2zM1075.3 0h1v1h-1zM277 0h1v1h-1zM278 0h2v1h-2zM283 0h1v1h-1zM284 0h1v1h-1zM285 0h2v1h-2zM287 0h1v1h-1zM288 0h2v1h-2zM292 0h1v1h-1zM387 0h2v1h-2zM662 0h1v1h-1zM663 0h1v1h-1zM741 0h1v1h-1zM749 0h1v1h-1z"/><path fill="#eaf3fb" d="M294 0h1v1h-1zM319 0h2v1h-2zM385 0h1v1h-1zM607.5 0h2v1h-2zM614.5 0h1v1h-1zM731 0h1v1h-1zM754 0h2v1h-2zM784.4 0h1v1h-1zM790.4 0h1v1h-1zM817 0h1v1h-1zM850 0h1v1h-1zM879 0h1v1h-1zM906 0h2v1h-2zM921.5 0h1v1h-1zM929.5 0h1v1h-1zM936.5 0h1v1h-1zM949.5 0h2v1h-2zM957.5 0h2v1h-2zM959.5 0h1v1h-1zM1013 0h1v1h-1zM1052 0h1v1h-1zM1066.3 0h1v1h-1zM1078.3 0h1v1h-1zM221 0h1v1h-1zM258 0h1v1h-1zM261 0h1v1h-1zM272 0h1v1h-1zM275 0h2v1h-2zM280 0h1v1h-1zM281 0h2v1h-2zM354 0h2v1h-2zM360 0h2v1h-2zM362 0h1v1h-1zM363 0h1v1h-1zM364 0h1v1h-1zM367 0h1v1h-1zM368 0h2v1h-2zM372 0h2v1h-2zM375 0h1v1h-1zM376 0h2v1h-2zM378 0h2v1h-2zM380 0h1v1h-1zM381 0h2v1h-2zM383 0h1v1h-1zM384 0h1v1h-1zM385 0h1v1h-1zM386 0h1v1h-1zM494 0h2v1h-2zM497 0h1v1h-1zM652 0h2v1h-2zM655 0h2v1h-2zM659 0h2v1h-2zM661 0h1v1h-1zM664 0h1v1h-1zM734 0h2v1h-2zM736 0h2v1h-2zM738 0h2v1h-2zM740 0h1v1h-1zM742 0h1v1h-1zM743 0h2v1h-2zM745 0h1v1h-1zM746 0h2v1h-2zM748 0h1v1h-1zM981 0h2v1h-2zM983 0h2v1h-2zM1042 0h1v1h-1zM1046 0h1v1h-1zM1049 0h1v1h-1zM1052 0h1v1h-1zM1068 0h2v1h-2zM1074 0h1v1h-1zM1075 0h1v1h-1zM1080 0h2v1h-2zM1083 0h1v1h-1zM1085 0h2v1h-2zM1087 0h2v1h-2z"/><path fill="#e6f0fa" d="M609.5 0h2v1h-2zM806 0h2v1h-2zM810 0h1v1h-1zM154 0h1v1h-1zM156 0h2v1h-2zM206 0h1v1h-1zM207 0h2v1h-2zM211 0h2v1h-2zM218 0h1v1h-1zM219 0h2v1h-2zM223 0h1v1h-1zM246 0h2v1h-2zM251 0h1v1h-1zM256 0h1v1h-1zM259 0h1v1h-1zM260 0h1v1h-1zM263 0h2v1h-2zM265 0h2v1h-2zM267 0h2v1h-2zM269 0h1v1h-1zM270 0h2v1h-2zM273 0h1v1h-1zM274 0h1v1h-1zM336 0h2v1h-2zM342 0h2v1h-2zM344 0h1v1h-1zM345 0h2v1h-2zM356 0h1v1h-1zM357 0h1v1h-1zM358 0h1v1h-1zM359 0h1v1h-1zM365 0h2v1h-2zM370 0h2v1h-2zM374 0h1v1h-1zM492 0h2v1h-2zM496 0h1v1h-1zM640 0h2v1h-2zM642 0h2v1h-2zM647 0h2v1h-2zM649 0h2v1h-2zM651 0h1v1h-1zM654 0h1v1h-1zM657 0h2v1h-2zM707 0h2v1h-2zM709 0h2v1h-2zM712 0h2v1h-2zM719 0h1v1h-1zM720 0h1v1h-1zM721 0h2v1h-2zM725 0h2v1h-2zM730 0h1v1h-1zM731 0h1v1h-1zM732 0h1v1h-1zM733 0h1v1h-1zM956.5 0h1v1h-1zM959.5 0h1v1h-1zM975 0h1v1h-1zM977 0h1v1h-1zM978 0h1v1h-1zM980 0h1v1h-1zM1027 0h2v1h-2zM1030 0h1v1h-1zM1034 0h1v1h-1zM1035 0h1v1h-1zM1037 0h2v1h-2zM1039 0h2v1h-2zM1047 0h1v1h-1zM1048 0h1v1h-1zM1062 0h2v1h-2zM1070 0h2v1h-2zM1072 0h2v1h-2zM1076 0h2v1h-2zM1078 0h2v1h-2zM1082 0h1v1h-1zM1084 0h1v1h-1z"/><path fill="#e2eef8" d="M155 0h1v1h-1zM185 0h1v1h-1zM186 0h1v1h-1zM205 0h1v1h-1zM209 0h2v1h-2zM213 0h2v1h-2zM215 0h1v1h-1zM216 0h2v1h-2zM222 0h1v1h-1zM234 0h2v1h-2zM238 0h1v1h-1zM242 0h2v1h-2zM244 0h2v1h-2zM248 0h1v1h-1zM252 0h2v1h-2zM254 0h1v1h-1zM255 0h1v1h-1zM257 0h1v1h-1zM262 0h1v1h-1zM305 0h1v1h-1zM317 0h1v1h-1zM318 0h2v1h-2zM320 0h2v1h-2zM322 0h2v1h-2zM324 0h2v1h-2zM326 0h2v1h-2zM332 0h2v1h-2zM334 0h1v1h-1zM335 0h1v1h-1zM338 0h1v1h-1zM339 0h2v1h-2zM341 0h1v1h-1zM347 0h1v1h-1zM348 0h2v1h-2zM350 0h2v1h-2zM352 0h1v1h-1zM353 0h1v1h-1zM481 0h2v1h-2zM486 0h2v1h-2zM488 0h1v1h-1zM489 0h1v1h-1zM490 0h2v1h-2zM610 0h1v1h-1zM615 0h2v1h-2zM628 0h2v1h-2zM632 0h2v1h-2zM635 0h1v1h-1zM636 0h2v1h-2zM638 0h2v1h-2zM644 0h2v1h-2zM646 0h1v1h-1zM703 0h2v1h-2zM715 0h1v1h-1zM716 0h2v1h-2zM718 0h1v1h-1zM723 0h2v1h-2zM727 0h2v1h-2zM729 0h1v1h-1zM879 0h1v1h-1zM943.5 0h2v1h-2zM946.5 0h2v1h-2zM948.5 0h1v1h-1zM949.5 0h0.5v1h-0.5zM957.5 0h2v1h-2zM960.5 0h1.5v1h-1.5zM976 0h1v1h-1zM979 0h1v1h-1zM1015 0h2v1h-2zM1017 0h2v1h-2zM1020 0h2v1h-2zM1025 0h1v1h-1zM1029 0h1v1h-1zM1031 0h1v1h-1zM1036 0h1v1h-1zM1041 0h1v1h-1zM1043 0h2v1h-2zM1045 0h1v1h-1zM1050 0h2v1h-2zM1061 0h1v1h-1zM1064 0h2v1h-2zM1066 0h2v1h-2z"/><path fill="#cee0f2" d="M167 0h1v1h-1zM170 0h2v1h-2zM857 0h1v1h-1zM920.5 0h2v1h-2zM932.5 0h2v1h-2zM934.5 0h2v1h-2z"/><path fill="#dae8f6" d="M168 0h2v1h-2zM182 0h1v1h-1zM189 0h1v1h-1zM190 0h1v1h-1zM192 0h2v1h-2zM196 0h1v1h-1zM197 0h1v1h-1zM198 0h2v1h-2zM232 0h1v1h-1zM233 0h1v1h-1zM236 0h2v1h-2zM306 0h1v1h-1zM307 0h1v1h-1zM313 0h2v1h-2zM315 0h1v1h-1zM316 0h1v1h-1zM451 0h1v1h-1zM456 0h1v1h-1zM457 0h2v1h-2zM468 0h1v1h-1zM472 0h2v1h-2zM475 0h2v1h-2zM477 0h2v1h-2zM611 0h2v1h-2zM618 0h1v1h-1zM621 0h1v1h-1zM672 0h1v1h-1zM678 0h2v1h-2zM682 0h1v1h-1zM687 0h1v1h-1zM695 0h2v1h-2zM699 0h2v1h-2zM705 0h2v1h-2zM855 0h2v1h-2zM858 0h1v1h-1zM861 0h1v1h-1zM902 0h1v1h-1zM936.5 0h1v1h-1zM937.5 0h1v1h-1zM941.5 0h1v1h-1zM942.5 0h1v1h-1zM1022 0h1v1h-1z"/><path fill="#d6e6f4" d="M172 0h1v1h-1zM174 0h1v1h-1zM175 0h1v1h-1zM181 0h1v1h-1zM183 0h2v1h-2zM302 0h2v1h-2zM308 0h2v1h-2zM311 0h2v1h-2zM447 0h2v1h-2zM463 0h1v1h-1zM471 0h1v1h-1zM609 0h1v1h-1zM613 0h2v1h-2zM674 0h2v1h-2zM676 0h1v1h-1zM680 0h2v1h-2zM684 0h2v1h-2zM686 0h1v1h-1zM689 0h1v1h-1zM692 0h1v1h-1zM697 0h2v1h-2zM859 0h1v1h-1zM927.5 0h1v1h-1zM930.5 0h2v1h-2zM938.5 0h1v1h-1z"/><path fill="#d2e3f3" d="M173 0h1v1h-1zM176 0h2v1h-2zM446 0h1v1h-1zM449 0h2v1h-2zM452 0h2v1h-2zM454 0h2v1h-2zM461 0h2v1h-2zM464 0h2v1h-2zM469 0h2v1h-2zM673 0h1v1h-1zM677 0h1v1h-1zM924.5 0h1v1h-1zM925.5 0h2v1h-2zM929.5 0h1v1h-1zM939.5 0h2v1h-2z"/><path fill="#deebf7" d="M178 0h1v1h-1zM179 0h2v1h-2zM187 0h2v1h-2zM191 0h1v1h-1zM194 0h1v1h-1zM195 0h1v1h-1zM200 0h2v1h-2zM202 0h2v1h-2zM204 0h1v1h-1zM231 0h1v1h-1zM239 0h2v1h-2zM241 0h1v1h-1zM249 0h2v1h-2zM301 0h1v1h-1zM304 0h1v1h-1zM310 0h1v1h-1zM328 0h2v1h-2zM330 0h2v1h-2zM459 0h2v1h-2zM466 0h2v1h-2zM474 0h1v1h-1zM479 0h2v1h-2zM483 0h1v1h-1zM484 0h1v1h-1zM485 0h1v1h-1zM607 0h2v1h-2zM617 0h1v1h-1zM619 0h2v1h-2zM622 0h1v1h-1zM623 0h1v1h-1zM624 0h1v1h-1zM625 0h1v1h-1zM626 0h2v1h-2zM630 0h2v1h-2zM634 0h1v1h-1zM683 0h1v1h-1zM688 0h1v1h-1zM690 0h2v1h-2zM693 0h2v1h-2zM701 0h2v1h-2zM711 0h1v1h-1zM714 0h1v1h-1zM860 0h1v1h-1zM869 0h2v1h-2zM878 0h1v1h-1zM900 0h2v1h-2zM945.5 0h1v1h-1zM1013 0h1v1h-1zM1014 0h1v1h-1zM1019 0h1v1h-1zM1023 0h2v1h-2zM1026 0h1v1h-1zM1032 0h2v1h-2zM1060 0h1v1h-1z"/><path fill="#f3f8fe" d="M290 0h2v1h-2z"/><path fill="#c6dbef" d="M853 0h2v1h-2z"/><path fill="#cadef0" d="M922.5 0h2v1h-2zM928.5 0h1v1h-1z"/></g><g transform="translate(0 454.429) scale(1 14.2381)"><path fill="#eff6fc" d="M170 0h2v1h-2zM174 0h2v1h-2zM192 0h1v1h-1zM219 0h1v1h-1zM235 0h1v1h-1zM257 0h1v1h-1zM279 0h2v1h-2zM281 0h1v1h-1zM296 0h1v1h-1zM308 0h2v1h-2zM319 0h2v1h-2zM325 0h2v1h-2zM353 0h1v1h-1zM356 0h2v1h-2zM358 0h1v1h-1zM359 0h1v1h-1zM369 0h2v1h-2zM381 0h1v1h-1zM397 0h2v1h-2zM400 0h1v1h-1zM403 0h1v1h-1zM404 0h2v1h-2zM407 0h1v1h-1zM415 0h1v1h-1zM422 0h1v1h-1zM425 0h1v1h-1zM432 0h2v1h-2zM439 0h2v1h-2zM442 0h1v1h-1zM624.5 0h2v1h-2zM646.5 0h1v1h-1zM658.5 0h1v1h-1zM664.5 0h1v1h-1zM716 0h2v1h-2zM738 0h1v1h-1zM812 0h1v1h-1zM827 0h1v1h-1zM832 0h1v1h-1zM845 0h2v1h-2zM847 0h1v1h-1zM900 0h1v1h-1zM920.5 0h1v1h-1zM961.5 0h1v1h-1zM965.5 0h2v1h-2zM1007 0h2v1h-2zM1021 0h2v1h-2zM1039 0h1v1h-1zM1047 0h1v1h-1zM1050 0h1v1h-1zM1071.3 0h1v1h-1zM1087.3 0h2v1h-2zM542 0h2v1h-2zM544 0h2v1h-2zM546 0h1v1h-1zM547 0h1v1h-1zM548 0h1v1h-1zM549 0h1v1h-1z"/><path fill="#eaf3fb" d="M187 0h1v1h-1zM241 0h2v1h-2zM286 0h1v1h-1zM622.5 0h2v1h-2zM640.5 0h1v1h-1zM654.5 0h1v1h-1zM681 0h1v1h-1zM692 0h1v1h-1zM701 0h2v1h-2zM704 0h1v1h-1zM745 0h1v1h-1zM747 0h2v1h-2zM779.4 0h1v1h-1zM808 0h1v1h-1zM815 0h1v1h-1zM817 0h1v1h-1zM828 0h2v1h-2zM836 0h1v1h-1zM837 0h2v1h-2zM843 0h1v1h-1zM873 0h2v1h-2zM878 0h1v1h-1zM905 0h2v1h-2zM909 0h1v1h-1zM926.5 0h1v1h-1zM927.5 0h2v1h-2zM932.5 0h2v1h-2zM941.5 0h1v1h-1zM943.5 0h1v1h-1zM944.5 0h2v1h-2zM959.5 0h2v1h-2zM967.5 0h1v1h-1zM976.5 0h1v1h-1zM993 0h1v1h-1zM1004 0h1v1h-1zM1013 0h2v1h-2zM1025 0h2v1h-2zM1035 0h1v1h-1zM1038 0h1v1h-1zM1061.3 0h1v1h-1zM1066.3 0h1v1h-1zM530 0h1v1h-1zM531 0h1v1h-1zM532 0h2v1h-2zM534 0h2v1h-2zM536 0h2v1h-2zM538 0h2v1h-2zM540 0h2v1h-2z"/><path fill="#e6f0fa" d="M809 0h1v1h-1zM495 0h1v1h-1zM509 0h2v1h-2zM516 0h1v1h-1zM520 0h2v1h-2zM523 0h2v1h-2zM528 0h2v1h-2z"/><path fill="#d2e3f3" d="M446 0h1v1h-1zM447 0h2v1h-2zM450 0h2v1h-2zM452 0h1v1h-1zM458 0h1v1h-1zM459 0h1v1h-1zM475 0h2v1h-2z"/><path fill="#d6e6f4" d="M449 0h1v1h-1zM455 0h2v1h-2zM462 0h2v1h-2zM464 0h2v1h-2zM466 0h2v1h-2zM477 0h1v1h-1zM478 0h1v1h-1z"/><path fill="#cee0f2" d="M453 0h2v1h-2z"/><path fill="#deebf7" d="M457 0h1v1h-1zM461 0h1v1h-1zM468 0h2v1h-2zM479 0h1v1h-1zM482 0h1v1h-1zM488 0h1v1h-1zM489 0h1v1h-1zM493 0h1v1h-1zM496 0h2v1h-2zM500 0h1v1h-1zM502 0h1v1h-1zM503 0h2v1h-2zM505 0h1v1h-1zM506 0h1v1h-1zM507 0h1v1h-1zM508 0h1v1h-1zM512 0h2v1h-2z"/><path fill="#dae8f6" d="M460 0h1v1h-1zM470 0h2v1h-2zM472 0h1v1h-1zM473 0h1v1h-1zM474 0h1v1h-1zM483 0h2v1h-2zM486 0h1v1h-1zM487 0h1v1h-1zM490 0h1v1h-1zM498 0h2v1h-2zM501 0h1v1h-1z"/><path fill="#e2eef8" d="M480 0h2v1h-2zM485 0h1v1h-1zM491 0h2v1h-2zM494 0h1v1h-1zM511 0h1v1h-1zM514 0h2v1h-2zM517 0h2v1h-2zM519 0h1v1h-1zM522 0h1v1h-1zM525 0h1v1h-1zM526 0h2v1h-2z"/><path fill="#56a0ce" d="M435.5 0h1.5v1h-1.5z"/></g><g transform="translate(0 468.667) scale(1 14.2381)"><path fill="#eff6fc" d="M158 0h1v1h-1zM166 0h2v1h-2zM190 0h1v1h-1zM193 0h2v1h-2zM201 0h1v1h-1zM205 0h1v1h-1zM245 0h1v1h-1zM278 0h2v1h-2zM290 0h1v1h-1zM292 0h1v1h-1zM302 0h2v1h-2zM304 0h1v1h-1zM305 0h1v1h-1zM316 0h2v1h-2zM330 0h1v1h-1zM346 0h1v1h-1zM370 0h2v1h-2zM389 0h1v1h-1zM393 0h2v1h-2zM401 0h1v1h-1zM405 0h2v1h-2zM416 0h1v1h-1zM431 0h2v1h-2zM437 0h1v1h-1zM444 0h1v1h-1zM445 0h1v1h-1zM488 0h2v1h-2zM503 0h1v1h-1zM505 0h1v1h-1zM550 0h1v1h-1zM599 0h1v1h-1zM602 0h1v1h-1zM625.5 0h1v1h-1zM635.5 0h1v1h-1zM662.5 0h1v1h-1zM689 0h1v1h-1zM716 0h1v1h-1zM731 0h2v1h-2zM744 0h1v1h-1zM762 0h1v1h-1zM795.4 0h2v1h-2zM805 0h1v1h-1zM835 0h2v1h-2zM842 0h2v1h-2zM904 0h1v1h-1zM905 0h2v1h-2zM927.5 0h2v1h-2zM958.5 0h2v1h-2zM969.5 0h2v1h-2zM971.5 0h2v1h-2zM993 0h1v1h-1zM1032 0h2v1h-2zM1069.3 0h2v1h-2z"/><path fill="#eaf3fb" d="M165 0h1v1h-1zM172 0h1v1h-1zM349 0h1v1h-1zM621.5 0h1v1h-1zM622.5 0h1v1h-1zM628.5 0h2v1h-2zM671.5 0h0.5v1h-0.5zM692 0h1v1h-1zM696 0h2v1h-2zM722 0h1v1h-1zM733 0h2v1h-2zM742 0h1v1h-1zM774.4 0h1v1h-1zM790.4 0h1v1h-1zM793.4 0h2v1h-2zM812 0h1v1h-1zM848 0h2v1h-2zM858 0h1v1h-1zM896 0h2v1h-2zM900 0h2v1h-2zM930.5 0h1v1h-1zM990 0h2v1h-2zM994 0h2v1h-2zM1003 0h2v1h-2zM1005 0h1v1h-1zM1020 0h1v1h-1zM1062.3 0h2v1h-2zM1066.3 0h2v1h-2zM1073.3 0h1v1h-1zM1080.3 0h2v1h-2z"/></g><g transform="translate(0 482.905) scale(1 14.2381)"><path fill="#eaf3fb" d="M164 0h2v1h-2zM244 0h2v1h-2zM260 0h1v1h-1zM324 0h1v1h-1zM336 0h1v1h-1zM638.5 0h1v1h-1zM699 0h2v1h-2zM713 0h1v1h-1zM721 0h1v1h-1zM744 0h2v1h-2zM759 0h1v1h-1zM771.4 0h1v1h-1zM775.4 0h2v1h-2zM804 0h1v1h-1zM849 0h1v1h-1zM859 0h2v1h-2zM881 0h1v1h-1zM920.5 0h2v1h-2zM924.5 0h2v1h-2zM985 0h1v1h-1zM993 0h2v1h-2zM998 0h1v1h-1zM1002 0h2v1h-2zM1013 0h2v1h-2zM1035 0h1v1h-1zM1065.3 0h1v1h-1zM1066.3 0h1v1h-1zM1074.3 0h2v1h-2zM1082.3 0h1v1h-1zM1091.3 0h0.5v1h-0.5z"/><path fill="#eff6fc" d="M183 0h2v1h-2zM199 0h1v1h-1zM202 0h2v1h-2zM208 0h2v1h-2zM215 0h2v1h-2zM217 0h1v1h-1zM222 0h2v1h-2zM230 0h2v1h-2zM232 0h2v1h-2zM237 0h2v1h-2zM247 0h2v1h-2zM261 0h1v1h-1zM269 0h1v1h-1zM270 0h1v1h-1zM291 0h2v1h-2zM313 0h2v1h-2zM334 0h2v1h-2zM337 0h1v1h-1zM338 0h2v1h-2zM354 0h2v1h-2zM359 0h1v1h-1zM371 0h2v1h-2zM381 0h1v1h-1zM385 0h1v1h-1zM412 0h2v1h-2zM416 0h1v1h-1zM422 0h1v1h-1zM444 0h2v1h-2zM524 0h1v1h-1zM575 0h1v1h-1zM614.5 0h2v1h-2zM637.5 0h1v1h-1zM639.5 0h2v1h-2zM650.5 0h2v1h-2zM675 0h1v1h-1zM742 0h1v1h-1zM747 0h2v1h-2zM751 0h1v1h-1zM755 0h1v1h-1zM760 0h2v1h-2zM778.4 0h2v1h-2zM780.4 0h1v1h-1zM786.4 0h2v1h-2zM797.4 0h1v1h-1zM803 0h1v1h-1zM817 0h1v1h-1zM822 0h2v1h-2zM829 0h2v1h-2zM870 0h2v1h-2zM878 0h1v1h-1zM913 0h2v1h-2zM919 0h1.5v1h-1.5zM957.5 0h1v1h-1zM969.5 0h1v1h-1zM1011 0h1v1h-1zM1012 0h1v1h-1zM1046 0h2v1h-2zM1052 0h1v1h-1zM1056 0h1.3v1h-1.3zM1072.3 0h1v1h-1zM1077.3 0h1v1h-1z"/><path fill="#e6f0fa" d="M811 0h2v1h-2z"/></g><g transform="translate(0 497.143) scale(1 14.2381)"><path fill="#eaf3fb" d="M159 0h2v1h-2zM167 0h2v1h-2zM202 0h1v1h-1zM210 0h1v1h-1zM238 0h1v1h-1zM241 0h2v1h-2zM254 0h1v1h-1zM260 0h2v1h-2zM269 0h2v1h-2zM297 0h1v1h-1zM330 0h2v1h-2zM360 0h2v1h-2zM392 0h2v1h-2zM613.5 0h2v1h-2zM620.5 0h1v1h-1zM656.5 0h1v1h-1zM672 0h1v1h-1zM679 0h2v1h-2zM701 0h2v1h-2zM718 0h2v1h-2zM729 0h1v1h-1zM737 0h1v1h-1zM739 0h1v1h-1zM742 0h1v1h-1zM776.4 0h2v1h-2zM792.4 0h2v1h-2zM807 0h2v1h-2zM851 0h2v1h-2zM872 0h2v1h-2zM888 0h1v1h-1zM908 0h1v1h-1zM924.5 0h1v1h-1zM985 0h1v1h-1zM993 0h1v1h-1zM1011 0h2v1h-2zM1013 0h1v1h-1zM1020 0h2v1h-2zM1026 0h1v1h-1zM1063.3 0h1v1h-1zM1066.3 0h1v1h-1zM1067.3 0h1v1h-1z"/><path fill="#eff6fc" d="M163 0h2v1h-2zM189 0h1v1h-1zM203 0h1v1h-1zM215 0h2v1h-2zM220 0h1v1h-1zM223 0h2v1h-2zM231 0h2v1h-2zM236 0h2v1h-2zM257 0h1v1h-1zM271 0h1v1h-1zM273 0h1v1h-1zM293 0h2v1h-2zM307 0h1v1h-1zM326 0h1v1h-1zM337 0h1v1h-1zM338 0h1v1h-1zM342 0h1v1h-1zM345 0h2v1h-2zM349 0h2v1h-2zM362 0h1v1h-1zM369 0h2v1h-2zM394 0h2v1h-2zM401 0h1v1h-1zM408 0h1v1h-1zM419 0h2v1h-2zM430 0h1v1h-1zM438 0h1v1h-1zM444 0h1v1h-1zM518 0h1v1h-1zM571 0h1v1h-1zM596 0h2v1h-2zM632.5 0h1v1h-1zM666.5 0h1v1h-1zM667.5 0h2v1h-2zM755 0h1v1h-1zM762 0h1v1h-1zM765 0h1v1h-1zM766 0h0.4v1h-0.4zM802 0h2v1h-2zM828 0h2v1h-2zM837 0h1v1h-1zM846 0h2v1h-2zM862 0h1v1h-1zM882 0h1v1h-1zM915 0h2v1h-2zM966.5 0h1v1h-1zM979.5 0h1v1h-1zM1016 0h2v1h-2zM1035 0h1v1h-1zM1054 0h2v1h-2zM1080.3 0h2v1h-2z"/><path fill="#e6f0fa" d="M804 0h2v1h-2zM988 0h1v1h-1z"/><path fill="#dae8f6" d="M831 0h1v1h-1zM832 0h1v1h-1z"/><path fill="#d6e6f4" d="M833 0h2v1h-2zM837 0h2v1h-2z"/><path fill="#d2e3f3" d="M835 0h2v1h-2z"/><path fill="#deebf7" d="M839 0h0.5v1h-0.5z"/></g><g transform="translate(0 511.381) scale(1 14.2381)"><path fill="#eff6fc" d="M163 0h1v1h-1zM194 0h2v1h-2zM211 0h1v1h-1zM219 0h2v1h-2zM229 0h2v1h-2zM241 0h1v1h-1zM268 0h1v1h-1zM287 0h2v1h-2zM316 0h1v1h-1zM327 0h2v1h-2zM339 0h2v1h-2zM344 0h2v1h-2zM348 0h2v1h-2zM367 0h2v1h-2zM379 0h2v1h-2zM381 0h2v1h-2zM383 0h1v1h-1zM385 0h2v1h-2zM391 0h2v1h-2zM397 0h2v1h-2zM401 0h1v1h-1zM429 0h1v1h-1zM437 0h2v1h-2zM475 0h1v1h-1zM492 0h2v1h-2zM542 0h1v1h-1zM584 0h1v1h-1zM594 0h2v1h-2zM636.5 0h1v1h-1zM650.5 0h1v1h-1zM667.5 0h1v1h-1zM668.5 0h1v1h-1zM676 0h2v1h-2zM701 0h1v1h-1zM740 0h2v1h-2zM754 0h1v1h-1zM766 0h0.4v1h-0.4zM774.4 0h1v1h-1zM779.4 0h2v1h-2zM781.4 0h1v1h-1zM798.4 0h0.6v1h-0.6zM811 0h1v1h-1zM816 0h2v1h-2zM831 0h1v1h-1zM838 0h1v1h-1zM840 0h2v1h-2zM862 0h2v1h-2zM885 0h2v1h-2zM904 0h1v1h-1zM914 0h2v1h-2zM933.5 0h2v1h-2zM963.5 0h1v1h-1zM967.5 0h1v1h-1zM969.5 0h1v1h-1zM992 0h1v1h-1zM1006 0h1v1h-1zM1008 0h1v1h-1zM1013 0h2v1h-2zM1016 0h2v1h-2zM1038 0h2v1h-2zM1051 0h1v1h-1zM1078.3 0h1v1h-1z"/><path fill="#eaf3fb" d="M218 0h1v1h-1zM225 0h2v1h-2zM228 0h1v1h-1zM231 0h1v1h-1zM237 0h1v1h-1zM258 0h1v1h-1zM260 0h1v1h-1zM270 0h1v1h-1zM343 0h1v1h-1zM356 0h1v1h-1zM365 0h2v1h-2zM420 0h1v1h-1zM609.5 0h2v1h-2zM611.5 0h2v1h-2zM660.5 0h2v1h-2zM663.5 0h1v1h-1zM665.5 0h1v1h-1zM711 0h1v1h-1zM712 0h1v1h-1zM738 0h1v1h-1zM746 0h1v1h-1zM763 0h2v1h-2zM771.4 0h2v1h-2zM792.4 0h1v1h-1zM799 0h1v1h-1zM807 0h2v1h-2zM825 0h2v1h-2zM830 0h1v1h-1zM832 0h2v1h-2zM843 0h1v1h-1zM867 0h1v1h-1zM973.5 0h2v1h-2zM987 0h2v1h-2zM998 0h2v1h-2zM1022 0h1v1h-1zM1047 0h2v1h-2zM1054 0h1v1h-1zM1064.3 0h2v1h-2zM1082.3 0h2v1h-2z"/><path fill="#e6f0fa" d="M689 0h1v1h-1zM805 0h2v1h-2z"/></g><g transform="translate(0 525.619) scale(1 14.2381)"><path fill="#eff6fc" d="M158 0h1v1h-1zM179 0h2v1h-2zM201 0h2v1h-2zM235 0h2v1h-2zM255 0h2v1h-2zM262 0h2v1h-2zM264 0h1v1h-1zM265 0h2v1h-2zM291 0h1v1h-1zM303 0h1v1h-1zM307 0h2v1h-2zM311 0h1v1h-1zM319 0h1v1h-1zM320 0h2v1h-2zM348 0h2v1h-2zM352 0h2v1h-2zM360 0h1v1h-1zM371 0h1v1h-1zM376 0h1v1h-1zM414 0h1v1h-1zM419 0h1v1h-1zM433 0h1v1h-1zM493 0h2v1h-2zM568 0h1v1h-1zM634.5 0h2v1h-2zM639.5 0h1v1h-1zM651.5 0h2v1h-2zM662.5 0h2v1h-2zM666.5 0h2v1h-2zM760 0h1v1h-1zM832 0h2v1h-2zM835 0h1v1h-1zM843 0h1v1h-1zM861 0h1v1h-1zM864 0h1v1h-1zM874 0h1v1h-1zM898 0h2v1h-2zM914 0h2v1h-2zM952.5 0h1v1h-1zM1037 0h1v1h-1zM1040 0h1v1h-1zM1049 0h2v1h-2zM1054 0h2v1h-2zM1071.3 0h1v1h-1z"/><path fill="#eaf3fb" d="M190 0h2v1h-2zM203 0h1v1h-1zM208 0h1v1h-1zM227 0h2v1h-2zM245 0h1v1h-1zM273 0h2v1h-2zM285 0h1v1h-1zM630.5 0h1v1h-1zM641.5 0h1v1h-1zM676 0h2v1h-2zM701 0h1v1h-1zM709 0h1v1h-1zM711 0h1v1h-1zM724 0h1v1h-1zM728 0h1v1h-1zM736 0h1v1h-1zM745 0h1v1h-1zM761 0h1v1h-1zM796.4 0h2v1h-2zM798.4 0h0.6v1h-0.6zM815 0h2v1h-2zM817 0h1v1h-1zM823 0h1v1h-1zM825 0h1v1h-1zM831 0h1v1h-1zM860 0h1v1h-1zM882 0h2v1h-2zM884 0h2v1h-2zM911 0h2v1h-2zM945.5 0h1v1h-1zM946.5 0h2v1h-2zM959.5 0h1v1h-1zM1020 0h1v1h-1zM1051 0h1v1h-1zM1057 0h0.3v1h-0.3z"/><path fill="#e6f0fa" d="M608.5 0h1v1h-1zM678 0h2v1h-2zM799 0h1v1h-1zM915 0h1v1h-1z"/><path fill="#deebf7" d="M914 0h1v1h-1zM916 0h1v1h-1z"/><path fill="#e2eef8" d="M917 0h0.7v1h-0.7z"/></g><g transform="translate(0 539.857) scale(1 14.2381)"><path fill="#eff6fc" d="M159 0h2v1h-2zM182 0h1v1h-1zM183 0h1v1h-1zM205 0h1v1h-1zM225 0h1v1h-1zM231 0h1v1h-1zM235 0h1v1h-1zM246 0h1v1h-1zM247 0h2v1h-2zM249 0h2v1h-2zM293 0h1v1h-1zM308 0h1v1h-1zM333 0h1v1h-1zM351 0h1v1h-1zM360 0h2v1h-2zM363 0h1v1h-1zM370 0h2v1h-2zM417 0h2v1h-2zM457 0h2v1h-2zM493 0h1v1h-1zM518 0h1v1h-1zM583 0h1v1h-1zM611.5 0h2v1h-2zM649.5 0h2v1h-2zM669.5 0h1v1h-1zM676 0h2v1h-2zM681 0h1v1h-1zM711 0h1v1h-1zM724 0h1v1h-1zM727 0h1v1h-1zM736 0h2v1h-2zM745 0h1v1h-1zM755 0h1v1h-1zM777.4 0h1v1h-1zM784.4 0h1v1h-1zM814 0h1v1h-1zM848 0h2v1h-2zM861 0h1v1h-1zM864 0h2v1h-2zM888 0h2v1h-2zM976.5 0h1v1h-1zM1000 0h2v1h-2zM1031 0h2v1h-2zM1082.3 0h1v1h-1zM1085.3 0h1v1h-1z"/><path fill="#eaf3fb" d="M193 0h1v1h-1zM212 0h2v1h-2zM382 0h2v1h-2zM627.5 0h1v1h-1zM668.5 0h1v1h-1zM682 0h1v1h-1zM697 0h1v1h-1zM708 0h1v1h-1zM754 0h1v1h-1zM765 0h1v1h-1zM766.4 0h2v1h-2zM792.4 0h1v1h-1zM793.4 0h1v1h-1zM794.4 0h1v1h-1zM803 0h1v1h-1zM835 0h2v1h-2zM846 0h1v1h-1zM860 0h1v1h-1zM870 0h2v1h-2zM951.5 0h1v1h-1zM960.5 0h2v1h-2zM1025 0h2v1h-2zM1066.3 0h2v1h-2zM976.5 0h2v1h-2zM978.5 0h2v1h-2zM980.5 0h2v1h-2zM982.5 0h0.5v1h-0.5z"/><path fill="#e6f0fa" d="M674 0h1v1h-1zM974.5 0h2v1h-2z"/><path fill="#64a9d3" d="M956.5 0h2v1h-2z"/><path fill="#abd0e6" d="M958.5 0h2v1h-2z"/><path fill="#96c5df" d="M960.5 0h2v1h-2z"/><path fill="#b2d2e8" d="M962.5 0h1v1h-1zM968.5 0h1v1h-1z"/><path fill="#bfd8ed" d="M963.5 0h1v1h-1zM964.5 0h1v1h-1zM967.5 0h1v1h-1z"/><path fill="#a5cde3" d="M965.5 0h2v1h-2z"/><path fill="#cee0f2" d="M969.5 0h0.5v1h-0.5z"/></g><g transform="translate(0 554.095) scale(1 14.2381)"><path fill="#eaf3fb" d="M157 0h1v1h-1zM161 0h1v1h-1zM186 0h1v1h-1zM208 0h2v1h-2zM250 0h1v1h-1zM263 0h2v1h-2zM290 0h2v1h-2zM310 0h1v1h-1zM618.5 0h1v1h-1zM649.5 0h1v1h-1zM672 0h1v1h-1zM682 0h2v1h-2zM746 0h1v1h-1zM767.4 0h1v1h-1zM774.4 0h2v1h-2zM782.4 0h1v1h-1zM786.4 0h2v1h-2zM809 0h1v1h-1zM823 0h1v1h-1zM898 0h1v1h-1zM905 0h2v1h-2zM922.5 0h2v1h-2zM932.5 0h2v1h-2zM936.5 0h2v1h-2zM938.5 0h1v1h-1zM988 0h1v1h-1zM999 0h2v1h-2zM1033 0h1v1h-1zM943.5 0h1v1h-1zM948.5 0h1v1h-1zM949.5 0h1v1h-1zM951.5 0h1v1h-1zM952.5 0h0.5v1h-0.5z"/><path fill="#eff6fc" d="M174 0h2v1h-2zM185 0h1v1h-1zM234 0h1v1h-1zM238 0h2v1h-2zM271 0h1v1h-1zM275 0h1v1h-1zM286 0h1v1h-1zM348 0h1v1h-1zM352 0h2v1h-2zM385 0h1v1h-1zM408 0h1v1h-1zM414 0h2v1h-2zM428 0h1v1h-1zM456 0h1v1h-1zM536 0h1v1h-1zM643.5 0h1v1h-1zM646.5 0h1v1h-1zM674 0h1v1h-1zM710 0h2v1h-2zM713 0h1v1h-1zM740 0h1v1h-1zM761 0h1v1h-1zM762 0h1v1h-1zM764 0h2v1h-2zM793.4 0h1v1h-1zM798.4 0h0.6v1h-0.6zM799 0h1v1h-1zM826 0h1v1h-1zM829 0h1v1h-1zM840 0h2v1h-2zM850 0h1v1h-1zM892 0h2v1h-2zM913 0h2v1h-2zM917 0h2v1h-2zM943.5 0h1v1h-1zM965.5 0h1v1h-1zM966.5 0h2v1h-2zM970.5 0h1v1h-1zM972.5 0h1v1h-1zM975.5 0h1v1h-1zM981.5 0h2v1h-2zM1002 0h2v1h-2zM1005 0h1v1h-1zM1012 0h1v1h-1zM1030 0h1v1h-1zM1037 0h1v1h-1zM1049 0h2v1h-2zM1054 0h1v1h-1zM1055 0h1v1h-1zM1072.3 0h1v1h-1zM950.5 0h1v1h-1z"/><path fill="#deebf7" d="M920.5 0h1v1h-1zM922.5 0h1v1h-1zM937.5 0h2v1h-2z"/><path fill="#d2e3f3" d="M921.5 0h1v1h-1z"/><path fill="#d6e6f4" d="M923.5 0h2v1h-2z"/><path fill="#e2eef8" d="M925.5 0h1v1h-1zM927.5 0h1v1h-1zM928.5 0h2v1h-2zM930.5 0h2v1h-2zM932.5 0h2v1h-2zM934.5 0h1v1h-1zM940.5 0h1v1h-1zM941.5 0h1v1h-1z"/><path fill="#dae8f6" d="M926.5 0h1v1h-1z"/><path fill="#e6f0fa" d="M935.5 0h2v1h-2zM939.5 0h1v1h-1zM942.5 0h1v1h-1zM944.5 0h2v1h-2zM946.5 0h2v1h-2z"/></g><g transform="translate(0 568.333) scale(1 14.2381)"><path fill="#eaf3fb" d="M156 0h1v1h-1zM203 0h1v1h-1zM230 0h1v1h-1zM234 0h2v1h-2zM253 0h1v1h-1zM293 0h2v1h-2zM349 0h2v1h-2zM621.5 0h2v1h-2zM648.5 0h1v1h-1zM649.5 0h1v1h-1zM650.5 0h2v1h-2zM694 0h1v1h-1zM697 0h1v1h-1zM703 0h1v1h-1zM722 0h1v1h-1zM725 0h1v1h-1zM728 0h2v1h-2zM750 0h1v1h-1zM769.4 0h2v1h-2zM772.4 0h1v1h-1zM773.4 0h1v1h-1zM813 0h2v1h-2zM841 0h2v1h-2zM875 0h2v1h-2zM879 0h1v1h-1zM891 0h1v1h-1zM894 0h1v1h-1zM911 0h1v1h-1zM928.5 0h2v1h-2zM930.5 0h1v1h-1zM931.5 0h1v1h-1zM932.5 0h2v1h-2zM958.5 0h1v1h-1zM1003 0h1v1h-1zM1013 0h2v1h-2zM1028 0h1v1h-1zM1035 0h1v1h-1zM1036 0h2v1h-2zM1070.3 0h1v1h-1z"/><path fill="#eff6fc" d="M169 0h2v1h-2zM174 0h2v1h-2zM188 0h1v1h-1zM195 0h1v1h-1zM249 0h1v1h-1zM268 0h2v1h-2zM272 0h2v1h-2zM277 0h2v1h-2zM288 0h1v1h-1zM298 0h2v1h-2zM302 0h1v1h-1zM309 0h1v1h-1zM360 0h2v1h-2zM367 0h1v1h-1zM392 0h2v1h-2zM398 0h1v1h-1zM407 0h2v1h-2zM409 0h2v1h-2zM417 0h1v1h-1zM420 0h2v1h-2zM444 0h2v1h-2zM529 0h2v1h-2zM631.5 0h2v1h-2zM634.5 0h2v1h-2zM642.5 0h2v1h-2zM658.5 0h2v1h-2zM668.5 0h2v1h-2zM673 0h2v1h-2zM675 0h2v1h-2zM698 0h1v1h-1zM718 0h1v1h-1zM721 0h1v1h-1zM738 0h1v1h-1zM747 0h2v1h-2zM767.4 0h1v1h-1zM797.4 0h1.6v1h-1.6zM817 0h1v1h-1zM829 0h1v1h-1zM874 0h1v1h-1zM882 0h1v1h-1zM885 0h2v1h-2zM890 0h1v1h-1zM899 0h1v1h-1zM942.5 0h2v1h-2zM957.5 0h1v1h-1zM975.5 0h2v1h-2zM982.5 0h1v1h-1zM991 0h1v1h-1zM1008 0h1v1h-1zM1044 0h1v1h-1zM1065.3 0h2v1h-2zM1091.3 0h0.5v1h-0.5z"/></g><g transform="translate(0 582.571) scale(1 14.2381)"><path fill="#eaf3fb" d="M155 0h1v1h-1zM196 0h1v1h-1zM299 0h1v1h-1zM304 0h1v1h-1zM607.5 0h1v1h-1zM614.5 0h2v1h-2zM633.5 0h2v1h-2zM678 0h2v1h-2zM681 0h1v1h-1zM688 0h2v1h-2zM701 0h1v1h-1zM703 0h2v1h-2zM757 0h2v1h-2zM766 0h0.4v1h-0.4zM766.4 0h1v1h-1zM778.4 0h2v1h-2zM781.4 0h1v1h-1zM793.4 0h1v1h-1zM813 0h2v1h-2zM829 0h1v1h-1zM883 0h1v1h-1zM901 0h1v1h-1zM925.5 0h1v1h-1zM933.5 0h2v1h-2zM985 0h1v1h-1zM1023 0h1v1h-1zM1035 0h1v1h-1zM1058.3 0h2v1h-2zM1064.3 0h1v1h-1zM1074.3 0h2v1h-2zM1078.3 0h2v1h-2z"/><path fill="#eff6fc" d="M156 0h2v1h-2zM164 0h1v1h-1zM166 0h1v1h-1zM175 0h1v1h-1zM202 0h2v1h-2zM212 0h1v1h-1zM227 0h1v1h-1zM252 0h1v1h-1zM255 0h2v1h-2zM266 0h1v1h-1zM272 0h2v1h-2zM310 0h2v1h-2zM318 0h1v1h-1zM321 0h1v1h-1zM327 0h2v1h-2zM340 0h2v1h-2zM351 0h1v1h-1zM353 0h2v1h-2zM357 0h2v1h-2zM373 0h1v1h-1zM391 0h1v1h-1zM398 0h1v1h-1zM399 0h1v1h-1zM415 0h2v1h-2zM423 0h1v1h-1zM427 0h2v1h-2zM611.5 0h1v1h-1zM621.5 0h1v1h-1zM628.5 0h2v1h-2zM654.5 0h1v1h-1zM747 0h1v1h-1zM761 0h1v1h-1zM785.4 0h2v1h-2zM796.4 0h1v1h-1zM838 0h1v1h-1zM855 0h2v1h-2zM882 0h1v1h-1zM906 0h1v1h-1zM911 0h2v1h-2zM916 0h1v1h-1zM917 0h1v1h-1zM957.5 0h2v1h-2zM971.5 0h2v1h-2zM973.5 0h1v1h-1zM974.5 0h1v1h-1zM978.5 0h1v1h-1zM1003 0h2v1h-2zM1016 0h2v1h-2zM1057.3 0h1v1h-1zM1065.3 0h1v1h-1zM1090.3 0h1v1h-1z"/><path fill="#e6f0fa" d="M680 0h1v1h-1zM1013 0h2v1h-2z"/></g><g transform="translate(0 596.810) scale(1 14.2381)"><path fill="#eff6fc" d="M154 0h1v1h-1zM198 0h2v1h-2zM201 0h1v1h-1zM231 0h1v1h-1zM240 0h1v1h-1zM244 0h1v1h-1zM245 0h2v1h-2zM252 0h1v1h-1zM262 0h2v1h-2zM284 0h2v1h-2zM289 0h1v1h-1zM295 0h1v1h-1zM339 0h1v1h-1zM343 0h1v1h-1zM348 0h1v1h-1zM362 0h1v1h-1zM400 0h1v1h-1zM432 0h2v1h-2zM440 0h2v1h-2zM443 0h1v1h-1zM550 0h2v1h-2zM650.5 0h1v1h-1zM651.5 0h2v1h-2zM693 0h1v1h-1zM705 0h1v1h-1zM734 0h2v1h-2zM736 0h2v1h-2zM745 0h2v1h-2zM754 0h1v1h-1zM758 0h1v1h-1zM763 0h2v1h-2zM765 0h1v1h-1zM783.4 0h2v1h-2zM795.4 0h1v1h-1zM830 0h2v1h-2zM854 0h1v1h-1zM856 0h1v1h-1zM868 0h1v1h-1zM879 0h1v1h-1zM897 0h2v1h-2zM917 0h2v1h-2zM920 0h0.5v1h-0.5zM939.5 0h1v1h-1zM952.5 0h1v1h-1zM959.5 0h2v1h-2zM968.5 0h1v1h-1zM973.5 0h1v1h-1zM977.5 0h1v1h-1zM1000 0h2v1h-2zM1033 0h1v1h-1zM1037 0h2v1h-2zM1054 0h2v1h-2zM1079.3 0h2v1h-2zM1083.3 0h1v1h-1z"/><path fill="#eaf3fb" d="M158 0h2v1h-2zM162 0h2v1h-2zM172 0h1v1h-1zM193 0h1v1h-1zM202 0h2v1h-2zM223 0h1v1h-1zM248 0h1v1h-1zM280 0h1v1h-1zM281 0h1v1h-1zM296 0h1v1h-1zM337 0h2v1h-2zM647.5 0h1v1h-1zM669.5 0h1v1h-1zM674 0h1v1h-1zM675 0h1v1h-1zM691 0h1v1h-1zM741 0h1v1h-1zM759 0h2v1h-2zM793.4 0h1v1h-1zM827 0h1v1h-1zM828 0h1v1h-1zM913 0h1v1h-1zM947.5 0h2v1h-2zM990 0h2v1h-2zM1007 0h1v1h-1zM1029 0h1v1h-1zM1034 0h1v1h-1zM1040 0h2v1h-2zM1068.3 0h1v1h-1zM1001 0h1v1h-1zM1008 0h1v1h-1z"/><path fill="#e6f0fa" d="M806 0h1v1h-1zM993 0h1v1h-1zM996 0h1v1h-1zM997 0h1v1h-1zM999 0h2v1h-2zM1004 0h2v1h-2zM1006 0h2v1h-2z"/><path fill="#7cb7da" d="M811 0h2v1h-2z"/><path fill="#9ecae1" d="M813 0h1v1h-1z"/><path fill="#cadef0" d="M814 0h1v1h-1zM815 0h1v1h-1zM1067 0h2v1h-2zM1070 0h1v1h-1zM1076 0h1v1h-1zM1077 0h2v1h-2z"/><path fill="#cee0f2" d="M816 0h1v1h-1z"/><path fill="#deebf7" d="M843 0h1v1h-1zM846 0h2v1h-2zM987 0h1v1h-1zM994 0h2v1h-2z"/><path fill="#dae8f6" d="M844 0h2v1h-2zM1082 0h0.5v1h-0.5zM986 0h1v1h-1zM988 0h1v1h-1zM991 0h1v1h-1z"/><path fill="#a5cde3" d="M1060 0h2v1h-2zM1064 0h2v1h-2z"/><path fill="#b2d2e8" d="M1062 0h2v1h-2zM1088 0h1v1h-1z"/><path fill="#c6dbef" d="M1066 0h1v1h-1zM1071 0h1v1h-1z"/><path fill="#bfd8ed" d="M1069 0h1v1h-1zM1074 0h2v1h-2z"/><path fill="#b9d5ea" d="M1072 0h2v1h-2zM1086 0h2v1h-2z"/><path fill="#d6e6f4" d="M1079 0h2v1h-2zM1081 0h1v1h-1zM985 0h1v1h-1z"/><path fill="#e2eef8" d="M989 0h1v1h-1zM990 0h1v1h-1zM992 0h1v1h-1zM998 0h1v1h-1zM1002 0h1v1h-1zM1003 0h1v1h-1z"/></g><g transform="translate(0 611.048) scale(1 14.2381)"><path fill="#eaf3fb" d="M160 0h1v1h-1zM204 0h2v1h-2zM206 0h1v1h-1zM209 0h1v1h-1zM285 0h1v1h-1zM291 0h1v1h-1zM298 0h2v1h-2zM305 0h1v1h-1zM325 0h1v1h-1zM388 0h2v1h-2zM612.5 0h1v1h-1zM627.5 0h1v1h-1zM634.5 0h1v1h-1zM636.5 0h2v1h-2zM645.5 0h2v1h-2zM657.5 0h2v1h-2zM692 0h2v1h-2zM699 0h1v1h-1zM705 0h2v1h-2zM715 0h2v1h-2zM761 0h2v1h-2zM763 0h2v1h-2zM800 0h2v1h-2zM815 0h1v1h-1zM830 0h1v1h-1zM846 0h1v1h-1zM871 0h1v1h-1zM878 0h2v1h-2zM914 0h1v1h-1zM947.5 0h1v1h-1zM1015 0h1v1h-1zM1017 0h1v1h-1zM1056 0h1v1h-1zM1057.3 0h2v1h-2zM1074.3 0h2v1h-2z"/><path fill="#eff6fc" d="M161 0h2v1h-2zM171 0h1v1h-1zM175 0h2v1h-2zM177 0h1v1h-1zM213 0h1v1h-1zM223 0h1v1h-1zM232 0h2v1h-2zM234 0h2v1h-2zM240 0h2v1h-2zM246 0h2v1h-2zM248 0h2v1h-2zM251 0h2v1h-2zM270 0h2v1h-2zM319 0h1v1h-1zM330 0h2v1h-2zM357 0h1v1h-1zM369 0h2v1h-2zM406 0h1v1h-1zM415 0h1v1h-1zM421 0h1v1h-1zM424 0h1v1h-1zM427 0h1v1h-1zM472 0h2v1h-2zM647.5 0h2v1h-2zM665.5 0h2v1h-2zM671.5 0h0.5v1h-0.5zM720 0h1v1h-1zM740 0h2v1h-2zM746 0h2v1h-2zM766 0h0.4v1h-0.4zM790.4 0h2v1h-2zM825 0h2v1h-2zM841 0h2v1h-2zM852 0h2v1h-2zM890 0h1v1h-1zM906 0h2v1h-2zM908 0h1v1h-1zM910 0h2v1h-2zM923.5 0h2v1h-2zM929.5 0h2v1h-2zM965.5 0h2v1h-2zM976.5 0h2v1h-2zM978.5 0h1v1h-1zM995 0h1v1h-1zM1013 0h1v1h-1zM1034 0h2v1h-2zM1038 0h1v1h-1zM1065.3 0h1v1h-1zM1071.3 0h2v1h-2zM1082.3 0h2v1h-2z"/></g><g transform="translate(0 625.286) scale(1 14.2381)"><path fill="#eff6fc" d="M167 0h1v1h-1zM183 0h1v1h-1zM192 0h2v1h-2zM222 0h2v1h-2zM235 0h1v1h-1zM250 0h2v1h-2zM259 0h2v1h-2zM269 0h1v1h-1zM271 0h2v1h-2zM298 0h2v1h-2zM327 0h1v1h-1zM331 0h2v1h-2zM349 0h1v1h-1zM359 0h1v1h-1zM362 0h1v1h-1zM368 0h1v1h-1zM382 0h2v1h-2zM417 0h2v1h-2zM441 0h2v1h-2zM443 0h1v1h-1zM444 0h2v1h-2zM611.5 0h1v1h-1zM614.5 0h2v1h-2zM658.5 0h1v1h-1zM674 0h1v1h-1zM676 0h2v1h-2zM683 0h1v1h-1zM720 0h1v1h-1zM744 0h1v1h-1zM745 0h1v1h-1zM751 0h1v1h-1zM759 0h2v1h-2zM761 0h1v1h-1zM785.4 0h1v1h-1zM801 0h1v1h-1zM819 0h1v1h-1zM831 0h1v1h-1zM845 0h1v1h-1zM853 0h1v1h-1zM933.5 0h1v1h-1zM945.5 0h1v1h-1zM971.5 0h1v1h-1zM979.5 0h1v1h-1zM1029 0h2v1h-2zM1037 0h2v1h-2zM1042 0h1v1h-1zM1046 0h2v1h-2zM981 0h1v1h-1zM982 0h2v1h-2zM991 0h2v1h-2zM993 0h1v1h-1zM994 0h2v1h-2zM996 0h1v1h-1zM998 0h1v1h-1zM999 0h2v1h-2zM1001 0h2v1h-2zM1003 0h1v1h-1zM1004 0h1v1h-1zM1052 0h1v1h-1zM1053 0h2v1h-2z"/><path fill="#eaf3fb" d="M185 0h1v1h-1zM210 0h1v1h-1zM237 0h2v1h-2zM308 0h1v1h-1zM338 0h1v1h-1zM360 0h1v1h-1zM419 0h1v1h-1zM608.5 0h1v1h-1zM616.5 0h1v1h-1zM619.5 0h1v1h-1zM622.5 0h2v1h-2zM628.5 0h1v1h-1zM629.5 0h1v1h-1zM661.5 0h1v1h-1zM681 0h1v1h-1zM707 0h1v1h-1zM713 0h1v1h-1zM728 0h1v1h-1zM740 0h2v1h-2zM747 0h1v1h-1zM752 0h1v1h-1zM781.4 0h1v1h-1zM832 0h2v1h-2zM872 0h1v1h-1zM889 0h2v1h-2zM906 0h1v1h-1zM935.5 0h1v1h-1zM942.5 0h1v1h-1zM944.5 0h1v1h-1zM966.5 0h1v1h-1zM987 0h1v1h-1zM992 0h1v1h-1zM998 0h1v1h-1zM1009 0h1v1h-1zM1013 0h1v1h-1zM1019 0h2v1h-2zM1055 0h1v1h-1zM1058.3 0h2v1h-2zM1077.3 0h1v1h-1zM974 0h1v1h-1zM975 0h2v1h-2zM979 0h2v1h-2zM984 0h1v1h-1zM985 0h2v1h-2zM987 0h2v1h-2zM989 0h2v1h-2zM997 0h1v1h-1zM1034 0h1v1h-1zM1039 0h1v1h-1zM1041 0h2v1h-2zM1043 0h1v1h-1zM1045 0h1v1h-1zM1047 0h2v1h-2zM1050 0h2v1h-2z"/><path fill="#bfd8ed" d="M811 0h1v1h-1z"/><path fill="#cadef0" d="M812 0h1v1h-1z"/><path fill="#c6dbef" d="M813 0h1v1h-1z"/><path fill="#dae8f6" d="M814 0h1v1h-1zM815 0h2v1h-2zM843 0h1v1h-1zM900 0h1v1h-1zM1015 0h2v1h-2zM1020 0h1v1h-1z"/><path fill="#d6e6f4" d="M842 0h1v1h-1z"/><path fill="#deebf7" d="M901 0h1v1h-1zM1014 0h1v1h-1zM1018 0h2v1h-2zM1021 0h1v1h-1zM1022 0h1v1h-1zM1024 0h2v1h-2zM1028 0h1v1h-1z"/><path fill="#e6f0fa" d="M977 0h2v1h-2zM1035 0h1v1h-1zM1036 0h2v1h-2zM1044 0h1v1h-1zM1046 0h1v1h-1zM1049 0h1v1h-1z"/><path fill="#e2eef8" d="M1013 0h1v1h-1zM1017 0h1v1h-1zM1023 0h1v1h-1zM1026 0h2v1h-2zM1029 0h2v1h-2zM1031 0h1v1h-1zM1032 0h1v1h-1zM1033 0h1v1h-1zM1038 0h1v1h-1zM1040 0h1v1h-1z"/></g><g transform="translate(0 639.524) scale(1 14.2381)"><path fill="#eff6fc" d="M159 0h2v1h-2zM168 0h2v1h-2zM172 0h1v1h-1zM191 0h2v1h-2zM202 0h1v1h-1zM208 0h2v1h-2zM249 0h2v1h-2zM256 0h2v1h-2zM259 0h2v1h-2zM262 0h1v1h-1zM288 0h1v1h-1zM292 0h1v1h-1zM335 0h1v1h-1zM341 0h1v1h-1zM372 0h1v1h-1zM375 0h1v1h-1zM390 0h1v1h-1zM397 0h1v1h-1zM400 0h1v1h-1zM415 0h1v1h-1zM622.5 0h1v1h-1zM668.5 0h2v1h-2zM681 0h1v1h-1zM694 0h2v1h-2zM706 0h2v1h-2zM713 0h1v1h-1zM727 0h2v1h-2zM743 0h2v1h-2zM750 0h1v1h-1zM775.4 0h2v1h-2zM777.4 0h2v1h-2zM779.4 0h1v1h-1zM842 0h2v1h-2zM847 0h2v1h-2zM852 0h1v1h-1zM855 0h1v1h-1zM865 0h1v1h-1zM905 0h2v1h-2zM919 0h1v1h-1zM920 0h0.5v1h-0.5zM944.5 0h2v1h-2zM954.5 0h2v1h-2zM963.5 0h2v1h-2zM966.5 0h1v1h-1zM1004 0h2v1h-2zM1018 0h2v1h-2zM1050 0h1v1h-1zM1058.3 0h1v1h-1zM1067.3 0h2v1h-2zM1085.3 0h1v1h-1z"/><path fill="#eaf3fb" d="M205 0h1v1h-1zM234 0h1v1h-1zM333 0h1v1h-1zM337 0h2v1h-2zM635.5 0h1v1h-1zM641.5 0h1v1h-1zM675 0h2v1h-2zM718 0h1v1h-1zM757 0h1v1h-1zM758 0h1v1h-1zM785.4 0h1v1h-1zM807 0h1v1h-1zM814 0h1v1h-1zM819 0h1v1h-1zM832 0h2v1h-2zM874 0h1v1h-1zM883 0h2v1h-2zM885 0h2v1h-2zM903 0h1v1h-1zM932.5 0h1v1h-1zM942.5 0h2v1h-2zM953.5 0h1v1h-1zM956.5 0h1v1h-1zM965.5 0h1v1h-1zM971.5 0h1v1h-1zM988 0h2v1h-2zM992 0h1v1h-1zM994 0h1v1h-1zM1017 0h1v1h-1zM1031 0h2v1h-2zM1057 0h0.3v1h-0.3z"/><path fill="#e6f0fa" d="M926.5 0h1v1h-1z"/></g><g transform="translate(0 653.762) scale(1 14.2381)"><path fill="#eaf3fb" d="M155 0h1v1h-1zM178 0h1v1h-1zM228 0h1v1h-1zM244 0h2v1h-2zM250 0h1v1h-1zM295 0h2v1h-2zM329 0h1v1h-1zM332 0h1v1h-1zM359 0h2v1h-2zM364 0h1v1h-1zM366 0h2v1h-2zM611.5 0h1v1h-1zM637.5 0h2v1h-2zM642.5 0h1v1h-1zM645.5 0h2v1h-2zM653.5 0h2v1h-2zM657.5 0h1v1h-1zM676 0h1v1h-1zM698 0h2v1h-2zM718 0h1v1h-1zM721 0h1v1h-1zM769.4 0h1v1h-1zM798.4 0h0.6v1h-0.6zM809 0h1v1h-1zM826 0h2v1h-2zM877 0h2v1h-2zM969.5 0h1v1h-1zM1017 0h1v1h-1zM1042 0h2v1h-2zM1051 0h2v1h-2zM1032 0h1v1h-1zM1035 0h2v1h-2zM1037 0h1v1h-1zM1043 0h2v1h-2zM1045 0h1v1h-1zM1048 0h1v1h-1zM1049 0h1v1h-1zM1050 0h2v1h-2zM1053 0h2v1h-2zM811 0h1v1h-1zM819 0h1v1h-1z"/><path fill="#eff6fc" d="M157 0h2v1h-2zM187 0h1v1h-1zM192 0h2v1h-2zM197 0h1v1h-1zM230 0h1v1h-1zM238 0h2v1h-2zM291 0h1v1h-1zM308 0h1v1h-1zM350 0h1v1h-1zM358 0h1v1h-1zM371 0h2v1h-2zM376 0h1v1h-1zM379 0h2v1h-2zM394 0h2v1h-2zM400 0h1v1h-1zM407 0h1v1h-1zM416 0h1v1h-1zM422 0h1v1h-1zM430 0h2v1h-2zM432 0h2v1h-2zM434 0h2v1h-2zM436 0h1v1h-1zM445 0h1v1h-1zM461 0h1v1h-1zM501 0h2v1h-2zM577 0h1v1h-1zM593 0h1v1h-1zM668.5 0h1v1h-1zM686 0h1v1h-1zM690 0h1v1h-1zM692 0h1v1h-1zM693 0h1v1h-1zM722 0h2v1h-2zM766 0h0.4v1h-0.4zM778.4 0h1v1h-1zM845 0h1v1h-1zM861 0h2v1h-2zM869 0h1v1h-1zM914 0h2v1h-2zM920 0h0.5v1h-0.5zM930.5 0h2v1h-2zM946.5 0h1v1h-1zM950.5 0h1v1h-1zM959.5 0h1v1h-1zM967.5 0h1v1h-1zM974.5 0h1v1h-1zM993 0h1v1h-1zM1038 0h1v1h-1zM1040 0h2v1h-2zM1065.3 0h2v1h-2zM1075.3 0h2v1h-2zM812 0h2v1h-2zM814 0h1v1h-1zM815 0h2v1h-2zM817 0h1v1h-1zM818 0h1v1h-1zM820 0h1v1h-1zM821 0h2v1h-2zM823 0h2v1h-2zM825 0h1v1h-1zM826 0h1v1h-1zM827 0h1v1h-1zM828 0h1v1h-1zM829 0h1v1h-1zM830 0h2v1h-2zM832 0h2v1h-2zM834 0h1v1h-1zM835 0h2v1h-2zM837 0h1v1h-1zM838 0h1v1h-1zM839 0h2v1h-2zM841 0h1v1h-1zM842 0h1v1h-1zM843 0h2v1h-2zM845 0h1v1h-1zM846 0h1v1h-1zM847 0h1v1h-1zM848 0h1v1h-1zM849 0h2v1h-2zM851 0h1v1h-1zM852 0h1v1h-1zM855 0h2v1h-2zM857 0h1v1h-1zM860 0h1v1h-1zM861 0h1v1h-1zM862 0h1v1h-1zM863 0h1v1h-1zM864 0h1v1h-1zM865 0h1v1h-1zM867 0h2v1h-2zM869 0h1v1h-1z"/><path fill="#e6f0fa" d="M799 0h1v1h-1zM1016 0h2v1h-2zM1020 0h2v1h-2zM1024 0h1v1h-1zM1028 0h1v1h-1zM1031 0h1v1h-1zM1033 0h1v1h-1zM1034 0h1v1h-1zM1038 0h2v1h-2zM1040 0h1v1h-1zM1041 0h1v1h-1zM1042 0h1v1h-1zM1046 0h1v1h-1zM1047 0h1v1h-1zM1052 0h1v1h-1z"/><path fill="#deebf7" d="M1013 0h1v1h-1zM1015 0h1v1h-1zM1027 0h1v1h-1z"/><path fill="#e2eef8" d="M1014 0h1v1h-1zM1018 0h2v1h-2zM1022 0h1v1h-1zM1023 0h1v1h-1zM1025 0h2v1h-2zM1029 0h2v1h-2z"/><path fill="#f3f8fe" d="M853 0h2v1h-2zM858 0h2v1h-2zM866 0h1v1h-1z"/></g></g><g shape-rendering="auto"><rect x="154.00" y="70.00" width="13.00" height="14.24" fill="url(#g1)"/><rect x="167.00" y="84.24" width="64.00" height="14.24" fill="url(#g2)"/><rect x="231.00" y="98.48" width="70.00" height="14.24" fill="url(#g3)"/><rect x="301.00" y="112.71" width="97.00" height="14.24" fill="url(#g4)"/><rect x="398.00" y="126.95" width="5.50" height="14.24" fill="url(#g5)"/><rect x="403.50" y="141.19" width="1.80" height="14.24" fill="url(#g6)"/><rect x="405.30" y="155.43" width="3.70" height="14.24" fill="url(#g7)"/><rect x="409.00" y="169.67" width="2.50" height="14.24" fill="url(#g8)"/><rect x="413.00" y="183.90" width="22.00" height="14.24" fill="url(#g9)"/><rect x="435.00" y="198.14" width="4.00" height="14.24" fill="url(#g10)"/><rect x="439.00" y="212.38" width="2.00" height="14.24" fill="url(#g11)"/><rect x="441.00" y="226.62" width="5.00" height="14.24" fill="url(#g12)"/><rect x="446.00" y="240.86" width="55.00" height="14.24" fill="url(#g13)"/><rect x="501.00" y="255.10" width="106.50" height="14.24" fill="url(#g14)"/><rect x="607.50" y="269.33" width="64.50" height="14.24" fill="url(#g15)"/><rect x="672.00" y="283.57" width="94.40" height="14.24" fill="url(#g16)"/><rect x="766.40" y="297.81" width="32.60" height="14.24" fill="url(#g17)"/><rect x="799.00" y="312.05" width="9.00" height="14.24" fill="url(#g18)"/><rect x="808.00" y="326.29" width="4.00" height="14.24" fill="url(#g19)"/><rect x="812.00" y="340.52" width="10.60" height="14.24" fill="url(#g20)"/><rect x="822.60" y="354.76" width="2.40" height="14.24" fill="url(#g21)"/><rect x="825.00" y="369.00" width="1.20" height="14.24" fill="url(#g22)"/><rect x="826.20" y="383.24" width="3.30" height="14.24" fill="url(#g23)"/><rect x="829.50" y="397.48" width="2.00" height="14.24" fill="url(#g24)"/><rect x="831.50" y="411.71" width="3.50" height="14.24" fill="url(#g25)"/><rect x="835.00" y="425.95" width="7.50" height="14.24" fill="url(#g26)"/><rect x="842.50" y="440.19" width="10.50" height="14.24" fill="url(#g27)"/><rect x="853.00" y="454.43" width="16.00" height="14.24" fill="url(#g28)"/><rect x="869.00" y="468.67" width="32.00" height="14.24" fill="url(#g29)"/><rect x="901.00" y="482.90" width="6.00" height="14.24" fill="url(#g30)"/><rect x="907.00" y="497.14" width="6.60" height="14.24" fill="url(#g31)"/><rect x="913.60" y="511.38" width="3.90" height="14.24" fill="url(#g32)"/><rect x="917.50" y="525.62" width="3.00" height="14.24" fill="url(#g33)"/><rect x="920.50" y="539.86" width="36.00" height="14.24" fill="url(#g34)"/><rect x="956.50" y="554.10" width="18.00" height="14.24" fill="url(#g35)"/><rect x="974.50" y="568.33" width="10.50" height="14.24" fill="url(#g36)"/><rect x="985.00" y="582.57" width="28.00" height="14.24" fill="url(#g37)"/><rect x="1013.00" y="596.81" width="44.30" height="14.24" fill="url(#g38)"/><rect x="1057.30" y="611.05" width="2.70" height="14.24" fill="url(#g39)"/><rect x="1060.00" y="625.29" width="22.50" height="14.24" fill="url(#g40)"/><rect x="1082.50" y="639.52" width="2.50" height="14.24" fill="url(#g41)"/><rect x="1085.00" y="653.76" width="6.80" height="14.24" fill="url(#g42)"/></g><defs><linearGradient id="leg" x1="0" x2="1"><stop offset="0.020" stop-color="#f7fbff"/><stop offset="0.074" stop-color="#eaf3fb"/><stop offset="0.128" stop-color="#deebf7"/><stop offset="0.181" stop-color="#d2e3f3"/><stop offset="0.235" stop-color="#c6dbef"/><stop offset="0.289" stop-color="#b2d2e8"/><stop offset="0.343" stop-color="#9ecae1"/><stop offset="0.396" stop-color="#84bcdc"/><stop offset="0.450" stop-color="#6baed6"/><stop offset="0.504" stop-color="#56a0ce"/><stop offset="0.557" stop-color="#4292c6"/><stop offset="0.611" stop-color="#3282be"/><stop offset="0.665" stop-color="#2171b5"/><stop offset="0.719" stop-color="#1461a8"/><stop offset="0.772" stop-color="#08519c"/><stop offset="0.826" stop-color="#093b7e"/><stop offset="0.880" stop-color="#0a2560"/></linearGradient></defs><rect x="574.3" y="778.7" width="47.7" height="16" fill="url(#leg)"/><rect x="576.9" y="778.7" width="1" height="3" fill="#fff"/><rect x="576.9" y="791.6" width="1" height="3" fill="#fff"/><rect x="617.4" y="778.7" width="1" height="3" fill="#e8eef8"/><rect x="617.4" y="791.6" width="1" height="3" fill="#e8eef8"/></svg>
<div id="labels"><div class="l" style="top:70.00px">26.  Endothelial II</div><div class="l" style="top:84.21px">39.  Endothelial V</div><div class="l" style="top:98.42px">2.  Endothelial</div><div class="l" style="top:112.64px">29.  Endothelial III</div><div class="l" style="top:126.85px">33.  Endothelial IV</div><div class="l" style="top:141.06px">42.  Endothelial VI</div><div class="l" style="top:155.27px">23.  Lymphocyte IV</div><div class="l" style="top:169.48px">30.  Lymphocyte V</div><div class="l" style="top:183.70px">41.  Myeloid III</div><div class="l" style="top:197.91px">13.  Lymphocyte II</div><div class="l" style="top:212.12px">21.  Lymphocyte III</div><div class="l" style="top:226.33px">36.  Lymphocyte VI</div><div class="l" style="top:240.54px">6.  Erythroblasts</div><div class="l" style="top:254.76px">31.  Erythroblasts II</div><div class="l" style="top:268.97px">32.  Adrenal Cortex I</div><div class="l" style="top:283.18px">10.  Lymphocyte</div><div class="l" style="top:297.39px">34.  Adrenal cortex II</div><div class="l" style="top:311.60px">4.  Myeloid</div><div class="l" style="top:325.82px">16.  Unknown V</div><div class="l" style="top:340.03px">17.  Stress Response</div><div class="l" style="top:354.24px">18.  Megakaryocyte</div><div class="l" style="top:368.45px">1.  Unknown I</div><div class="l" style="top:382.66px">14.  Unknown IV</div><div class="l" style="top:396.88px">12.  Melanocyte</div><div class="l" style="top:411.09px">11.  Kidney</div><div class="l" style="top:425.30px">40.  Unknown IX</div><div class="l" style="top:439.51px">27.  Cell Cycle</div><div class="l" style="top:453.72px">37.  Unknown VIII</div><div class="l" style="top:467.94px">3.  Hepatocytes</div><div class="l" style="top:482.15px">5.  Unknown II</div><div class="l" style="top:496.36px">35.  Unknown VII</div><div class="l" style="top:510.57px">8.  Unknown III</div><div class="l" style="top:524.78px">15.  PNS II</div><div class="l" style="top:539.00px">7.  Peripheral Nervous System (PNS) I</div><div class="l" style="top:553.21px">24.  PNS III</div><div class="l" style="top:567.42px">19.  Schwann Cell</div><div class="l" style="top:581.63px">9.  Stellate Cell</div><div class="l" style="top:595.84px">38.  Stromal III</div><div class="l" style="top:610.06px">25.  Stromal I</div><div class="l" style="top:624.27px">28.  Stromal II</div><div class="l" style="top:638.48px">20.  Myeloid II</div><div class="l" style="top:652.69px">22.  Unknown VI</div></div>
<div class="t" style="left:603.8px;top:674.5px;font-size:18px;line-height:22px;transform-origin:0 0;transform:scaleX(0.962)">Cells</div>
<div class="t" style="left:125.5px;top:393px;font-size:18px;line-height:22px;transform-origin:0 0;transform:rotate(-90deg)">GEPs</div>
<div class="t" style="left:574.4px;top:759.6px;font-size:13.8px;line-height:16px;font-weight:bold;transform-origin:0 0;transform:scaleX(0.967)">Activity Scores</div>
<div class="t" style="left:574.1px;top:796px;font-size:13.2px;line-height:16px">0</div>
<div class="t" style="left:606.3px;top:796px;font-size:13.2px;line-height:16px">200</div>
</body></html>
